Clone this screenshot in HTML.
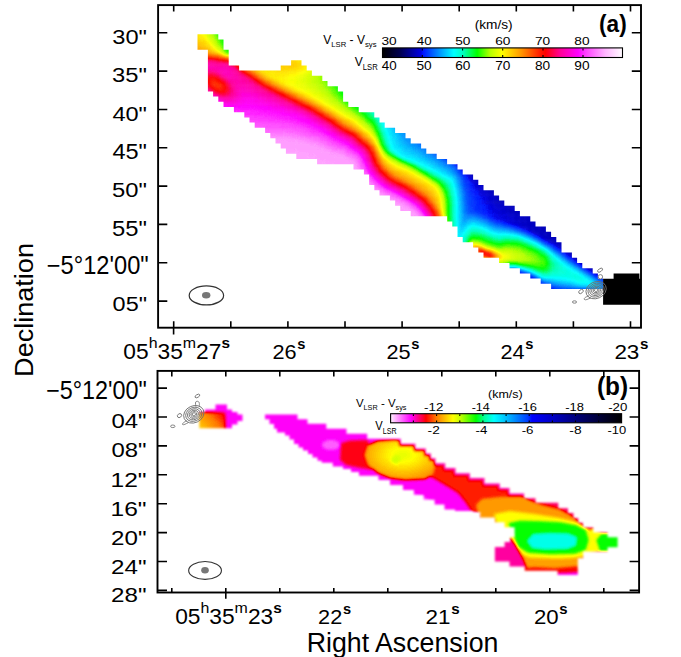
<!DOCTYPE html><html><head><meta charset="utf-8"><style>html,body{margin:0;padding:0;background:#fff;}svg{display:block}</style></head><body>
<svg width="681" height="657" viewBox="0 0 681 657">
<defs>
<linearGradient id="cbA" gradientUnits="userSpaceOnUse" x1="382.5" y1="0" x2="622.5" y2="0"><stop offset="0.0000" stop-color="rgb(0,0,0)"/><stop offset="0.0735" stop-color="rgb(0,0,80)"/><stop offset="0.1604" stop-color="rgb(0,0,225)"/><stop offset="0.1688" stop-color="rgb(0,20,255)"/><stop offset="0.2389" stop-color="rgb(0,150,255)"/><stop offset="0.2974" stop-color="rgb(0,255,255)"/><stop offset="0.3358" stop-color="rgb(0,255,190)"/><stop offset="0.3943" stop-color="rgb(0,255,0)"/><stop offset="0.4478" stop-color="rgb(180,255,0)"/><stop offset="0.4979" stop-color="rgb(255,255,0)"/><stop offset="0.5781" stop-color="rgb(255,150,0)"/><stop offset="0.6616" stop-color="rgb(255,20,0)"/><stop offset="0.6784" stop-color="rgb(255,0,0)"/><stop offset="0.7402" stop-color="rgb(255,0,150)"/><stop offset="0.8154" stop-color="rgb(255,0,255)"/><stop offset="0.8454" stop-color="rgb(255,60,255)"/><stop offset="0.9273" stop-color="rgb(255,180,255)"/><stop offset="1.0025" stop-color="rgb(255,252,255)"/></linearGradient>
<linearGradient id="cbB" gradientUnits="userSpaceOnUse" x1="390.3" y1="0" x2="621.8" y2="0"><stop offset="0.0030" stop-color="rgb(255,235,255)"/><stop offset="0.0894" stop-color="rgb(255,0,255)"/><stop offset="0.1542" stop-color="rgb(255,0,0)"/><stop offset="0.1974" stop-color="rgb(255,120,0)"/><stop offset="0.2708" stop-color="rgb(255,255,0)"/><stop offset="0.3011" stop-color="rgb(200,255,0)"/><stop offset="0.3702" stop-color="rgb(0,255,0)"/><stop offset="0.4048" stop-color="rgb(0,255,150)"/><stop offset="0.4479" stop-color="rgb(0,255,255)"/><stop offset="0.5171" stop-color="rgb(0,170,255)"/><stop offset="0.5948" stop-color="rgb(0,60,255)"/><stop offset="0.6121" stop-color="rgb(0,0,255)"/><stop offset="0.7114" stop-color="rgb(0,0,190)"/><stop offset="0.8194" stop-color="rgb(0,0,110)"/><stop offset="0.9274" stop-color="rgb(0,0,40)"/><stop offset="1.0000" stop-color="rgb(0,0,0)"/></linearGradient>
<filter id="fA" filterUnits="userSpaceOnUse" x="0" y="0" width="681" height="657" color-interpolation-filters="sRGB"><feGaussianBlur stdDeviation="1.6"/><feComponentTransfer><feFuncR type="table" tableValues="0 0 0 0 0 0 0 0 0 0 0 0 0 0 0 0 0 0 0 0 0 0 0 0 0 0 0 0 0 0 0 0 0 0 0 0 0 0 0 0 0 0 0 0 0 0 0 0 0 0 0 0 0 0 0 0 0 0 0 0 0 0 0 0 0 0 0 0 0 0 0 0 0 0 0 0 0 0 0 0 0 0 0 0 0 0 0 0 0 0 0 0 0 0 0 0.033 0.088 0.143 0.199 0.254 0.309 0.364 0.419 0.474 0.529 0.585 0.64 0.695 0.725 0.75 0.775 0.799 0.824 0.848 0.873 0.897 0.922 0.946 0.971 0.995 1 1 1 1 1 1 1 1 1 1 1 1 1 1 1 1 1 1 1 1 1 1 1 1 1 1 1 1 1 1 1 1 1 1 1 1 1 1 1 1 1 1 1 1 1 1 1 1 1 1 1 1 1 1 1 1 1 1 1 1 1 1 1 1 1 1 1 1 1 1 1 1 1 1 1 1 1 1 1 1 1 1 1 1 1 1 1 1 1 1 1 1 1 1 1 1 1 1 1 1 1 1 1 1 1 1 1 1 1 1 1 1 1 1 1 1 1 1 1 1 1"/><feFuncG type="table" tableValues="0 0 0 0 0 0 0 0 0 0 0 0 0 0 0 0 0 0 0 0 0 0 0 0 0 0 0 0 0 0 0 0 0 0 0 0 0 0 0 0.024 0.063 0.097 0.127 0.157 0.188 0.218 0.248 0.279 0.309 0.339 0.37 0.4 0.43 0.461 0.491 0.521 0.552 0.582 0.612 0.641 0.671 0.7 0.729 0.759 0.788 0.818 0.847 0.876 0.906 0.935 0.965 0.994 1 1 1 1 1 1 1 1 1 1 1 1 1 1 1 1 1 1 1 1 1 1 1 1 1 1 1 1 1 1 1 1 1 1 1 1 1 1 1 1 1 1 1 1 1 1 1 1 0.983 0.961 0.94 0.919 0.897 0.876 0.854 0.833 0.811 0.79 0.768 0.747 0.725 0.704 0.683 0.661 0.64 0.618 0.597 0.573 0.547 0.522 0.496 0.471 0.445 0.42 0.395 0.369 0.344 0.318 0.293 0.267 0.242 0.216 0.191 0.165 0.14 0.114 0.089 0.067 0.047 0.027 0.008 0 0 0 0 0 0 0 0 0 0 0 0 0 0 0 0 0 0 0 0 0 0 0 0 0 0 0 0 0 0 0 0 0 0.026 0.059 0.092 0.124 0.157 0.19 0.222 0.25 0.274 0.298 0.322 0.346 0.37 0.394 0.418 0.442 0.466 0.49 0.514 0.538 0.562 0.586 0.61 0.634 0.658 0.682 0.706 0.722 0.737 0.753 0.769 0.784 0.8 0.816 0.831 0.847 0.863 0.878 0.894 0.91 0.925 0.941 0.957 0.973 0.988"/><feFuncB type="table" tableValues="0 0.018 0.036 0.053 0.071 0.089 0.107 0.125 0.143 0.16 0.178 0.196 0.214 0.232 0.25 0.267 0.285 0.303 0.325 0.352 0.379 0.407 0.434 0.461 0.489 0.516 0.543 0.571 0.598 0.625 0.653 0.68 0.707 0.735 0.762 0.789 0.817 0.844 0.871 0.918 0.976 1 1 1 1 1 1 1 1 1 1 1 1 1 1 1 1 1 1 1 1 1 1 1 1 1 1 1 1 1 1 1 0.978 0.95 0.922 0.895 0.867 0.839 0.812 0.784 0.756 0.713 0.66 0.607 0.554 0.5 0.447 0.394 0.341 0.287 0.234 0.181 0.128 0.075 0.021 0 0 0 0 0 0 0 0 0 0 0 0 0 0 0 0 0 0 0 0 0 0 0 0 0 0 0 0 0 0 0 0 0 0 0 0 0 0 0 0 0 0 0 0 0 0 0 0 0 0 0 0 0 0 0 0 0 0 0 0 0 0 0 0 0 0 0 0 0.024 0.064 0.103 0.143 0.183 0.223 0.262 0.302 0.342 0.382 0.421 0.461 0.501 0.541 0.58 0.607 0.629 0.652 0.675 0.698 0.721 0.744 0.767 0.79 0.812 0.835 0.858 0.881 0.904 0.927 0.95 0.973 0.995 1 1 1 1 1 1 1 1 1 1 1 1 1 1 1 1 1 1 1 1 1 1 1 1 1 1 1 1 1 1 1 1 1 1 1 1 1 1 1 1 1 1 1 1 1"/></feComponentTransfer></filter>
<clipPath id="cA"><path d="M197.5,34.2 L202.7,34.2 L207.9,34.2 L213.1,34.2 L218.3,34.2 L218.3,39.4 L223.5,39.4 L223.5,49.8 L228.7,49.8 L228.7,65.4 L233.9,65.4 L239.1,65.4 L239.1,70.6 L244.3,70.6 L249.5,70.6 L254.7,70.6 L259.9,70.6 L265.1,70.6 L270.3,70.6 L275.5,70.6 L280.7,70.6 L280.7,65.4 L285.9,65.4 L291.1,65.4 L291.1,60.2 L296.3,60.2 L301.5,60.2 L301.5,65.4 L306.7,65.4 L306.7,70.6 L311.9,70.6 L311.9,75.8 L317.1,75.8 L322.3,75.8 L322.3,81.0 L327.5,81.0 L327.5,86.2 L332.7,86.2 L337.9,86.2 L337.9,91.4 L343.1,91.4 L343.1,101.8 L348.3,101.8 L348.3,107.0 L353.5,107.0 L358.7,107.0 L358.7,112.2 L363.9,112.2 L369.1,112.2 L374.3,112.2 L374.3,117.4 L379.5,117.4 L379.5,122.6 L384.7,122.6 L384.7,127.8 L389.9,127.8 L395.1,127.8 L395.1,133.0 L400.3,133.0 L405.5,133.0 L405.5,138.2 L410.7,138.2 L410.7,143.4 L415.9,143.4 L421.1,143.4 L421.1,148.6 L426.3,148.6 L426.3,153.8 L431.5,153.8 L436.7,153.8 L436.7,159.0 L441.9,159.0 L447.1,159.0 L447.1,164.2 L452.3,164.2 L457.5,164.2 L457.5,169.4 L462.7,169.4 L462.7,174.6 L467.9,174.6 L473.1,174.6 L473.1,179.8 L478.3,179.8 L478.3,185.0 L483.5,185.0 L483.5,190.2 L488.7,190.2 L493.9,190.2 L493.9,195.4 L499.1,195.4 L499.1,200.6 L504.3,200.6 L504.3,205.8 L509.5,205.8 L514.7,205.8 L514.7,211.0 L519.9,211.0 L519.9,216.2 L525.1,216.2 L530.3,216.2 L530.3,221.4 L535.5,221.4 L535.5,226.6 L540.7,226.6 L545.9,226.6 L545.9,231.8 L551.1,231.8 L551.1,237.0 L556.3,237.0 L556.3,242.2 L561.5,242.2 L561.5,252.6 L566.7,252.6 L571.9,252.6 L571.9,257.8 L577.1,257.8 L577.1,263.0 L582.3,263.0 L582.3,268.2 L587.5,268.2 L592.7,268.2 L592.7,273.4 L597.9,273.4 L597.9,278.6 L603.1,278.6 L603.1,289.0 L597.9,289.0 L592.7,289.0 L587.5,289.0 L582.3,289.0 L577.1,289.0 L571.9,289.0 L566.7,289.0 L561.5,289.0 L556.3,289.0 L551.1,289.0 L551.1,283.8 L545.9,283.8 L540.7,283.8 L540.7,278.6 L535.5,278.6 L530.3,278.6 L530.3,273.4 L525.1,273.4 L519.9,273.4 L519.9,268.2 L514.7,268.2 L509.5,268.2 L509.5,263.0 L504.3,263.0 L499.1,263.0 L499.1,257.8 L493.9,257.8 L488.7,257.8 L483.5,257.8 L483.5,252.6 L478.3,252.6 L478.3,247.4 L473.1,247.4 L473.1,242.2 L467.9,242.2 L462.7,242.2 L462.7,237.0 L457.5,237.0 L457.5,226.6 L452.3,226.6 L452.3,221.4 L447.1,221.4 L447.1,216.2 L441.9,216.2 L436.7,216.2 L431.5,216.2 L426.3,216.2 L421.1,216.2 L415.9,216.2 L410.7,216.2 L410.7,211.0 L405.5,211.0 L400.3,211.0 L400.3,205.8 L395.1,205.8 L395.1,200.6 L389.9,200.6 L389.9,195.4 L384.7,195.4 L379.5,195.4 L379.5,190.2 L374.3,190.2 L374.3,185.0 L369.1,185.0 L369.1,174.6 L363.9,174.6 L363.9,169.4 L358.7,169.4 L353.5,169.4 L353.5,164.2 L348.3,164.2 L343.1,164.2 L337.9,164.2 L332.7,164.2 L327.5,164.2 L322.3,164.2 L317.1,164.2 L317.1,159.0 L311.9,159.0 L306.7,159.0 L301.5,159.0 L296.3,159.0 L296.3,153.8 L291.1,153.8 L285.9,153.8 L285.9,148.6 L280.7,148.6 L280.7,143.4 L275.5,143.4 L275.5,138.2 L270.3,138.2 L270.3,133.0 L265.1,133.0 L265.1,127.8 L259.9,127.8 L254.7,127.8 L254.7,122.6 L249.5,122.6 L249.5,117.4 L244.3,117.4 L244.3,112.2 L239.1,112.2 L233.9,112.2 L233.9,107.0 L228.7,107.0 L223.5,107.0 L223.5,101.8 L218.3,101.8 L218.3,96.6 L213.1,96.6 L213.1,91.4 L207.9,91.4 L207.9,49.8 L202.7,49.8 L197.5,49.8 Z"/></clipPath>
<filter id="fB" filterUnits="userSpaceOnUse" x="0" y="0" width="681" height="657" color-interpolation-filters="sRGB"><feGaussianBlur stdDeviation="1.8"/><feComponentTransfer><feFuncR type="table" tableValues="1 1 1 1 1 1 1 1 1 1 1 1 1 1 1 1 1 1 1 1 1 1 1 1 1 1 1 1 1 1 1 1 1 1 1 1 1 1 1 1 1 1 1 1 1 1 1 1 1 1 1 1 1 1 1 1 1 1 1 1 1 1 1 1 1 1 0.97 0.941 0.911 0.881 0.851 0.822 0.792 0.749 0.702 0.655 0.607 0.56 0.513 0.466 0.418 0.371 0.324 0.276 0.229 0.182 0.135 0.087 0.04 0 0 0 0 0 0 0 0 0 0 0 0 0 0 0 0 0 0 0 0 0 0 0 0 0 0 0 0 0 0 0 0 0 0 0 0 0 0 0 0 0 0 0 0 0 0 0 0 0 0 0 0 0 0 0 0 0 0 0 0 0 0 0 0 0 0 0 0 0 0 0 0 0 0 0 0 0 0 0 0 0 0 0 0 0 0 0 0 0 0 0 0 0 0 0 0 0 0 0 0 0 0 0 0 0 0 0 0 0 0 0 0 0 0 0 0 0 0 0 0 0 0 0 0 0 0 0 0 0 0 0 0 0 0 0 0 0 0 0 0 0 0 0 0 0 0 0 0 0 0 0 0"/><feFuncG type="table" tableValues="0.922 0.909 0.865 0.82 0.776 0.732 0.687 0.643 0.598 0.554 0.509 0.465 0.42 0.376 0.332 0.287 0.243 0.198 0.154 0.109 0.065 0.02 0 0 0 0 0 0 0 0 0 0 0 0 0 0 0 0 0.045 0.09 0.136 0.181 0.226 0.272 0.317 0.363 0.408 0.453 0.489 0.519 0.549 0.579 0.609 0.639 0.67 0.7 0.73 0.76 0.79 0.82 0.85 0.88 0.91 0.94 0.97 1 1 1 1 1 1 1 1 1 1 1 1 1 1 1 1 1 1 1 1 1 1 1 1 1 1 1 1 1 1 1 1 1 1 1 1 1 1 1 1 1 1 1 0.99 0.97 0.95 0.93 0.91 0.89 0.87 0.849 0.829 0.809 0.789 0.769 0.749 0.729 0.709 0.689 0.669 0.646 0.623 0.6 0.576 0.553 0.53 0.507 0.484 0.461 0.438 0.415 0.391 0.368 0.345 0.322 0.299 0.276 0.253 0.221 0.165 0.108 0.051 0 0 0 0 0 0 0 0 0 0 0 0 0 0 0 0 0 0 0 0 0 0 0 0 0 0 0 0 0 0 0 0 0 0 0 0 0 0 0 0 0 0 0 0 0 0 0 0 0 0 0 0 0 0 0 0 0 0 0 0 0 0 0 0 0 0 0 0 0 0 0 0 0 0 0 0 0 0 0 0 0 0 0 0 0 0 0 0 0 0 0 0 0 0"/><feFuncB type="table" tableValues="1 1 1 1 1 1 1 1 1 1 1 1 1 1 1 1 1 1 1 1 1 1 0.965 0.901 0.837 0.772 0.708 0.644 0.579 0.515 0.451 0.387 0.322 0.258 0.194 0.129 0.065 0.001 0 0 0 0 0 0 0 0 0 0 0 0 0 0 0 0 0 0 0 0 0 0 0 0 0 0 0 0 0 0 0 0 0 0 0 0 0 0 0 0 0 0 0 0 0 0 0 0 0 0 0 0.011 0.082 0.153 0.224 0.295 0.366 0.436 0.507 0.578 0.622 0.662 0.702 0.742 0.781 0.821 0.861 0.9 0.94 0.98 1 1 1 1 1 1 1 1 1 1 1 1 1 1 1 1 1 1 1 1 1 1 1 1 1 1 1 1 1 1 1 1 1 1 1 1 1 1 1 0.999 0.988 0.978 0.967 0.956 0.946 0.935 0.924 0.913 0.903 0.892 0.881 0.871 0.86 0.849 0.839 0.828 0.817 0.807 0.796 0.785 0.774 0.764 0.753 0.742 0.73 0.718 0.706 0.694 0.682 0.669 0.657 0.645 0.633 0.621 0.609 0.597 0.585 0.573 0.56 0.548 0.536 0.524 0.512 0.5 0.488 0.476 0.464 0.452 0.439 0.428 0.417 0.407 0.396 0.385 0.375 0.364 0.354 0.343 0.333 0.322 0.311 0.301 0.29 0.28 0.269 0.258 0.248 0.237 0.227 0.216 0.205 0.195 0.184 0.174 0.163 0.153 0.144 0.135 0.126 0.117 0.108 0.099 0.09 0.081 0.072 0.063 0.054 0.045 0.036 0.027 0.018 0.009 0"/></feComponentTransfer></filter>
<filter id="fM" filterUnits="userSpaceOnUse" x="0" y="0" width="681" height="657"><feGaussianBlur stdDeviation="1.3"/></filter>
<mask id="mB" maskUnits="userSpaceOnUse" x="0" y="0" width="681" height="657"><path fill="#fff" filter="url(#fM)" d="M265,414.5 L297.5,414.5 L297.5,419.2 L307.5,419.2 L307.5,423.7 L326.3,423.7 L326.3,428.8 L346.5,428.8 L346.5,433.7 L367.2,433.7 L367.2,438.8 L400.8,438.8 L400.8,443.7 L415.4,443.7 L415.4,448.6 L425.8,448.6 L425.8,453.5 L430.9,453.5 L430.9,458.3 L435.5,458.3 L435.5,463.2 L445.2,463.2 L445.2,468.1 L455.5,468.1 L455.5,473.3 L469.9,473.3 L469.9,478.1 L484.5,478.1 L484.5,483.6 L499.8,483.6 L499.8,487.9 L509.5,487.9 L509.5,493.4 L524.1,493.4 L524.1,498.2 L535.5,498.2 L535.5,502.8 L558.3,502.8 L558.3,508.3 L568,508.3 L568,513.1 L573.5,513.1 L573.5,517.9 L578.3,517.9 L578.3,522.8 L583,522.8 L583,527.6 L593.2,527.6 L593.2,532.4 L607.6,532.4 L607.6,537.2 L617.6,537.2 L617.6,547.2 L607.6,547.2 L607.6,551.4 L583.1,551.4 L583.1,558.2 L577.8,558.2 L577.8,575 L557.6,575 L557.6,570.8 L524.7,570.8 L524.7,566.5 L509.5,566.5 L509.5,561.6 L494.9,561.6 L494.9,547 L504.6,547 L504.6,542.1 L510.1,542.1 L510.1,537.3 L514.6,537.3 L514.6,527.2 L504.6,527.2 L504.6,522.2 L494.9,522.2 L494.9,517.4 L480.3,517.4 L480.3,512 L473,512 L473,511 L455,511 L455,509.5 L444.5,509.5 L444.5,504.6 L434.6,504.6 L434.6,499.7 L423.6,499.7 L423.6,494.9 L413.9,494.9 L413.9,490 L403,490 L403,485 L390,485 L390,480 L378.5,480 L378.5,475.7 L359,475.7 L359,472 L351,472 L351,469 L343,469 L343,466.6 L332.8,466.6 L332.8,462.7 L321.7,462.7 L321.7,460.8 L317.5,460.8 L317.5,457.5 L312.5,457.5 L312.5,454 L308,454 L308,450.5 L303,450.5 L303,447.5 L298.5,447.5 L298.5,444 L294,444 L294,439.5 L289.5,439.5 L289.5,435.5 L285,435.5 L285,432.5 L277,432.5 L277,428.8 L274,428.8 L274,424 L269.5,424 L269.5,419.2 L265,419.2 Z M199.3,412.1 L205,412.1 L205,409.5 L215.5,409.5 L215.5,404.5 L227,404.5 L227,409.5 L232,409.5 L232,412 L237.5,412 L237.5,414.5 L242.5,414.5 L242.5,421 L237.5,421 L237.5,424.5 L232,424.5 L232,428.2 L199.3,428.2 Z"/></mask>
</defs>
<rect width="681" height="657" fill="#fff"/>
<g clip-path="url(#cA)"><g filter="url(#fA)">
<path fill="rgb(32,32,32)" d="M457.8 158.0h3.0v3.0h-3.0zM494.2 184.0h3.0v3.0h-3.0zM499.4 189.2h3.0v3.0h-3.0z"/>
<path fill="rgb(33,33,33)" d="M455.2 158.0h3.0v3.0h-3.0zM457.8 160.6h5.6v3.0h-5.6zM463.0 163.2h3.0v3.0h-3.0zM465.6 165.8h3.0v3.0h-3.0zM468.2 168.4h5.6v3.0h-5.6zM473.4 171.0h3.0v3.0h-3.0zM476.0 173.6h3.0v3.0h-3.0zM478.6 176.2h3.0v3.0h-3.0zM481.2 178.8h5.6v3.0h-5.6zM486.4 181.4h3.0v3.0h-3.0zM489.0 184.0h5.6v3.0h-5.6zM491.6 186.6h5.6v3.0h-5.6zM496.8 189.2h3.0v3.0h-3.0zM499.4 191.8h5.6v3.0h-5.6zM504.6 194.4h3.0v3.0h-3.0zM512.4 199.6h3.0v3.0h-3.0zM517.6 202.2h3.0v3.0h-3.0zM530.6 210.0h3.0v3.0h-3.0zM543.6 220.4h3.0v3.0h-3.0zM546.2 223.0h3.0v3.0h-3.0zM556.6 230.8h3.0v3.0h-3.0zM593.0 262.0h3.0v3.0h-3.0z"/>
<path fill="rgb(34,34,34)" d="M452.6 158.0h3.0v3.0h-3.0zM455.2 160.6h3.0v3.0h-3.0zM460.4 163.2h3.0v3.0h-3.0zM463.0 165.8h3.0v3.0h-3.0zM465.6 168.4h3.0v3.0h-3.0zM470.8 171.0h3.0v3.0h-3.0zM473.4 173.6h3.0v3.0h-3.0zM476.0 176.2h3.0v3.0h-3.0zM478.6 178.8h3.0v3.0h-3.0zM483.8 181.4h3.0v3.0h-3.0zM486.4 184.0h3.0v3.0h-3.0zM489.0 186.6h3.0v3.0h-3.0zM491.6 189.2h5.6v3.0h-5.6zM496.8 191.8h3.0v3.0h-3.0zM499.4 194.4h5.6v3.0h-5.6zM504.6 197.0h3.0v3.0h-3.0zM507.2 199.6h5.6v3.0h-5.6zM512.4 202.2h5.6v3.0h-5.6zM517.6 204.8h5.6v3.0h-5.6zM520.2 207.4h3.0v3.0h-3.0zM525.4 210.0h5.6v3.0h-5.6zM530.6 212.6h3.0v3.0h-3.0zM533.2 215.2h5.6v3.0h-5.6zM535.8 217.8h5.6v3.0h-5.6zM538.4 220.4h5.6v3.0h-5.6zM541.0 223.0h5.6v3.0h-5.6zM546.2 225.6h5.6v3.0h-5.6zM548.8 228.2h5.6v3.0h-5.6zM551.4 230.8h5.6v3.0h-5.6zM554.0 233.4h5.6v3.0h-5.6zM556.6 236.0h8.2v3.0h-8.2zM559.2 238.6h8.2v3.0h-8.2zM564.4 241.2h5.6v3.0h-5.6zM567.0 243.8h3.0v3.0h-3.0zM569.6 246.4h3.0v3.0h-3.0zM572.2 249.0h3.0v3.0h-3.0zM574.8 251.6h3.0v3.0h-3.0zM577.4 254.2h3.0v3.0h-3.0zM580.0 256.8h5.6v3.0h-5.6zM582.6 259.4h3.0v3.0h-3.0zM585.2 262.0h8.2v3.0h-8.2zM590.4 264.6h8.2v3.0h-8.2zM593.0 267.2h8.2v3.0h-8.2zM598.2 269.8h3.0v3.0h-3.0z"/>
<path fill="rgb(35,35,35)" d="M457.8 163.2h3.0v3.0h-3.0zM468.2 171.0h3.0v3.0h-3.0zM481.2 181.4h3.0v3.0h-3.0zM483.8 184.0h3.0v3.0h-3.0zM486.4 186.6h3.0v3.0h-3.0zM489.0 189.2h3.0v3.0h-3.0zM494.2 191.8h3.0v3.0h-3.0zM496.8 194.4h3.0v3.0h-3.0zM499.4 197.0h5.6v3.0h-5.6zM502.0 199.6h5.6v3.0h-5.6zM507.2 202.2h5.6v3.0h-5.6zM509.8 204.8h8.2v3.0h-8.2zM515.0 207.4h5.6v3.0h-5.6zM517.6 210.0h8.2v3.0h-8.2zM522.8 212.6h8.2v3.0h-8.2zM525.4 215.2h8.2v3.0h-8.2zM530.6 217.8h5.6v3.0h-5.6zM533.2 220.4h5.6v3.0h-5.6zM535.8 223.0h5.6v3.0h-5.6zM538.4 225.6h8.2v3.0h-8.2zM541.0 228.2h8.2v3.0h-8.2zM543.6 230.8h8.2v3.0h-8.2zM546.2 233.4h8.2v3.0h-8.2zM548.8 236.0h8.2v3.0h-8.2zM551.4 238.6h8.2v3.0h-8.2zM556.6 241.2h8.2v3.0h-8.2zM559.2 243.8h8.2v3.0h-8.2zM561.8 246.4h8.2v3.0h-8.2zM564.4 249.0h8.2v3.0h-8.2zM569.6 251.6h5.6v3.0h-5.6zM572.2 254.2h5.6v3.0h-5.6zM574.8 256.8h5.6v3.0h-5.6zM577.4 259.4h5.6v3.0h-5.6zM582.6 262.0h3.0v3.0h-3.0zM585.2 264.6h5.6v3.0h-5.6zM590.4 267.2h3.0v3.0h-3.0zM593.0 269.8h5.6v3.0h-5.6zM600.8 269.8h3.0v3.0h-3.0zM598.2 272.4h3.0v3.0h-3.0z"/>
<path fill="rgb(36,36,36)" d="M447.4 152.8h3.0v3.0h-3.0zM447.4 155.4h3.0v3.0h-3.0zM470.8 173.6h3.0v3.0h-3.0zM473.4 176.2h3.0v3.0h-3.0zM476.0 178.8h3.0v3.0h-3.0zM478.6 181.4h3.0v3.0h-3.0zM481.2 184.0h3.0v3.0h-3.0zM483.8 186.6h3.0v3.0h-3.0zM491.6 191.8h3.0v3.0h-3.0zM494.2 194.4h3.0v3.0h-3.0zM496.8 197.0h3.0v3.0h-3.0zM499.4 199.6h3.0v3.0h-3.0zM502.0 202.2h5.6v3.0h-5.6zM507.2 204.8h3.0v3.0h-3.0zM509.8 207.4h5.6v3.0h-5.6zM512.4 210.0h5.6v3.0h-5.6zM517.6 212.6h5.6v3.0h-5.6zM520.2 215.2h5.6v3.0h-5.6zM522.8 217.8h8.2v3.0h-8.2zM525.4 220.4h8.2v3.0h-8.2zM528.0 223.0h8.2v3.0h-8.2zM530.6 225.6h8.2v3.0h-8.2zM533.2 228.2h8.2v3.0h-8.2zM535.8 230.8h8.2v3.0h-8.2zM538.4 233.4h8.2v3.0h-8.2zM543.6 236.0h5.6v3.0h-5.6zM548.8 238.6h3.0v3.0h-3.0zM554.0 241.2h3.0v3.0h-3.0zM556.6 243.8h3.0v3.0h-3.0zM567.0 251.6h3.0v3.0h-3.0zM587.8 267.2h3.0v3.0h-3.0z"/>
<path fill="rgb(37,37,37)" d="M450.0 158.0h3.0v3.0h-3.0zM460.4 165.8h3.0v3.0h-3.0zM463.0 168.4h3.0v3.0h-3.0zM486.4 189.2h3.0v3.0h-3.0zM489.0 191.8h3.0v3.0h-3.0zM491.6 194.4h3.0v3.0h-3.0zM494.2 197.0h3.0v3.0h-3.0zM494.2 199.6h5.6v3.0h-5.6zM499.4 202.2h3.0v3.0h-3.0zM502.0 204.8h5.6v3.0h-5.6zM504.6 207.4h5.6v3.0h-5.6zM507.2 210.0h5.6v3.0h-5.6zM509.8 212.6h8.2v3.0h-8.2zM515.0 215.2h5.6v3.0h-5.6zM517.6 217.8h5.6v3.0h-5.6zM520.2 220.4h5.6v3.0h-5.6zM522.8 223.0h5.6v3.0h-5.6zM525.4 225.6h5.6v3.0h-5.6zM528.0 228.2h5.6v3.0h-5.6zM533.2 230.8h3.0v3.0h-3.0zM541.0 236.0h3.0v3.0h-3.0zM546.2 238.6h3.0v3.0h-3.0zM569.6 254.2h3.0v3.0h-3.0zM580.0 262.0h3.0v3.0h-3.0zM595.6 272.4h3.0v3.0h-3.0zM587.8 293.2h8.2v3.0h-8.2z"/>
<path fill="rgb(38,38,38)" d="M465.6 171.0h3.0v3.0h-3.0zM468.2 173.6h3.0v3.0h-3.0zM470.8 176.2h3.0v3.0h-3.0zM473.4 178.8h3.0v3.0h-3.0zM476.0 181.4h3.0v3.0h-3.0zM478.6 184.0h3.0v3.0h-3.0zM481.2 186.6h3.0v3.0h-3.0zM483.8 189.2h3.0v3.0h-3.0zM486.4 191.8h3.0v3.0h-3.0zM489.0 194.4h3.0v3.0h-3.0zM489.0 197.0h5.6v3.0h-5.6zM491.6 199.6h3.0v3.0h-3.0zM494.2 202.2h5.6v3.0h-5.6zM496.8 204.8h5.6v3.0h-5.6zM499.4 207.4h5.6v3.0h-5.6zM502.0 210.0h5.6v3.0h-5.6zM507.2 212.6h3.0v3.0h-3.0zM509.8 215.2h5.6v3.0h-5.6zM512.4 217.8h5.6v3.0h-5.6zM515.0 220.4h5.6v3.0h-5.6zM517.6 223.0h5.6v3.0h-5.6zM522.8 225.6h3.0v3.0h-3.0zM551.4 241.2h3.0v3.0h-3.0zM559.2 246.4h3.0v3.0h-3.0zM572.2 256.8h3.0v3.0h-3.0zM577.4 293.2h10.8v3.0h-10.8z"/>
<path fill="rgb(39,39,39)" d="M476.0 184.0h3.0v3.0h-3.0zM478.6 186.6h3.0v3.0h-3.0zM481.2 189.2h3.0v3.0h-3.0zM483.8 191.8h3.0v3.0h-3.0zM486.4 194.4h3.0v3.0h-3.0zM486.4 197.0h3.0v3.0h-3.0zM489.0 199.6h3.0v3.0h-3.0zM491.6 202.2h3.0v3.0h-3.0zM494.2 204.8h3.0v3.0h-3.0zM496.8 207.4h3.0v3.0h-3.0zM499.4 210.0h3.0v3.0h-3.0zM502.0 212.6h5.6v3.0h-5.6zM504.6 215.2h5.6v3.0h-5.6zM507.2 217.8h5.6v3.0h-5.6zM509.8 220.4h5.6v3.0h-5.6zM515.0 223.0h3.0v3.0h-3.0zM520.2 225.6h3.0v3.0h-3.0zM530.6 230.8h3.0v3.0h-3.0zM535.8 233.4h3.0v3.0h-3.0zM582.6 264.6h3.0v3.0h-3.0zM590.4 269.8h3.0v3.0h-3.0zM600.8 272.4h3.0v3.0h-3.0zM587.8 290.6h3.0v3.0h-3.0zM564.4 293.2h13.4v3.0h-13.4zM595.6 293.2h3.0v3.0h-3.0z"/>
<path fill="rgb(40,40,40)" d="M452.6 160.6h3.0v3.0h-3.0zM470.8 178.8h3.0v3.0h-3.0zM473.4 181.4h3.0v3.0h-3.0zM478.6 189.2h3.0v3.0h-3.0zM481.2 191.8h3.0v3.0h-3.0zM483.8 194.4h3.0v3.0h-3.0zM486.4 199.6h3.0v3.0h-3.0zM489.0 202.2h3.0v3.0h-3.0zM491.6 204.8h3.0v3.0h-3.0zM491.6 207.4h5.6v3.0h-5.6zM494.2 210.0h5.6v3.0h-5.6zM496.8 212.6h5.6v3.0h-5.6zM499.4 215.2h5.6v3.0h-5.6zM502.0 217.8h5.6v3.0h-5.6zM504.6 220.4h5.6v3.0h-5.6zM512.4 223.0h3.0v3.0h-3.0zM525.4 228.2h3.0v3.0h-3.0zM543.6 238.6h3.0v3.0h-3.0zM554.0 243.8h3.0v3.0h-3.0zM561.8 249.0h3.0v3.0h-3.0zM574.8 259.4h3.0v3.0h-3.0zM556.6 293.2h8.2v3.0h-8.2z"/>
<path fill="rgb(41,41,41)" d="M421.4 137.2h3.0v3.0h-3.0zM444.8 152.8h3.0v3.0h-3.0zM460.4 168.4h3.0v3.0h-3.0zM463.0 171.0h3.0v3.0h-3.0zM465.6 173.6h3.0v3.0h-3.0zM468.2 176.2h3.0v3.0h-3.0zM473.4 184.0h3.0v3.0h-3.0zM476.0 186.6h3.0v3.0h-3.0zM478.6 191.8h3.0v3.0h-3.0zM481.2 194.4h3.0v3.0h-3.0zM483.8 197.0h3.0v3.0h-3.0zM483.8 199.6h3.0v3.0h-3.0zM486.4 202.2h3.0v3.0h-3.0zM489.0 204.8h3.0v3.0h-3.0zM489.0 207.4h3.0v3.0h-3.0zM491.6 210.0h3.0v3.0h-3.0zM494.2 212.6h3.0v3.0h-3.0zM494.2 215.2h5.6v3.0h-5.6zM496.8 217.8h5.6v3.0h-5.6zM517.6 225.6h3.0v3.0h-3.0zM548.8 241.2h3.0v3.0h-3.0zM564.4 251.6h3.0v3.0h-3.0zM567.0 254.2h3.0v3.0h-3.0zM585.2 267.2h3.0v3.0h-3.0zM593.0 272.4h3.0v3.0h-3.0zM598.2 275.0h3.0v3.0h-3.0zM541.0 285.4h5.6v3.0h-5.6zM543.6 288.0h8.2v3.0h-8.2zM546.2 290.6h8.2v3.0h-8.2zM585.2 290.6h3.0v3.0h-3.0zM548.8 293.2h8.2v3.0h-8.2z"/>
<path fill="rgb(42,42,42)" d="M444.8 155.4h3.0v3.0h-3.0zM455.2 163.2h3.0v3.0h-3.0zM457.8 165.8h3.0v3.0h-3.0zM468.2 178.8h3.0v3.0h-3.0zM470.8 181.4h3.0v3.0h-3.0zM473.4 186.6h3.0v3.0h-3.0zM476.0 189.2h3.0v3.0h-3.0zM478.6 194.4h3.0v3.0h-3.0zM481.2 197.0h3.0v3.0h-3.0zM481.2 199.6h3.0v3.0h-3.0zM483.8 202.2h3.0v3.0h-3.0zM486.4 204.8h3.0v3.0h-3.0zM486.4 207.4h3.0v3.0h-3.0zM489.0 210.0h3.0v3.0h-3.0zM489.0 212.6h5.6v3.0h-5.6zM491.6 215.2h3.0v3.0h-3.0zM494.2 217.8h3.0v3.0h-3.0zM502.0 220.4h3.0v3.0h-3.0zM509.8 223.0h3.0v3.0h-3.0zM533.2 233.4h3.0v3.0h-3.0zM538.4 236.0h3.0v3.0h-3.0zM556.6 246.4h3.0v3.0h-3.0zM577.4 262.0h3.0v3.0h-3.0zM528.0 275.0h3.0v3.0h-3.0zM530.6 277.6h5.6v3.0h-5.6zM530.6 280.2h8.2v3.0h-8.2zM533.2 282.8h8.2v3.0h-8.2zM535.8 285.4h5.6v3.0h-5.6zM541.0 288.0h3.0v3.0h-3.0zM554.0 290.6h3.0v3.0h-3.0zM580.0 290.6h5.6v3.0h-5.6zM590.4 290.6h3.0v3.0h-3.0zM598.2 293.2h3.0v3.0h-3.0z"/>
<path fill="rgb(43,43,43)" d="M470.8 184.0h3.0v3.0h-3.0zM473.4 189.2h3.0v3.0h-3.0zM476.0 191.8h3.0v3.0h-3.0zM478.6 197.0h3.0v3.0h-3.0zM481.2 202.2h3.0v3.0h-3.0zM483.8 204.8h3.0v3.0h-3.0zM483.8 207.4h3.0v3.0h-3.0zM486.4 210.0h3.0v3.0h-3.0zM486.4 212.6h3.0v3.0h-3.0zM489.0 215.2h3.0v3.0h-3.0zM522.8 228.2h3.0v3.0h-3.0zM528.0 230.8h3.0v3.0h-3.0zM569.6 256.8h3.0v3.0h-3.0zM587.8 269.8h3.0v3.0h-3.0zM520.2 272.4h5.6v3.0h-5.6zM520.2 275.0h8.2v3.0h-8.2zM600.8 275.0h3.0v3.0h-3.0zM522.8 277.6h8.2v3.0h-8.2zM525.4 280.2h5.6v3.0h-5.6zM528.0 282.8h5.6v3.0h-5.6zM556.6 290.6h3.0v3.0h-3.0zM577.4 290.6h3.0v3.0h-3.0z"/>
<path fill="rgb(44,44,44)" d="M424.0 139.8h3.0v3.0h-3.0zM447.4 158.0h3.0v3.0h-3.0zM463.0 173.6h3.0v3.0h-3.0zM465.6 176.2h3.0v3.0h-3.0zM468.2 181.4h3.0v3.0h-3.0zM470.8 186.6h3.0v3.0h-3.0zM473.4 191.8h3.0v3.0h-3.0zM476.0 194.4h3.0v3.0h-3.0zM476.0 197.0h3.0v3.0h-3.0zM478.6 199.6h3.0v3.0h-3.0zM478.6 202.2h3.0v3.0h-3.0zM481.2 204.8h3.0v3.0h-3.0zM481.2 207.4h3.0v3.0h-3.0zM483.8 210.0h3.0v3.0h-3.0zM483.8 212.6h3.0v3.0h-3.0zM491.6 217.8h3.0v3.0h-3.0zM499.4 220.4h3.0v3.0h-3.0zM507.2 223.0h3.0v3.0h-3.0zM515.0 225.6h3.0v3.0h-3.0zM541.0 238.6h3.0v3.0h-3.0zM546.2 241.2h3.0v3.0h-3.0zM551.4 243.8h3.0v3.0h-3.0zM559.2 249.0h3.0v3.0h-3.0zM572.2 259.4h3.0v3.0h-3.0zM580.0 264.6h3.0v3.0h-3.0zM512.4 269.8h8.2v3.0h-8.2zM512.4 272.4h8.2v3.0h-8.2zM517.6 275.0h3.0v3.0h-3.0zM595.6 275.0h3.0v3.0h-3.0zM520.2 277.6h3.0v3.0h-3.0zM546.2 285.4h3.0v3.0h-3.0zM608.6 285.4h3.0v3.0h-3.0zM551.4 288.0h3.0v3.0h-3.0zM559.2 290.6h18.6v3.0h-18.6z"/>
<path fill="rgb(45,45,45)" d="M442.2 152.8h3.0v3.0h-3.0zM460.4 171.0h3.0v3.0h-3.0zM465.6 178.8h3.0v3.0h-3.0zM468.2 184.0h3.0v3.0h-3.0zM470.8 189.2h3.0v3.0h-3.0zM473.4 194.4h3.0v3.0h-3.0zM476.0 199.6h3.0v3.0h-3.0zM476.0 202.2h3.0v3.0h-3.0zM478.6 204.8h3.0v3.0h-3.0zM478.6 207.4h3.0v3.0h-3.0zM481.2 210.0h3.0v3.0h-3.0zM481.2 212.6h3.0v3.0h-3.0zM486.4 215.2h3.0v3.0h-3.0zM520.2 228.2h3.0v3.0h-3.0zM554.0 246.4h3.0v3.0h-3.0zM561.8 251.6h3.0v3.0h-3.0zM507.2 269.8h5.6v3.0h-5.6zM509.8 272.4h3.0v3.0h-3.0zM530.6 275.0h3.0v3.0h-3.0zM541.0 282.8h3.0v3.0h-3.0zM593.0 290.6h3.0v3.0h-3.0z"/>
<path fill="rgb(46,46,46)" d="M426.6 142.4h3.0v3.0h-3.0zM450.0 160.6h3.0v3.0h-3.0zM457.8 168.4h3.0v3.0h-3.0zM468.2 186.6h3.0v3.0h-3.0zM470.8 191.8h3.0v3.0h-3.0zM473.4 197.0h3.0v3.0h-3.0zM473.4 199.6h3.0v3.0h-3.0zM476.0 204.8h3.0v3.0h-3.0zM476.0 207.4h3.0v3.0h-3.0zM478.6 210.0h3.0v3.0h-3.0zM496.8 220.4h3.0v3.0h-3.0zM504.6 223.0h3.0v3.0h-3.0zM512.4 225.6h3.0v3.0h-3.0zM525.4 230.8h3.0v3.0h-3.0zM530.6 233.4h3.0v3.0h-3.0zM535.8 236.0h3.0v3.0h-3.0zM564.4 254.2h3.0v3.0h-3.0zM574.8 262.0h3.0v3.0h-3.0zM582.6 267.2h3.0v3.0h-3.0zM525.4 272.4h3.0v3.0h-3.0zM590.4 272.4h3.0v3.0h-3.0zM538.4 280.2h3.0v3.0h-3.0z"/>
<path fill="rgb(47,47,47)" d="M463.0 176.2h3.0v3.0h-3.0zM465.6 181.4h3.0v3.0h-3.0zM468.2 189.2h3.0v3.0h-3.0zM470.8 194.4h3.0v3.0h-3.0zM470.8 197.0h3.0v3.0h-3.0zM473.4 202.2h3.0v3.0h-3.0zM473.4 204.8h3.0v3.0h-3.0zM473.4 207.4h3.0v3.0h-3.0zM476.0 210.0h3.0v3.0h-3.0zM478.6 212.6h3.0v3.0h-3.0zM489.0 217.8h3.0v3.0h-3.0zM494.2 220.4h3.0v3.0h-3.0zM543.6 241.2h3.0v3.0h-3.0zM548.8 243.8h3.0v3.0h-3.0zM556.6 249.0h3.0v3.0h-3.0zM567.0 256.8h3.0v3.0h-3.0zM603.4 272.4h3.0v3.0h-3.0zM598.2 277.6h5.6v3.0h-5.6zM543.6 282.8h3.0v3.0h-3.0zM548.8 285.4h3.0v3.0h-3.0zM554.0 288.0h3.0v3.0h-3.0zM595.6 290.6h3.0v3.0h-3.0zM600.8 293.2h3.0v3.0h-3.0z"/>
<path fill="rgb(48,48,48)" d="M442.2 155.4h3.0v3.0h-3.0zM455.2 165.8h3.0v3.0h-3.0zM460.4 173.6h3.0v3.0h-3.0zM463.0 178.8h3.0v3.0h-3.0zM465.6 184.0h3.0v3.0h-3.0zM465.6 186.6h3.0v3.0h-3.0zM468.2 191.8h3.0v3.0h-3.0zM468.2 194.4h3.0v3.0h-3.0zM470.8 199.6h3.0v3.0h-3.0zM470.8 202.2h3.0v3.0h-3.0zM470.8 204.8h3.0v3.0h-3.0zM473.4 210.0h3.0v3.0h-3.0zM483.8 215.2h3.0v3.0h-3.0zM502.0 223.0h3.0v3.0h-3.0zM509.8 225.6h3.0v3.0h-3.0zM517.6 228.2h3.0v3.0h-3.0zM577.4 264.6h3.0v3.0h-3.0zM585.2 269.8h3.0v3.0h-3.0zM593.0 275.0h3.0v3.0h-3.0zM603.4 275.0h3.0v3.0h-3.0zM606.0 285.4h3.0v3.0h-3.0zM556.6 288.0h8.2v3.0h-8.2zM606.0 288.0h3.0v3.0h-3.0z"/>
<path fill="rgb(49,49,49)" d="M439.6 150.2h3.0v3.0h-3.0zM439.6 152.8h3.0v3.0h-3.0zM452.6 163.2h3.0v3.0h-3.0zM463.0 181.4h3.0v3.0h-3.0zM465.6 189.2h3.0v3.0h-3.0zM468.2 197.0h3.0v3.0h-3.0zM468.2 199.6h3.0v3.0h-3.0zM468.2 202.2h3.0v3.0h-3.0zM470.8 207.4h3.0v3.0h-3.0zM470.8 210.0h3.0v3.0h-3.0zM522.8 230.8h3.0v3.0h-3.0zM533.2 236.0h3.0v3.0h-3.0zM538.4 238.6h3.0v3.0h-3.0zM551.4 246.4h3.0v3.0h-3.0zM559.2 251.6h3.0v3.0h-3.0zM569.6 259.4h3.0v3.0h-3.0zM520.2 269.8h3.0v3.0h-3.0zM535.8 277.6h3.0v3.0h-3.0zM603.4 277.6h3.0v3.0h-3.0zM608.6 282.8h3.0v3.0h-3.0zM551.4 285.4h3.0v3.0h-3.0zM564.4 288.0h5.6v3.0h-5.6zM598.2 290.6h3.0v3.0h-3.0z"/>
<path fill="rgb(50,50,50)" d="M431.8 147.6h3.0v3.0h-3.0zM444.8 158.0h3.0v3.0h-3.0zM457.8 171.0h3.0v3.0h-3.0zM463.0 184.0h3.0v3.0h-3.0zM465.6 191.8h3.0v3.0h-3.0zM465.6 194.4h3.0v3.0h-3.0zM468.2 204.8h3.0v3.0h-3.0zM468.2 207.4h3.0v3.0h-3.0zM468.2 210.0h3.0v3.0h-3.0zM476.0 212.6h3.0v3.0h-3.0zM481.2 215.2h3.0v3.0h-3.0zM491.6 220.4h3.0v3.0h-3.0zM499.4 223.0h3.0v3.0h-3.0zM507.2 225.6h3.0v3.0h-3.0zM515.0 228.2h3.0v3.0h-3.0zM528.0 233.4h3.0v3.0h-3.0zM561.8 254.2h3.0v3.0h-3.0zM580.0 267.2h3.0v3.0h-3.0zM528.0 272.4h3.0v3.0h-3.0zM546.2 282.8h3.0v3.0h-3.0zM606.0 282.8h3.0v3.0h-3.0zM569.6 288.0h21.2v3.0h-21.2z"/>
<path fill="rgb(51,51,51)" d="M418.8 137.2h3.0v3.0h-3.0zM434.4 147.6h3.0v3.0h-3.0zM434.4 150.2h5.6v3.0h-5.6zM460.4 176.2h3.0v3.0h-3.0zM463.0 186.6h3.0v3.0h-3.0zM465.6 197.0h3.0v3.0h-3.0zM465.6 199.6h3.0v3.0h-3.0zM465.6 202.2h3.0v3.0h-3.0zM486.4 217.8h3.0v3.0h-3.0zM546.2 243.8h3.0v3.0h-3.0zM554.0 249.0h3.0v3.0h-3.0zM572.2 262.0h3.0v3.0h-3.0zM587.8 272.4h3.0v3.0h-3.0zM595.6 277.6h3.0v3.0h-3.0zM600.8 280.2h5.6v3.0h-5.6zM554.0 285.4h3.0v3.0h-3.0zM600.8 290.6h3.0v3.0h-3.0z"/>
<path fill="rgb(52,52,52)" d="M421.4 139.8h3.0v3.0h-3.0zM424.0 142.4h3.0v3.0h-3.0zM426.6 145.0h3.0v3.0h-3.0zM437.0 152.8h3.0v3.0h-3.0zM439.6 155.4h3.0v3.0h-3.0zM447.4 160.6h3.0v3.0h-3.0zM455.2 168.4h3.0v3.0h-3.0zM465.6 204.8h3.0v3.0h-3.0zM465.6 207.4h3.0v3.0h-3.0zM473.4 212.6h3.0v3.0h-3.0zM496.8 223.0h3.0v3.0h-3.0zM541.0 241.2h3.0v3.0h-3.0zM564.4 256.8h3.0v3.0h-3.0zM533.2 275.0h3.0v3.0h-3.0zM606.0 280.2h3.0v3.0h-3.0zM603.4 290.6h3.0v3.0h-3.0z"/>
<path fill="rgb(53,53,53)" d="M416.2 137.2h3.0v3.0h-3.0zM418.8 139.8h3.0v3.0h-3.0zM429.2 147.6h3.0v3.0h-3.0zM431.8 150.2h3.0v3.0h-3.0zM442.2 158.0h3.0v3.0h-3.0zM450.0 163.2h3.0v3.0h-3.0zM457.8 173.6h3.0v3.0h-3.0zM460.4 178.8h3.0v3.0h-3.0zM463.0 189.2h3.0v3.0h-3.0zM465.6 210.0h3.0v3.0h-3.0zM470.8 212.6h3.0v3.0h-3.0zM478.6 215.2h3.0v3.0h-3.0zM489.0 220.4h3.0v3.0h-3.0zM494.2 223.0h3.0v3.0h-3.0zM504.6 225.6h3.0v3.0h-3.0zM512.4 228.2h3.0v3.0h-3.0zM520.2 230.8h3.0v3.0h-3.0zM606.0 277.6h3.0v3.0h-3.0zM541.0 280.2h3.0v3.0h-3.0zM548.8 282.8h3.0v3.0h-3.0zM603.4 282.8h3.0v3.0h-3.0zM556.6 285.4h3.0v3.0h-3.0zM590.4 288.0h3.0v3.0h-3.0zM603.4 288.0h3.0v3.0h-3.0z"/>
<path fill="rgb(54,54,54)" d="M411.0 132.0h3.0v3.0h-3.0zM413.6 134.6h3.0v3.0h-3.0zM421.4 142.4h3.0v3.0h-3.0zM424.0 145.0h3.0v3.0h-3.0zM434.4 152.8h3.0v3.0h-3.0zM437.0 155.4h3.0v3.0h-3.0zM444.8 160.6h3.0v3.0h-3.0zM452.6 165.8h3.0v3.0h-3.0zM460.4 181.4h3.0v3.0h-3.0zM463.0 191.8h3.0v3.0h-3.0zM468.2 212.6h3.0v3.0h-3.0zM483.8 217.8h3.0v3.0h-3.0zM574.8 264.6h3.0v3.0h-3.0zM512.4 267.2h3.0v3.0h-3.0zM582.6 269.8h3.0v3.0h-3.0zM608.6 280.2h3.0v3.0h-3.0zM559.2 285.4h3.0v3.0h-3.0zM603.4 285.4h3.0v3.0h-3.0z"/>
<path fill="rgb(55,55,55)" d="M405.8 126.8h3.0v3.0h-3.0zM408.4 129.4h3.0v3.0h-3.0zM411.0 134.6h3.0v3.0h-3.0zM413.6 137.2h3.0v3.0h-3.0zM416.2 139.8h3.0v3.0h-3.0zM426.6 147.6h3.0v3.0h-3.0zM429.2 150.2h3.0v3.0h-3.0zM439.6 158.0h3.0v3.0h-3.0zM447.4 163.2h3.0v3.0h-3.0zM455.2 171.0h3.0v3.0h-3.0zM463.0 194.4h3.0v3.0h-3.0zM465.6 212.6h3.0v3.0h-3.0zM476.0 215.2h3.0v3.0h-3.0zM502.0 225.6h3.0v3.0h-3.0zM525.4 233.4h3.0v3.0h-3.0zM530.6 236.0h3.0v3.0h-3.0zM535.8 238.6h3.0v3.0h-3.0zM556.6 251.6h3.0v3.0h-3.0zM567.0 259.4h3.0v3.0h-3.0zM590.4 275.0h3.0v3.0h-3.0zM561.8 285.4h3.0v3.0h-3.0z"/>
<path fill="rgb(56,56,56)" d="M408.4 132.0h3.0v3.0h-3.0zM418.8 142.4h3.0v3.0h-3.0zM421.4 145.0h3.0v3.0h-3.0zM431.8 152.8h3.0v3.0h-3.0zM442.2 160.6h3.0v3.0h-3.0zM450.0 165.8h3.0v3.0h-3.0zM452.6 168.4h3.0v3.0h-3.0zM457.8 176.2h3.0v3.0h-3.0zM460.4 184.0h3.0v3.0h-3.0zM463.0 197.0h3.0v3.0h-3.0zM463.0 199.6h3.0v3.0h-3.0zM481.2 217.8h3.0v3.0h-3.0zM486.4 220.4h3.0v3.0h-3.0zM491.6 223.0h3.0v3.0h-3.0zM509.8 228.2h3.0v3.0h-3.0zM548.8 246.4h3.0v3.0h-3.0zM509.8 267.2h3.0v3.0h-3.0zM522.8 269.8h3.0v3.0h-3.0zM598.2 280.2h3.0v3.0h-3.0zM564.4 285.4h3.0v3.0h-3.0zM593.0 288.0h3.0v3.0h-3.0z"/>
<path fill="rgb(57,57,57)" d="M403.2 126.8h3.0v3.0h-3.0zM405.8 129.4h3.0v3.0h-3.0zM408.4 134.6h3.0v3.0h-3.0zM411.0 137.2h3.0v3.0h-3.0zM413.6 139.8h3.0v3.0h-3.0zM416.2 142.4h3.0v3.0h-3.0zM424.0 147.6h3.0v3.0h-3.0zM426.6 150.2h3.0v3.0h-3.0zM434.4 155.4h3.0v3.0h-3.0zM444.8 163.2h3.0v3.0h-3.0zM460.4 186.6h3.0v3.0h-3.0zM463.0 202.2h3.0v3.0h-3.0zM473.4 215.2h3.0v3.0h-3.0zM499.4 225.6h3.0v3.0h-3.0zM517.6 230.8h3.0v3.0h-3.0zM507.2 267.2h3.0v3.0h-3.0zM515.0 267.2h3.0v3.0h-3.0zM538.4 277.6h3.0v3.0h-3.0zM543.6 280.2h3.0v3.0h-3.0zM551.4 282.8h3.0v3.0h-3.0zM600.8 282.8h3.0v3.0h-3.0zM567.0 285.4h3.0v3.0h-3.0zM600.8 288.0h3.0v3.0h-3.0z"/>
<path fill="rgb(58,58,58)" d="M405.8 132.0h3.0v3.0h-3.0zM411.0 139.8h3.0v3.0h-3.0zM418.8 145.0h3.0v3.0h-3.0zM429.2 152.8h3.0v3.0h-3.0zM437.0 158.0h3.0v3.0h-3.0zM455.2 173.6h3.0v3.0h-3.0zM463.0 204.8h3.0v3.0h-3.0zM463.0 207.4h3.0v3.0h-3.0zM463.0 210.0h3.0v3.0h-3.0zM465.6 215.2h8.2v3.0h-8.2zM478.6 217.8h3.0v3.0h-3.0zM496.8 225.6h3.0v3.0h-3.0zM543.6 243.8h3.0v3.0h-3.0zM559.2 254.2h3.0v3.0h-3.0zM569.6 262.0h3.0v3.0h-3.0zM577.4 267.2h3.0v3.0h-3.0zM569.6 285.4h3.0v3.0h-3.0zM595.6 288.0h3.0v3.0h-3.0z"/>
<path fill="rgb(59,59,59)" d="M403.2 129.4h3.0v3.0h-3.0zM405.8 134.6h3.0v3.0h-3.0zM408.4 137.2h3.0v3.0h-3.0zM413.6 142.4h3.0v3.0h-3.0zM416.2 145.0h3.0v3.0h-3.0zM421.4 147.6h3.0v3.0h-3.0zM424.0 150.2h3.0v3.0h-3.0zM431.8 155.4h3.0v3.0h-3.0zM439.6 160.6h3.0v3.0h-3.0zM447.4 165.8h3.0v3.0h-3.0zM452.6 171.0h3.0v3.0h-3.0zM457.8 178.8h3.0v3.0h-3.0zM460.4 189.2h3.0v3.0h-3.0zM463.0 212.6h3.0v3.0h-3.0zM483.8 220.4h3.0v3.0h-3.0zM489.0 223.0h3.0v3.0h-3.0zM494.2 225.6h3.0v3.0h-3.0zM507.2 228.2h3.0v3.0h-3.0zM551.4 249.0h3.0v3.0h-3.0zM585.2 272.4h3.0v3.0h-3.0zM593.0 277.6h3.0v3.0h-3.0zM600.8 285.4h3.0v3.0h-3.0zM598.2 288.0h3.0v3.0h-3.0z"/>
<path fill="rgb(60,60,60)" d="M400.6 126.8h3.0v3.0h-3.0zM403.2 132.0h3.0v3.0h-3.0zM405.8 137.2h3.0v3.0h-3.0zM408.4 139.8h3.0v3.0h-3.0zM411.0 142.4h3.0v3.0h-3.0zM418.8 147.6h3.0v3.0h-3.0zM426.6 152.8h3.0v3.0h-3.0zM434.4 158.0h3.0v3.0h-3.0zM442.2 163.2h3.0v3.0h-3.0zM450.0 168.4h3.0v3.0h-3.0zM457.8 181.4h3.0v3.0h-3.0zM460.4 191.8h3.0v3.0h-3.0zM463.0 215.2h3.0v3.0h-3.0zM463.0 217.8h3.0v3.0h-3.0zM476.0 217.8h3.0v3.0h-3.0zM522.8 233.4h3.0v3.0h-3.0zM561.8 256.8h3.0v3.0h-3.0zM530.6 272.4h3.0v3.0h-3.0zM546.2 280.2h3.0v3.0h-3.0zM554.0 282.8h3.0v3.0h-3.0zM572.2 285.4h3.0v3.0h-3.0z"/>
<path fill="rgb(61,61,61)" d="M400.6 129.4h3.0v3.0h-3.0zM403.2 134.6h3.0v3.0h-3.0zM413.6 145.0h3.0v3.0h-3.0zM421.4 150.2h3.0v3.0h-3.0zM429.2 155.4h3.0v3.0h-3.0zM437.0 160.6h3.0v3.0h-3.0zM444.8 165.8h3.0v3.0h-3.0zM460.4 194.4h3.0v3.0h-3.0zM504.6 228.2h3.0v3.0h-3.0zM515.0 230.8h3.0v3.0h-3.0zM538.4 241.2h3.0v3.0h-3.0zM572.2 264.6h3.0v3.0h-3.0zM556.6 282.8h3.0v3.0h-3.0zM574.8 285.4h3.0v3.0h-3.0z"/>
<path fill="rgb(62,62,62)" d="M398.0 126.8h3.0v3.0h-3.0zM400.6 132.0h3.0v3.0h-3.0zM403.2 137.2h3.0v3.0h-3.0zM405.8 139.8h3.0v3.0h-3.0zM408.4 142.4h3.0v3.0h-3.0zM411.0 145.0h3.0v3.0h-3.0zM416.2 147.6h3.0v3.0h-3.0zM424.0 152.8h3.0v3.0h-3.0zM431.8 158.0h3.0v3.0h-3.0zM439.6 163.2h3.0v3.0h-3.0zM447.4 168.4h3.0v3.0h-3.0zM455.2 176.2h3.0v3.0h-3.0zM457.8 184.0h3.0v3.0h-3.0zM460.4 197.0h3.0v3.0h-3.0zM460.4 199.6h3.0v3.0h-3.0zM465.6 217.8h3.0v3.0h-3.0zM473.4 217.8h3.0v3.0h-3.0zM481.2 220.4h3.0v3.0h-3.0zM486.4 223.0h3.0v3.0h-3.0zM491.6 225.6h3.0v3.0h-3.0zM502.0 228.2h3.0v3.0h-3.0zM528.0 236.0h3.0v3.0h-3.0zM533.2 238.6h3.0v3.0h-3.0zM554.0 251.6h3.0v3.0h-3.0zM564.4 259.4h3.0v3.0h-3.0zM580.0 269.8h3.0v3.0h-3.0zM595.6 280.2h3.0v3.0h-3.0zM559.2 282.8h3.0v3.0h-3.0zM577.4 285.4h3.0v3.0h-3.0z"/>
<path fill="rgb(63,63,63)" d="M395.4 124.2h3.0v3.0h-3.0zM398.0 129.4h3.0v3.0h-3.0zM400.6 134.6h3.0v3.0h-3.0zM403.2 139.8h3.0v3.0h-3.0zM405.8 142.4h3.0v3.0h-3.0zM413.6 147.6h3.0v3.0h-3.0zM418.8 150.2h3.0v3.0h-3.0zM421.4 152.8h3.0v3.0h-3.0zM426.6 155.4h3.0v3.0h-3.0zM434.4 160.6h3.0v3.0h-3.0zM442.2 165.8h3.0v3.0h-3.0zM450.0 171.0h3.0v3.0h-3.0zM452.6 173.6h3.0v3.0h-3.0zM457.8 186.6h3.0v3.0h-3.0zM460.4 202.2h3.0v3.0h-3.0zM460.4 204.8h3.0v3.0h-3.0zM468.2 217.8h5.6v3.0h-5.6zM463.0 220.4h3.0v3.0h-3.0zM499.4 228.2h3.0v3.0h-3.0zM525.4 269.8h3.0v3.0h-3.0zM535.8 275.0h3.0v3.0h-3.0zM587.8 275.0h3.0v3.0h-3.0zM548.8 280.2h3.0v3.0h-3.0zM561.8 282.8h3.0v3.0h-3.0zM598.2 282.8h3.0v3.0h-3.0zM580.0 285.4h3.0v3.0h-3.0z"/>
<path fill="rgb(64,64,64)" d="M392.8 121.6h3.0v3.0h-3.0zM395.4 126.8h3.0v3.0h-3.0zM398.0 132.0h3.0v3.0h-3.0zM400.6 137.2h3.0v3.0h-3.0zM408.4 145.0h3.0v3.0h-3.0zM411.0 147.6h3.0v3.0h-3.0zM416.2 150.2h3.0v3.0h-3.0zM424.0 155.4h3.0v3.0h-3.0zM429.2 158.0h3.0v3.0h-3.0zM437.0 163.2h3.0v3.0h-3.0zM455.2 178.8h3.0v3.0h-3.0zM460.4 207.4h3.0v3.0h-3.0zM460.4 210.0h3.0v3.0h-3.0zM460.4 212.6h3.0v3.0h-3.0zM478.6 220.4h3.0v3.0h-3.0zM496.8 228.2h3.0v3.0h-3.0zM512.4 230.8h3.0v3.0h-3.0zM546.2 246.4h3.0v3.0h-3.0zM556.6 254.2h3.0v3.0h-3.0zM567.0 262.0h3.0v3.0h-3.0zM564.4 282.8h3.0v3.0h-3.0zM582.6 285.4h3.0v3.0h-3.0zM598.2 285.4h3.0v3.0h-3.0z"/>
<path fill="rgb(65,65,65)" d="M392.8 124.2h3.0v3.0h-3.0zM395.4 129.4h3.0v3.0h-3.0zM398.0 134.6h3.0v3.0h-3.0zM400.6 139.8h3.0v3.0h-3.0zM403.2 142.4h3.0v3.0h-3.0zM405.8 145.0h3.0v3.0h-3.0zM413.6 150.2h3.0v3.0h-3.0zM418.8 152.8h3.0v3.0h-3.0zM426.6 158.0h3.0v3.0h-3.0zM431.8 160.6h3.0v3.0h-3.0zM439.6 165.8h3.0v3.0h-3.0zM444.8 168.4h3.0v3.0h-3.0zM457.8 189.2h3.0v3.0h-3.0zM460.4 215.2h3.0v3.0h-3.0zM460.4 217.8h3.0v3.0h-3.0zM465.6 220.4h3.0v3.0h-3.0zM483.8 223.0h3.0v3.0h-3.0zM489.0 225.6h3.0v3.0h-3.0zM520.2 233.4h3.0v3.0h-3.0zM541.0 243.8h3.0v3.0h-3.0zM517.6 267.2h3.0v3.0h-3.0zM574.8 267.2h3.0v3.0h-3.0zM582.6 272.4h3.0v3.0h-3.0zM551.4 280.2h3.0v3.0h-3.0zM567.0 282.8h3.0v3.0h-3.0zM585.2 285.4h3.0v3.0h-3.0z"/>
<path fill="rgb(66,66,66)" d="M390.2 121.6h3.0v3.0h-3.0zM395.4 132.0h3.0v3.0h-3.0zM398.0 137.2h3.0v3.0h-3.0zM408.4 147.6h3.0v3.0h-3.0zM421.4 155.4h3.0v3.0h-3.0zM434.4 163.2h3.0v3.0h-3.0zM447.4 171.0h3.0v3.0h-3.0zM455.2 181.4h3.0v3.0h-3.0zM457.8 191.8h3.0v3.0h-3.0zM460.4 220.4h3.0v3.0h-3.0zM476.0 220.4h3.0v3.0h-3.0zM460.4 223.0h5.6v3.0h-5.6zM494.2 228.2h3.0v3.0h-3.0zM509.8 230.8h3.0v3.0h-3.0zM559.2 256.8h3.0v3.0h-3.0zM541.0 277.6h3.0v3.0h-3.0zM590.4 277.6h3.0v3.0h-3.0zM569.6 282.8h3.0v3.0h-3.0zM587.8 285.4h3.0v3.0h-3.0zM595.6 285.4h3.0v3.0h-3.0z"/>
<path fill="rgb(67,67,67)" d="M392.8 126.8h3.0v3.0h-3.0zM398.0 139.8h3.0v3.0h-3.0zM400.6 142.4h3.0v3.0h-3.0zM403.2 145.0h3.0v3.0h-3.0zM405.8 147.6h3.0v3.0h-3.0zM411.0 150.2h3.0v3.0h-3.0zM416.2 152.8h3.0v3.0h-3.0zM424.0 158.0h3.0v3.0h-3.0zM429.2 160.6h3.0v3.0h-3.0zM437.0 165.8h3.0v3.0h-3.0zM442.2 168.4h3.0v3.0h-3.0zM450.0 173.6h3.0v3.0h-3.0zM452.6 176.2h3.0v3.0h-3.0zM457.8 194.4h3.0v3.0h-3.0zM468.2 220.4h3.0v3.0h-3.0zM473.4 220.4h3.0v3.0h-3.0zM481.2 223.0h3.0v3.0h-3.0zM460.4 225.6h3.0v3.0h-3.0zM486.4 225.6h3.0v3.0h-3.0zM491.6 228.2h3.0v3.0h-3.0zM525.4 236.0h3.0v3.0h-3.0zM548.8 249.0h3.0v3.0h-3.0zM569.6 264.6h3.0v3.0h-3.0zM554.0 280.2h3.0v3.0h-3.0zM593.0 280.2h3.0v3.0h-3.0zM595.6 282.8h3.0v3.0h-3.0zM590.4 285.4h5.6v3.0h-5.6z"/>
<path fill="rgb(68,68,68)" d="M387.6 119.0h3.0v3.0h-3.0zM390.2 124.2h3.0v3.0h-3.0zM392.8 129.4h3.0v3.0h-3.0zM395.4 134.6h3.0v3.0h-3.0zM398.0 142.4h3.0v3.0h-3.0zM400.6 145.0h3.0v3.0h-3.0zM403.2 147.6h3.0v3.0h-3.0zM408.4 150.2h3.0v3.0h-3.0zM413.6 152.8h3.0v3.0h-3.0zM418.8 155.4h3.0v3.0h-3.0zM426.6 160.6h3.0v3.0h-3.0zM431.8 163.2h3.0v3.0h-3.0zM444.8 171.0h3.0v3.0h-3.0zM455.2 184.0h3.0v3.0h-3.0zM457.8 197.0h3.0v3.0h-3.0zM457.8 199.6h3.0v3.0h-3.0zM470.8 220.4h3.0v3.0h-3.0zM460.4 228.2h3.0v3.0h-3.0zM507.2 230.8h3.0v3.0h-3.0zM530.6 238.6h3.0v3.0h-3.0zM535.8 241.2h3.0v3.0h-3.0zM551.4 251.6h3.0v3.0h-3.0zM561.8 259.4h3.0v3.0h-3.0zM577.4 269.8h3.0v3.0h-3.0zM556.6 280.2h3.0v3.0h-3.0zM572.2 282.8h3.0v3.0h-3.0z"/>
<path fill="rgb(69,69,69)" d="M385.0 116.4h3.0v3.0h-3.0zM387.6 121.6h3.0v3.0h-3.0zM390.2 126.8h3.0v3.0h-3.0zM392.8 132.0h3.0v3.0h-3.0zM395.4 137.2h3.0v3.0h-3.0zM395.4 139.8h3.0v3.0h-3.0zM405.8 150.2h3.0v3.0h-3.0zM411.0 152.8h3.0v3.0h-3.0zM416.2 155.4h3.0v3.0h-3.0zM421.4 158.0h3.0v3.0h-3.0zM434.4 165.8h3.0v3.0h-3.0zM439.6 168.4h3.0v3.0h-3.0zM447.4 173.6h3.0v3.0h-3.0zM457.8 202.2h3.0v3.0h-3.0zM457.8 204.8h3.0v3.0h-3.0zM457.8 207.4h3.0v3.0h-3.0zM465.6 223.0h3.0v3.0h-3.0zM478.6 223.0h3.0v3.0h-3.0zM463.0 225.6h3.0v3.0h-3.0zM504.6 230.8h3.0v3.0h-3.0zM517.6 233.4h3.0v3.0h-3.0zM533.2 272.4h3.0v3.0h-3.0zM585.2 275.0h3.0v3.0h-3.0zM543.6 277.6h3.0v3.0h-3.0zM559.2 280.2h3.0v3.0h-3.0z"/>
<path fill="rgb(70,70,70)" d="M382.4 113.8h3.0v3.0h-3.0zM385.0 119.0h3.0v3.0h-3.0zM387.6 124.2h3.0v3.0h-3.0zM390.2 129.4h3.0v3.0h-3.0zM392.8 134.6h3.0v3.0h-3.0zM395.4 142.4h3.0v3.0h-3.0zM398.0 145.0h3.0v3.0h-3.0zM400.6 147.6h3.0v3.0h-3.0zM403.2 150.2h3.0v3.0h-3.0zM408.4 152.8h3.0v3.0h-3.0zM413.6 155.4h3.0v3.0h-3.0zM418.8 158.0h3.0v3.0h-3.0zM424.0 160.6h3.0v3.0h-3.0zM429.2 163.2h3.0v3.0h-3.0zM442.2 171.0h3.0v3.0h-3.0zM452.6 178.8h3.0v3.0h-3.0zM455.2 186.6h3.0v3.0h-3.0zM457.8 210.0h3.0v3.0h-3.0zM457.8 212.6h3.0v3.0h-3.0zM457.8 215.2h3.0v3.0h-3.0zM457.8 217.8h3.0v3.0h-3.0zM489.0 228.2h3.0v3.0h-3.0zM499.4 230.8h5.6v3.0h-5.6zM554.0 254.2h3.0v3.0h-3.0zM564.4 262.0h3.0v3.0h-3.0zM572.2 267.2h3.0v3.0h-3.0zM528.0 269.8h3.0v3.0h-3.0zM538.4 275.0h3.0v3.0h-3.0zM561.8 280.2h3.0v3.0h-3.0zM574.8 282.8h3.0v3.0h-3.0z"/>
<path fill="rgb(71,71,71)" d="M379.8 111.2h3.0v3.0h-3.0zM387.6 126.8h3.0v3.0h-3.0zM390.2 132.0h3.0v3.0h-3.0zM392.8 137.2h3.0v3.0h-3.0zM395.4 145.0h3.0v3.0h-3.0zM405.8 152.8h3.0v3.0h-3.0zM411.0 155.4h3.0v3.0h-3.0zM426.6 163.2h3.0v3.0h-3.0zM431.8 165.8h3.0v3.0h-3.0zM437.0 168.4h3.0v3.0h-3.0zM450.0 176.2h3.0v3.0h-3.0zM455.2 189.2h3.0v3.0h-3.0zM457.8 220.4h3.0v3.0h-3.0zM457.8 223.0h3.0v3.0h-3.0zM468.2 223.0h3.0v3.0h-3.0zM476.0 223.0h3.0v3.0h-3.0zM457.8 225.6h3.0v3.0h-3.0zM483.8 225.6h3.0v3.0h-3.0zM460.4 230.8h3.0v3.0h-3.0zM496.8 230.8h3.0v3.0h-3.0zM515.0 233.4h3.0v3.0h-3.0zM522.8 236.0h3.0v3.0h-3.0zM543.6 246.4h3.0v3.0h-3.0zM580.0 272.4h3.0v3.0h-3.0zM546.2 277.6h5.6v3.0h-5.6zM587.8 277.6h3.0v3.0h-3.0zM564.4 280.2h3.0v3.0h-3.0zM593.0 282.8h3.0v3.0h-3.0z"/>
<path fill="rgb(72,72,72)" d="M382.4 116.4h3.0v3.0h-3.0zM385.0 121.6h3.0v3.0h-3.0zM390.2 134.6h3.0v3.0h-3.0zM392.8 139.8h3.0v3.0h-3.0zM392.8 142.4h3.0v3.0h-3.0zM398.0 147.6h3.0v3.0h-3.0zM400.6 150.2h3.0v3.0h-3.0zM403.2 152.8h3.0v3.0h-3.0zM416.2 158.0h3.0v3.0h-3.0zM421.4 160.6h3.0v3.0h-3.0zM439.6 171.0h3.0v3.0h-3.0zM444.8 173.6h3.0v3.0h-3.0zM452.6 181.4h3.0v3.0h-3.0zM455.2 191.8h3.0v3.0h-3.0zM457.8 228.2h3.0v3.0h-3.0zM463.0 228.2h3.0v3.0h-3.0zM457.8 230.8h3.0v3.0h-3.0zM494.2 230.8h3.0v3.0h-3.0zM457.8 233.4h3.0v3.0h-3.0zM556.6 256.8h3.0v3.0h-3.0zM567.0 264.6h3.0v3.0h-3.0zM520.2 267.2h3.0v3.0h-3.0zM551.4 277.6h3.0v3.0h-3.0zM567.0 280.2h3.0v3.0h-3.0zM590.4 280.2h3.0v3.0h-3.0zM577.4 282.8h3.0v3.0h-3.0z"/>
<path fill="rgb(73,73,73)" d="M379.8 113.8h3.0v3.0h-3.0zM382.4 119.0h3.0v3.0h-3.0zM385.0 124.2h3.0v3.0h-3.0zM387.6 129.4h3.0v3.0h-3.0zM390.2 137.2h3.0v3.0h-3.0zM392.8 145.0h3.0v3.0h-3.0zM395.4 147.6h3.0v3.0h-3.0zM398.0 150.2h3.0v3.0h-3.0zM400.6 152.8h3.0v3.0h-3.0zM405.8 155.4h5.6v3.0h-5.6zM413.6 158.0h3.0v3.0h-3.0zM418.8 160.6h3.0v3.0h-3.0zM424.0 163.2h3.0v3.0h-3.0zM429.2 165.8h3.0v3.0h-3.0zM434.4 168.4h3.0v3.0h-3.0zM455.2 194.4h3.0v3.0h-3.0zM470.8 223.0h5.6v3.0h-5.6zM465.6 225.6h3.0v3.0h-3.0zM481.2 225.6h3.0v3.0h-3.0zM486.4 228.2h3.0v3.0h-3.0zM491.6 230.8h3.0v3.0h-3.0zM457.8 236.0h3.0v3.0h-3.0zM528.0 238.6h3.0v3.0h-3.0zM457.8 241.2h3.0v3.0h-3.0zM533.2 241.2h3.0v3.0h-3.0zM538.4 243.8h3.0v3.0h-3.0zM559.2 259.4h3.0v3.0h-3.0zM574.8 269.8h3.0v3.0h-3.0zM582.6 275.0h3.0v3.0h-3.0zM554.0 277.6h3.0v3.0h-3.0zM569.6 280.2h3.0v3.0h-3.0zM580.0 282.8h3.0v3.0h-3.0zM590.4 282.8h3.0v3.0h-3.0z"/>
<path fill="rgb(74,74,74)" d="M385.0 126.8h3.0v3.0h-3.0zM387.6 132.0h3.0v3.0h-3.0zM387.6 134.6h3.0v3.0h-3.0zM390.2 139.8h3.0v3.0h-3.0zM403.2 155.4h3.0v3.0h-3.0zM411.0 158.0h3.0v3.0h-3.0zM416.2 160.6h3.0v3.0h-3.0zM431.8 168.4h3.0v3.0h-3.0zM437.0 171.0h3.0v3.0h-3.0zM442.2 173.6h3.0v3.0h-3.0zM447.4 176.2h3.0v3.0h-3.0zM452.6 184.0h3.0v3.0h-3.0zM455.2 197.0h3.0v3.0h-3.0zM455.2 199.6h3.0v3.0h-3.0zM460.4 233.4h3.0v3.0h-3.0zM512.4 233.4h3.0v3.0h-3.0zM457.8 238.6h3.0v3.0h-3.0zM546.2 249.0h3.0v3.0h-3.0zM569.6 267.2h3.0v3.0h-3.0zM556.6 277.6h5.6v3.0h-5.6zM572.2 280.2h3.0v3.0h-3.0zM582.6 282.8h5.6v3.0h-5.6z"/>
<path fill="rgb(75,75,75)" d="M374.6 106.0h3.0v3.0h-3.0zM377.2 111.2h3.0v3.0h-3.0zM379.8 116.4h3.0v3.0h-3.0zM382.4 121.6h3.0v3.0h-3.0zM385.0 129.4h3.0v3.0h-3.0zM387.6 137.2h3.0v3.0h-3.0zM390.2 142.4h3.0v3.0h-3.0zM390.2 145.0h3.0v3.0h-3.0zM392.8 147.6h3.0v3.0h-3.0zM395.4 150.2h3.0v3.0h-3.0zM398.0 152.8h3.0v3.0h-3.0zM400.6 155.4h3.0v3.0h-3.0zM408.4 158.0h3.0v3.0h-3.0zM421.4 163.2h3.0v3.0h-3.0zM426.6 165.8h3.0v3.0h-3.0zM455.2 202.2h3.0v3.0h-3.0zM455.2 204.8h3.0v3.0h-3.0zM455.2 207.4h3.0v3.0h-3.0zM455.2 210.0h3.0v3.0h-3.0zM455.2 212.6h3.0v3.0h-3.0zM455.2 215.2h3.0v3.0h-3.0zM478.6 225.6h3.0v3.0h-3.0zM463.0 230.8h3.0v3.0h-3.0zM509.8 233.4h3.0v3.0h-3.0zM520.2 236.0h3.0v3.0h-3.0zM561.8 262.0h3.0v3.0h-3.0zM577.4 272.4h3.0v3.0h-3.0zM561.8 277.6h5.6v3.0h-5.6zM585.2 277.6h3.0v3.0h-3.0zM587.8 282.8h3.0v3.0h-3.0z"/>
<path fill="rgb(76,76,76)" d="M374.6 108.6h3.0v3.0h-3.0zM377.2 113.8h3.0v3.0h-3.0zM379.8 119.0h3.0v3.0h-3.0zM382.4 124.2h3.0v3.0h-3.0zM385.0 132.0h3.0v3.0h-3.0zM387.6 139.8h3.0v3.0h-3.0zM390.2 147.6h3.0v3.0h-3.0zM392.8 150.2h3.0v3.0h-3.0zM405.8 158.0h3.0v3.0h-3.0zM413.6 160.6h3.0v3.0h-3.0zM418.8 163.2h3.0v3.0h-3.0zM424.0 165.8h3.0v3.0h-3.0zM429.2 168.4h3.0v3.0h-3.0zM434.4 171.0h3.0v3.0h-3.0zM439.6 173.6h3.0v3.0h-3.0zM444.8 176.2h3.0v3.0h-3.0zM450.0 178.8h3.0v3.0h-3.0zM452.6 186.6h3.0v3.0h-3.0zM455.2 217.8h3.0v3.0h-3.0zM455.2 220.4h3.0v3.0h-3.0zM455.2 223.0h3.0v3.0h-3.0zM455.2 225.6h3.0v3.0h-3.0zM468.2 225.6h3.0v3.0h-3.0zM476.0 225.6h3.0v3.0h-3.0zM455.2 228.2h3.0v3.0h-3.0zM465.6 228.2h3.0v3.0h-3.0zM483.8 228.2h3.0v3.0h-3.0zM455.2 230.8h3.0v3.0h-3.0zM489.0 230.8h3.0v3.0h-3.0zM499.4 233.4h3.0v3.0h-3.0zM507.2 233.4h3.0v3.0h-3.0zM548.8 251.6h3.0v3.0h-3.0zM551.4 254.2h3.0v3.0h-3.0zM564.4 264.6h3.0v3.0h-3.0zM572.2 269.8h3.0v3.0h-3.0zM567.0 277.6h3.0v3.0h-3.0zM574.8 280.2h3.0v3.0h-3.0zM587.8 280.2h3.0v3.0h-3.0z"/>
<path fill="rgb(77,77,77)" d="M395.4 152.8h3.0v3.0h-3.0zM455.2 233.4h3.0v3.0h-3.0zM496.8 233.4h3.0v3.0h-3.0zM502.0 233.4h5.6v3.0h-5.6zM455.2 236.0h3.0v3.0h-3.0zM460.4 236.0h3.0v3.0h-3.0zM455.2 238.6h3.0v3.0h-3.0zM525.4 238.6h3.0v3.0h-3.0zM460.4 243.8h3.0v3.0h-3.0zM541.0 246.4h3.0v3.0h-3.0zM554.0 256.8h3.0v3.0h-3.0zM567.0 267.2h3.0v3.0h-3.0zM530.6 269.8h3.0v3.0h-3.0zM535.8 272.4h3.0v3.0h-3.0zM541.0 275.0h3.0v3.0h-3.0zM580.0 275.0h3.0v3.0h-3.0zM569.6 277.6h3.0v3.0h-3.0zM582.6 277.6h3.0v3.0h-3.0zM585.2 280.2h3.0v3.0h-3.0z"/>
<path fill="rgb(78,78,78)" d="M372.0 106.0h3.0v3.0h-3.0zM382.4 126.8h3.0v3.0h-3.0zM385.0 134.6h3.0v3.0h-3.0zM387.6 142.4h3.0v3.0h-3.0zM411.0 160.6h3.0v3.0h-3.0zM450.0 181.4h3.0v3.0h-3.0zM452.6 189.2h3.0v3.0h-3.0zM470.8 225.6h5.6v3.0h-5.6zM481.2 228.2h3.0v3.0h-3.0zM463.0 233.4h3.0v3.0h-3.0zM494.2 233.4h3.0v3.0h-3.0zM556.6 259.4h3.0v3.0h-3.0zM559.2 262.0h3.0v3.0h-3.0zM522.8 267.2h3.0v3.0h-3.0zM569.6 269.8h3.0v3.0h-3.0zM574.8 272.4h3.0v3.0h-3.0zM548.8 275.0h13.4v3.0h-13.4zM572.2 277.6h3.0v3.0h-3.0zM577.4 280.2h8.2v3.0h-8.2z"/>
<path fill="rgb(79,79,79)" d="M374.6 111.2h3.0v3.0h-3.0zM377.2 116.4h3.0v3.0h-3.0zM379.8 121.6h3.0v3.0h-3.0zM398.0 155.4h3.0v3.0h-3.0zM403.2 158.0h3.0v3.0h-3.0zM442.2 176.2h3.0v3.0h-3.0zM447.4 178.8h3.0v3.0h-3.0zM452.6 191.8h3.0v3.0h-3.0zM486.4 230.8h3.0v3.0h-3.0zM517.6 236.0h3.0v3.0h-3.0zM460.4 241.2h3.0v3.0h-3.0zM530.6 241.2h3.0v3.0h-3.0zM535.8 243.8h3.0v3.0h-3.0zM507.2 264.6h8.2v3.0h-8.2zM561.8 264.6h3.0v3.0h-3.0zM564.4 267.2h3.0v3.0h-3.0zM572.2 272.4h3.0v3.0h-3.0zM543.6 275.0h5.6v3.0h-5.6zM561.8 275.0h10.8v3.0h-10.8zM577.4 275.0h3.0v3.0h-3.0zM574.8 277.6h3.0v3.0h-3.0zM580.0 277.6h3.0v3.0h-3.0z"/>
<path fill="rgb(80,80,80)" d="M382.4 129.4h3.0v3.0h-3.0zM416.2 163.2h3.0v3.0h-3.0zM421.4 165.8h3.0v3.0h-3.0zM426.6 168.4h3.0v3.0h-3.0zM431.8 171.0h3.0v3.0h-3.0zM437.0 173.6h3.0v3.0h-3.0zM450.0 184.0h3.0v3.0h-3.0zM452.6 194.4h3.0v3.0h-3.0zM468.2 228.2h3.0v3.0h-3.0zM465.6 230.8h3.0v3.0h-3.0zM491.6 233.4h3.0v3.0h-3.0zM460.4 238.6h3.0v3.0h-3.0zM567.0 269.8h3.0v3.0h-3.0zM567.0 272.4h5.6v3.0h-5.6zM572.2 275.0h5.6v3.0h-5.6zM577.4 277.6h3.0v3.0h-3.0z"/>
<path fill="rgb(81,81,81)" d="M372.0 108.6h3.0v3.0h-3.0zM385.0 137.2h3.0v3.0h-3.0zM387.6 145.0h3.0v3.0h-3.0zM452.6 197.0h3.0v3.0h-3.0zM478.6 228.2h3.0v3.0h-3.0zM463.0 236.0h3.0v3.0h-3.0zM515.0 236.0h3.0v3.0h-3.0zM522.8 238.6h3.0v3.0h-3.0zM559.2 264.6h3.0v3.0h-3.0zM504.6 267.2h3.0v3.0h-3.0zM561.8 267.2h3.0v3.0h-3.0zM564.4 269.8h3.0v3.0h-3.0zM559.2 272.4h8.2v3.0h-8.2z"/>
<path fill="rgb(82,82,82)" d="M369.4 106.0h3.0v3.0h-3.0zM374.6 113.8h3.0v3.0h-3.0zM379.8 124.2h3.0v3.0h-3.0zM444.8 178.8h3.0v3.0h-3.0zM450.0 186.6h3.0v3.0h-3.0zM452.6 199.6h3.0v3.0h-3.0zM452.6 202.2h3.0v3.0h-3.0zM452.6 204.8h3.0v3.0h-3.0zM452.6 207.4h3.0v3.0h-3.0zM452.6 210.0h3.0v3.0h-3.0zM452.6 212.6h3.0v3.0h-3.0zM476.0 228.2h3.0v3.0h-3.0zM483.8 230.8h3.0v3.0h-3.0zM489.0 233.4h3.0v3.0h-3.0zM512.4 236.0h3.0v3.0h-3.0zM463.0 246.4h3.0v3.0h-3.0zM543.6 249.0h3.0v3.0h-3.0zM551.4 256.8h3.0v3.0h-3.0zM554.0 259.4h3.0v3.0h-3.0zM556.6 262.0h3.0v3.0h-3.0zM515.0 264.6h3.0v3.0h-3.0zM559.2 269.8h5.6v3.0h-5.6zM538.4 272.4h3.0v3.0h-3.0zM551.4 272.4h8.2v3.0h-8.2z"/>
<path fill="rgb(83,83,83)" d="M377.2 119.0h3.0v3.0h-3.0zM382.4 132.0h3.0v3.0h-3.0zM385.0 139.8h3.0v3.0h-3.0zM439.6 176.2h3.0v3.0h-3.0zM447.4 181.4h3.0v3.0h-3.0zM452.6 215.2h3.0v3.0h-3.0zM452.6 217.8h3.0v3.0h-3.0zM452.6 220.4h3.0v3.0h-3.0zM452.6 223.0h3.0v3.0h-3.0zM470.8 228.2h5.6v3.0h-5.6zM496.8 236.0h5.6v3.0h-5.6zM509.8 236.0h3.0v3.0h-3.0zM528.0 241.2h3.0v3.0h-3.0zM538.4 246.4h3.0v3.0h-3.0zM546.2 251.6h3.0v3.0h-3.0zM548.8 254.2h3.0v3.0h-3.0zM525.4 267.2h3.0v3.0h-3.0zM559.2 267.2h3.0v3.0h-3.0zM533.2 269.8h3.0v3.0h-3.0z"/>
<path fill="rgb(84,84,84)" d="M372.0 111.2h3.0v3.0h-3.0zM390.2 150.2h3.0v3.0h-3.0zM408.4 160.6h3.0v3.0h-3.0zM434.4 173.6h3.0v3.0h-3.0zM450.0 189.2h3.0v3.0h-3.0zM452.6 225.6h3.0v3.0h-3.0zM452.6 228.2h3.0v3.0h-3.0zM452.6 230.8h3.0v3.0h-3.0zM481.2 230.8h3.0v3.0h-3.0zM465.6 233.4h3.0v3.0h-3.0zM502.0 236.0h8.2v3.0h-8.2zM463.0 238.6h3.0v3.0h-3.0zM533.2 243.8h3.0v3.0h-3.0zM556.6 264.6h3.0v3.0h-3.0zM556.6 269.8h3.0v3.0h-3.0zM548.8 272.4h3.0v3.0h-3.0z"/>
<path fill="rgb(85,85,85)" d="M369.4 108.6h3.0v3.0h-3.0zM374.6 116.4h3.0v3.0h-3.0zM379.8 126.8h3.0v3.0h-3.0zM387.6 147.6h3.0v3.0h-3.0zM424.0 168.4h3.0v3.0h-3.0zM429.2 171.0h3.0v3.0h-3.0zM468.2 230.8h3.0v3.0h-3.0zM452.6 233.4h3.0v3.0h-3.0zM486.4 233.4h3.0v3.0h-3.0zM452.6 236.0h3.0v3.0h-3.0zM494.2 236.0h3.0v3.0h-3.0zM520.2 238.6h3.0v3.0h-3.0zM463.0 243.8h3.0v3.0h-3.0zM554.0 262.0h3.0v3.0h-3.0zM556.6 267.2h3.0v3.0h-3.0zM554.0 269.8h3.0v3.0h-3.0z"/>
<path fill="rgb(86,86,86)" d="M366.8 106.0h3.0v3.0h-3.0zM377.2 121.6h3.0v3.0h-3.0zM382.4 134.6h3.0v3.0h-3.0zM385.0 142.4h3.0v3.0h-3.0zM418.8 165.8h3.0v3.0h-3.0zM442.2 178.8h3.0v3.0h-3.0zM447.4 184.0h3.0v3.0h-3.0zM450.0 191.8h3.0v3.0h-3.0zM478.6 230.8h3.0v3.0h-3.0zM491.6 236.0h3.0v3.0h-3.0zM551.4 259.4h3.0v3.0h-3.0zM554.0 267.2h3.0v3.0h-3.0zM551.4 269.8h3.0v3.0h-3.0zM541.0 272.4h3.0v3.0h-3.0zM546.2 272.4h3.0v3.0h-3.0z"/>
<path fill="rgb(87,87,87)" d="M372.0 113.8h3.0v3.0h-3.0zM392.8 152.8h3.0v3.0h-3.0zM400.6 158.0h3.0v3.0h-3.0zM413.6 163.2h3.0v3.0h-3.0zM444.8 181.4h3.0v3.0h-3.0zM450.0 194.4h3.0v3.0h-3.0zM476.0 230.8h3.0v3.0h-3.0zM465.6 236.0h3.0v3.0h-3.0zM463.0 241.2h3.0v3.0h-3.0zM525.4 241.2h3.0v3.0h-3.0zM541.0 249.0h3.0v3.0h-3.0zM517.6 264.6h3.0v3.0h-3.0zM554.0 264.6h3.0v3.0h-3.0zM528.0 267.2h3.0v3.0h-3.0z"/>
<path fill="rgb(88,88,88)" d="M369.4 111.2h3.0v3.0h-3.0zM379.8 129.4h3.0v3.0h-3.0zM382.4 137.2h3.0v3.0h-3.0zM437.0 176.2h3.0v3.0h-3.0zM450.0 197.0h3.0v3.0h-3.0zM470.8 230.8h5.6v3.0h-5.6zM483.8 233.4h3.0v3.0h-3.0zM489.0 236.0h3.0v3.0h-3.0zM517.6 238.6h3.0v3.0h-3.0zM530.6 243.8h3.0v3.0h-3.0zM535.8 246.4h3.0v3.0h-3.0zM548.8 256.8h3.0v3.0h-3.0zM551.4 262.0h3.0v3.0h-3.0zM551.4 267.2h3.0v3.0h-3.0zM535.8 269.8h3.0v3.0h-3.0zM543.6 272.4h3.0v3.0h-3.0z"/>
<path fill="rgb(89,89,89)" d="M366.8 108.6h3.0v3.0h-3.0zM374.6 119.0h3.0v3.0h-3.0zM377.2 124.2h3.0v3.0h-3.0zM385.0 145.0h3.0v3.0h-3.0zM431.8 173.6h3.0v3.0h-3.0zM447.4 186.6h3.0v3.0h-3.0zM450.0 199.6h3.0v3.0h-3.0zM468.2 233.4h3.0v3.0h-3.0zM496.8 238.6h5.6v3.0h-5.6zM551.4 264.6h3.0v3.0h-3.0zM548.8 269.8h3.0v3.0h-3.0z"/>
<path fill="rgb(90,90,90)" d="M359.0 100.8h3.0v3.0h-3.0zM361.6 103.4h3.0v3.0h-3.0zM364.2 106.0h3.0v3.0h-3.0zM372.0 116.4h3.0v3.0h-3.0zM426.6 171.0h3.0v3.0h-3.0zM450.0 202.2h3.0v3.0h-3.0zM450.0 204.8h3.0v3.0h-3.0zM450.0 207.4h3.0v3.0h-3.0zM450.0 210.0h3.0v3.0h-3.0zM450.0 212.6h3.0v3.0h-3.0zM450.0 215.2h3.0v3.0h-3.0zM481.2 233.4h3.0v3.0h-3.0zM515.0 238.6h3.0v3.0h-3.0zM522.8 241.2h3.0v3.0h-3.0zM543.6 251.6h3.0v3.0h-3.0zM546.2 254.2h3.0v3.0h-3.0z"/>
<path fill="rgb(91,91,91)" d="M369.4 113.8h3.0v3.0h-3.0zM379.8 132.0h3.0v3.0h-3.0zM382.4 139.8h3.0v3.0h-3.0zM387.6 150.2h3.0v3.0h-3.0zM395.4 155.4h3.0v3.0h-3.0zM405.8 160.6h3.0v3.0h-3.0zM421.4 168.4h3.0v3.0h-3.0zM439.6 178.8h3.0v3.0h-3.0zM444.8 184.0h3.0v3.0h-3.0zM447.4 189.2h3.0v3.0h-3.0zM450.0 217.8h3.0v3.0h-3.0zM450.0 220.4h3.0v3.0h-3.0zM450.0 223.0h3.0v3.0h-3.0zM486.4 236.0h3.0v3.0h-3.0zM465.6 238.6h3.0v3.0h-3.0zM494.2 238.6h3.0v3.0h-3.0zM502.0 238.6h3.0v3.0h-3.0zM509.8 238.6h5.6v3.0h-5.6zM548.8 259.4h3.0v3.0h-3.0zM520.2 264.6h3.0v3.0h-3.0zM530.6 267.2h3.0v3.0h-3.0z"/>
<path fill="rgb(92,92,92)" d="M346.0 87.8h3.0v3.0h-3.0zM348.6 90.4h3.0v3.0h-3.0zM366.8 111.2h3.0v3.0h-3.0zM377.2 126.8h3.0v3.0h-3.0zM416.2 165.8h3.0v3.0h-3.0zM434.4 176.2h3.0v3.0h-3.0zM442.2 181.4h3.0v3.0h-3.0zM450.0 225.6h3.0v3.0h-3.0zM450.0 228.2h3.0v3.0h-3.0zM450.0 230.8h3.0v3.0h-3.0zM478.6 233.4h3.0v3.0h-3.0zM504.6 238.6h5.6v3.0h-5.6zM528.0 243.8h3.0v3.0h-3.0zM533.2 246.4h3.0v3.0h-3.0zM538.4 249.0h3.0v3.0h-3.0zM548.8 267.2h3.0v3.0h-3.0zM538.4 269.8h3.0v3.0h-3.0zM546.2 269.8h3.0v3.0h-3.0z"/>
<path fill="rgb(93,93,93)" d="M343.4 85.2h3.0v3.0h-3.0zM356.4 100.8h3.0v3.0h-3.0zM359.0 103.4h3.0v3.0h-3.0zM361.6 106.0h3.0v3.0h-3.0zM364.2 108.6h3.0v3.0h-3.0zM374.6 121.6h3.0v3.0h-3.0zM411.0 163.2h3.0v3.0h-3.0zM429.2 173.6h3.0v3.0h-3.0zM447.4 191.8h3.0v3.0h-3.0zM450.0 233.4h3.0v3.0h-3.0zM476.0 233.4h3.0v3.0h-3.0zM483.8 236.0h3.0v3.0h-3.0zM491.6 238.6h3.0v3.0h-3.0zM520.2 241.2h3.0v3.0h-3.0zM465.6 246.4h3.0v3.0h-3.0zM548.8 262.0h3.0v3.0h-3.0zM548.8 264.6h3.0v3.0h-3.0zM502.0 267.2h3.0v3.0h-3.0z"/>
<path fill="rgb(94,94,94)" d="M346.0 90.4h3.0v3.0h-3.0zM348.6 93.0h3.0v3.0h-3.0zM372.0 119.0h3.0v3.0h-3.0zM379.8 134.6h3.0v3.0h-3.0zM382.4 142.4h3.0v3.0h-3.0zM385.0 147.6h3.0v3.0h-3.0zM390.2 152.8h3.0v3.0h-3.0zM444.8 186.6h3.0v3.0h-3.0zM447.4 194.4h3.0v3.0h-3.0zM470.8 233.4h5.6v3.0h-5.6zM468.2 236.0h3.0v3.0h-3.0zM489.0 238.6h3.0v3.0h-3.0zM541.0 251.6h3.0v3.0h-3.0zM504.6 264.6h3.0v3.0h-3.0zM541.0 269.8h5.6v3.0h-5.6z"/>
<path fill="rgb(95,95,95)" d="M343.4 87.8h3.0v3.0h-3.0zM353.8 100.8h3.0v3.0h-3.0zM366.8 113.8h3.0v3.0h-3.0zM369.4 116.4h3.0v3.0h-3.0zM377.2 129.4h3.0v3.0h-3.0zM424.0 171.0h3.0v3.0h-3.0zM437.0 178.8h3.0v3.0h-3.0zM481.2 236.0h3.0v3.0h-3.0zM465.6 241.2h3.0v3.0h-3.0zM525.4 243.8h3.0v3.0h-3.0zM546.2 256.8h3.0v3.0h-3.0zM522.8 264.6h3.0v3.0h-3.0zM533.2 267.2h3.0v3.0h-3.0z"/>
<path fill="rgb(96,96,96)" d="M338.2 80.0h3.0v3.0h-3.0zM340.8 85.2h3.0v3.0h-3.0zM346.0 93.0h3.0v3.0h-3.0zM348.6 95.6h3.0v3.0h-3.0zM356.4 103.4h3.0v3.0h-3.0zM359.0 106.0h3.0v3.0h-3.0zM361.6 108.6h3.0v3.0h-3.0zM364.2 111.2h3.0v3.0h-3.0zM374.6 124.2h3.0v3.0h-3.0zM379.8 137.2h3.0v3.0h-3.0zM382.4 145.0h3.0v3.0h-3.0zM442.2 184.0h3.0v3.0h-3.0zM447.4 197.0h3.0v3.0h-3.0zM496.8 241.2h5.6v3.0h-5.6zM517.6 241.2h3.0v3.0h-3.0zM465.6 243.8h3.0v3.0h-3.0zM530.6 246.4h3.0v3.0h-3.0zM535.8 249.0h3.0v3.0h-3.0zM546.2 267.2h3.0v3.0h-3.0z"/>
<path fill="rgb(97,97,97)" d="M338.2 82.6h3.0v3.0h-3.0zM340.8 87.8h3.0v3.0h-3.0zM343.4 90.4h3.0v3.0h-3.0zM418.8 168.4h3.0v3.0h-3.0zM431.8 176.2h3.0v3.0h-3.0zM439.6 181.4h3.0v3.0h-3.0zM447.4 199.6h3.0v3.0h-3.0zM486.4 238.6h3.0v3.0h-3.0zM494.2 241.2h3.0v3.0h-3.0zM502.0 241.2h3.0v3.0h-3.0zM515.0 241.2h3.0v3.0h-3.0zM543.6 254.2h3.0v3.0h-3.0zM507.2 262.0h3.0v3.0h-3.0zM525.4 264.6h3.0v3.0h-3.0zM499.4 267.2h3.0v3.0h-3.0zM535.8 267.2h3.0v3.0h-3.0z"/>
<path fill="rgb(98,98,98)" d="M346.0 95.6h3.0v3.0h-3.0zM348.6 98.2h3.0v3.0h-3.0zM351.2 100.8h3.0v3.0h-3.0zM353.8 103.4h3.0v3.0h-3.0zM377.2 132.0h3.0v3.0h-3.0zM444.8 189.2h3.0v3.0h-3.0zM447.4 202.2h3.0v3.0h-3.0zM447.4 204.8h3.0v3.0h-3.0zM447.4 207.4h3.0v3.0h-3.0zM447.4 210.0h3.0v3.0h-3.0zM447.4 212.6h3.0v3.0h-3.0zM447.4 215.2h3.0v3.0h-3.0zM447.4 217.8h3.0v3.0h-3.0zM476.0 236.0h5.6v3.0h-5.6zM509.8 241.2h5.6v3.0h-5.6zM522.8 243.8h3.0v3.0h-3.0zM538.4 251.6h3.0v3.0h-3.0zM546.2 259.4h3.0v3.0h-3.0zM509.8 262.0h3.0v3.0h-3.0zM546.2 264.6h3.0v3.0h-3.0zM496.8 267.2h3.0v3.0h-3.0z"/>
<path fill="rgb(99,99,99)" d="M335.6 80.0h3.0v3.0h-3.0zM338.2 85.2h3.0v3.0h-3.0zM340.8 90.4h3.0v3.0h-3.0zM343.4 93.0h3.0v3.0h-3.0zM356.4 106.0h3.0v3.0h-3.0zM359.0 108.6h3.0v3.0h-3.0zM361.6 111.2h3.0v3.0h-3.0zM364.2 113.8h3.0v3.0h-3.0zM366.8 116.4h3.0v3.0h-3.0zM369.4 119.0h3.0v3.0h-3.0zM372.0 121.6h3.0v3.0h-3.0zM374.6 126.8h3.0v3.0h-3.0zM379.8 139.8h3.0v3.0h-3.0zM398.0 158.0h3.0v3.0h-3.0zM403.2 160.6h3.0v3.0h-3.0zM426.6 173.6h3.0v3.0h-3.0zM447.4 220.4h3.0v3.0h-3.0zM447.4 223.0h3.0v3.0h-3.0zM447.4 225.6h3.0v3.0h-3.0zM470.8 236.0h5.6v3.0h-5.6zM483.8 238.6h3.0v3.0h-3.0zM491.6 241.2h3.0v3.0h-3.0zM504.6 241.2h5.6v3.0h-5.6zM528.0 246.4h3.0v3.0h-3.0zM533.2 249.0h3.0v3.0h-3.0zM512.4 262.0h3.0v3.0h-3.0zM546.2 262.0h3.0v3.0h-3.0zM528.0 264.6h3.0v3.0h-3.0zM538.4 267.2h8.2v3.0h-8.2z"/>
<path fill="rgb(100,100,100)" d="M223.8 33.2h3.0v3.0h-3.0zM223.8 35.8h5.6v3.0h-5.6zM226.4 38.4h5.6v3.0h-5.6zM226.4 41.0h3.0v3.0h-3.0zM338.2 87.8h3.0v3.0h-3.0zM348.6 100.8h3.0v3.0h-3.0zM385.0 150.2h3.0v3.0h-3.0zM392.8 155.4h3.0v3.0h-3.0zM408.4 163.2h3.0v3.0h-3.0zM413.6 165.8h3.0v3.0h-3.0zM434.4 178.8h3.0v3.0h-3.0zM442.2 186.6h3.0v3.0h-3.0zM444.8 191.8h3.0v3.0h-3.0zM447.4 228.2h3.0v3.0h-3.0zM468.2 238.6h3.0v3.0h-3.0zM520.2 243.8h3.0v3.0h-3.0zM541.0 254.2h3.0v3.0h-3.0z"/>
<path fill="rgb(101,101,101)" d="M218.6 28.0h3.0v3.0h-3.0zM218.6 30.6h3.0v3.0h-3.0zM221.2 33.2h3.0v3.0h-3.0zM221.2 35.8h3.0v3.0h-3.0zM223.8 38.4h3.0v3.0h-3.0zM223.8 41.0h3.0v3.0h-3.0zM229.0 41.0h3.0v3.0h-3.0zM223.8 43.6h8.2v3.0h-8.2zM226.4 46.2h5.6v3.0h-5.6zM335.6 82.6h3.0v3.0h-3.0zM340.8 93.0h3.0v3.0h-3.0zM343.4 95.6h3.0v3.0h-3.0zM346.0 98.2h3.0v3.0h-3.0zM351.2 103.4h3.0v3.0h-3.0zM353.8 106.0h3.0v3.0h-3.0zM377.2 134.6h3.0v3.0h-3.0zM379.8 142.4h3.0v3.0h-3.0zM387.6 152.8h3.0v3.0h-3.0zM421.4 171.0h3.0v3.0h-3.0zM439.6 184.0h3.0v3.0h-3.0zM444.8 194.4h3.0v3.0h-3.0zM481.2 238.6h3.0v3.0h-3.0zM489.0 241.2h3.0v3.0h-3.0zM525.4 246.4h3.0v3.0h-3.0zM543.6 256.8h3.0v3.0h-3.0zM515.0 262.0h3.0v3.0h-3.0zM530.6 264.6h3.0v3.0h-3.0z"/>
<path fill="rgb(102,102,102)" d="M216.0 28.0h3.0v3.0h-3.0zM218.6 33.2h3.0v3.0h-3.0zM218.6 35.8h3.0v3.0h-3.0zM221.2 38.4h3.0v3.0h-3.0zM221.2 41.0h3.0v3.0h-3.0zM223.8 46.2h3.0v3.0h-3.0zM226.4 48.8h5.6v3.0h-5.6zM226.4 51.4h3.0v3.0h-3.0zM333.0 80.0h3.0v3.0h-3.0zM335.6 85.2h3.0v3.0h-3.0zM338.2 90.4h3.0v3.0h-3.0zM356.4 108.6h3.0v3.0h-3.0zM359.0 111.2h3.0v3.0h-3.0zM374.6 129.4h3.0v3.0h-3.0zM382.4 147.6h3.0v3.0h-3.0zM429.2 176.2h3.0v3.0h-3.0zM496.8 243.8h5.6v3.0h-5.6zM517.6 243.8h3.0v3.0h-3.0zM530.6 249.0h3.0v3.0h-3.0zM535.8 251.6h3.0v3.0h-3.0zM502.0 264.6h3.0v3.0h-3.0z"/>
<path fill="rgb(103,103,103)" d="M216.0 30.6h3.0v3.0h-3.0zM231.6 46.2h3.0v3.0h-3.0zM333.0 82.6h3.0v3.0h-3.0zM335.6 87.8h3.0v3.0h-3.0zM343.4 98.2h3.0v3.0h-3.0zM346.0 100.8h3.0v3.0h-3.0zM348.6 103.4h3.0v3.0h-3.0zM361.6 113.8h3.0v3.0h-3.0zM364.2 116.4h3.0v3.0h-3.0zM366.8 119.0h3.0v3.0h-3.0zM372.0 124.2h3.0v3.0h-3.0zM437.0 181.4h3.0v3.0h-3.0zM486.4 241.2h3.0v3.0h-3.0zM515.0 243.8h3.0v3.0h-3.0zM538.4 254.2h3.0v3.0h-3.0zM533.2 264.6h3.0v3.0h-3.0zM541.0 264.6h5.6v3.0h-5.6z"/>
<path fill="rgb(104,104,104)" d="M218.6 38.4h3.0v3.0h-3.0zM221.2 43.6h3.0v3.0h-3.0zM223.8 48.8h3.0v3.0h-3.0zM330.4 77.4h3.0v3.0h-3.0zM338.2 93.0h3.0v3.0h-3.0zM340.8 95.6h3.0v3.0h-3.0zM351.2 106.0h3.0v3.0h-3.0zM369.4 121.6h3.0v3.0h-3.0zM416.2 168.4h3.0v3.0h-3.0zM444.8 197.0h3.0v3.0h-3.0zM478.6 238.6h3.0v3.0h-3.0zM494.2 243.8h3.0v3.0h-3.0zM502.0 243.8h3.0v3.0h-3.0zM512.4 243.8h3.0v3.0h-3.0zM522.8 246.4h3.0v3.0h-3.0zM528.0 249.0h3.0v3.0h-3.0zM541.0 256.8h3.0v3.0h-3.0zM543.6 259.4h3.0v3.0h-3.0zM517.6 262.0h3.0v3.0h-3.0zM543.6 262.0h3.0v3.0h-3.0zM535.8 264.6h5.6v3.0h-5.6z"/>
<path fill="rgb(105,105,105)" d="M213.4 28.0h3.0v3.0h-3.0zM216.0 33.2h3.0v3.0h-3.0zM330.4 80.0h3.0v3.0h-3.0zM333.0 85.2h3.0v3.0h-3.0zM335.6 90.4h3.0v3.0h-3.0zM353.8 108.6h3.0v3.0h-3.0zM377.2 137.2h3.0v3.0h-3.0zM390.2 155.4h3.0v3.0h-3.0zM395.4 158.0h3.0v3.0h-3.0zM400.6 160.6h3.0v3.0h-3.0zM405.8 163.2h3.0v3.0h-3.0zM411.0 165.8h3.0v3.0h-3.0zM424.0 173.6h3.0v3.0h-3.0zM442.2 189.2h3.0v3.0h-3.0zM476.0 238.6h3.0v3.0h-3.0zM483.8 241.2h3.0v3.0h-3.0zM491.6 243.8h3.0v3.0h-3.0zM504.6 243.8h8.2v3.0h-8.2zM533.2 251.6h3.0v3.0h-3.0zM520.2 262.0h3.0v3.0h-3.0zM494.2 264.6h8.2v3.0h-8.2z"/>
<path fill="rgb(106,106,106)" d="M327.8 74.8h3.0v3.0h-3.0zM327.8 77.4h3.0v3.0h-3.0zM330.4 82.6h3.0v3.0h-3.0zM333.0 87.8h3.0v3.0h-3.0zM338.2 95.6h3.0v3.0h-3.0zM340.8 98.2h3.0v3.0h-3.0zM343.4 100.8h3.0v3.0h-3.0zM356.4 111.2h3.0v3.0h-3.0zM372.0 126.8h3.0v3.0h-3.0zM379.8 145.0h3.0v3.0h-3.0zM431.8 178.8h3.0v3.0h-3.0zM444.8 199.6h3.0v3.0h-3.0zM444.8 202.2h3.0v3.0h-3.0zM473.4 238.6h3.0v3.0h-3.0zM520.2 246.4h3.0v3.0h-3.0zM535.8 254.2h3.0v3.0h-3.0zM538.4 256.8h3.0v3.0h-3.0zM541.0 259.4h3.0v3.0h-3.0zM504.6 262.0h3.0v3.0h-3.0zM541.0 262.0h3.0v3.0h-3.0z"/>
<path fill="rgb(107,107,107)" d="M213.4 30.6h3.0v3.0h-3.0zM216.0 35.8h3.0v3.0h-3.0zM218.6 41.0h3.0v3.0h-3.0zM221.2 46.2h3.0v3.0h-3.0zM231.6 48.8h3.0v3.0h-3.0zM229.0 51.4h3.0v3.0h-3.0zM327.8 80.0h3.0v3.0h-3.0zM330.4 85.2h3.0v3.0h-3.0zM335.6 93.0h3.0v3.0h-3.0zM346.0 103.4h3.0v3.0h-3.0zM348.6 106.0h3.0v3.0h-3.0zM359.0 113.8h3.0v3.0h-3.0zM361.6 116.4h3.0v3.0h-3.0zM374.6 132.0h3.0v3.0h-3.0zM418.8 171.0h3.0v3.0h-3.0zM444.8 204.8h3.0v3.0h-3.0zM444.8 207.4h3.0v3.0h-3.0zM444.8 210.0h3.0v3.0h-3.0zM470.8 238.6h3.0v3.0h-3.0zM468.2 241.2h3.0v3.0h-3.0zM489.0 243.8h3.0v3.0h-3.0zM525.4 249.0h3.0v3.0h-3.0zM530.6 251.6h3.0v3.0h-3.0zM538.4 259.4h3.0v3.0h-3.0zM483.8 262.0h3.0v3.0h-3.0zM522.8 262.0h5.6v3.0h-5.6zM538.4 262.0h3.0v3.0h-3.0z"/>
<path fill="rgb(108,108,108)" d="M325.2 74.8h3.0v3.0h-3.0zM325.2 77.4h3.0v3.0h-3.0zM327.8 82.6h3.0v3.0h-3.0zM333.0 90.4h3.0v3.0h-3.0zM351.2 108.6h3.0v3.0h-3.0zM364.2 119.0h3.0v3.0h-3.0zM366.8 121.6h3.0v3.0h-3.0zM439.6 186.6h3.0v3.0h-3.0zM444.8 212.6h3.0v3.0h-3.0zM481.2 241.2h3.0v3.0h-3.0zM499.4 246.4h3.0v3.0h-3.0zM517.6 246.4h3.0v3.0h-3.0zM533.2 254.2h3.0v3.0h-3.0zM535.8 256.8h3.0v3.0h-3.0zM528.0 262.0h10.8v3.0h-10.8z"/>
<path fill="rgb(109,109,109)" d="M210.8 28.0h3.0v3.0h-3.0zM213.4 33.2h3.0v3.0h-3.0zM325.2 80.0h3.0v3.0h-3.0zM327.8 85.2h3.0v3.0h-3.0zM330.4 87.8h3.0v3.0h-3.0zM333.0 93.0h3.0v3.0h-3.0zM335.6 95.6h3.0v3.0h-3.0zM338.2 98.2h3.0v3.0h-3.0zM340.8 100.8h3.0v3.0h-3.0zM369.4 124.2h3.0v3.0h-3.0zM385.0 152.8h3.0v3.0h-3.0zM398.0 160.6h3.0v3.0h-3.0zM413.6 168.4h3.0v3.0h-3.0zM426.6 176.2h3.0v3.0h-3.0zM442.2 191.8h3.0v3.0h-3.0zM444.8 215.2h3.0v3.0h-3.0zM486.4 243.8h3.0v3.0h-3.0zM496.8 246.4h3.0v3.0h-3.0zM512.4 246.4h5.6v3.0h-5.6zM522.8 249.0h3.0v3.0h-3.0zM528.0 251.6h3.0v3.0h-3.0zM535.8 259.4h3.0v3.0h-3.0z"/>
<path fill="rgb(110,110,110)" d="M216.0 38.4h3.0v3.0h-3.0zM218.6 43.6h3.0v3.0h-3.0zM234.2 48.8h3.0v3.0h-3.0zM322.6 72.2h3.0v3.0h-3.0zM322.6 74.8h3.0v3.0h-3.0zM322.6 77.4h3.0v3.0h-3.0zM325.2 82.6h3.0v3.0h-3.0zM330.4 90.4h3.0v3.0h-3.0zM343.4 103.4h3.0v3.0h-3.0zM346.0 106.0h3.0v3.0h-3.0zM353.8 111.2h3.0v3.0h-3.0zM377.2 139.8h3.0v3.0h-3.0zM392.8 158.0h3.0v3.0h-3.0zM403.2 163.2h3.0v3.0h-3.0zM408.4 165.8h3.0v3.0h-3.0zM434.4 181.4h3.0v3.0h-3.0zM444.8 217.8h3.0v3.0h-3.0zM502.0 246.4h3.0v3.0h-3.0zM509.8 246.4h3.0v3.0h-3.0zM520.2 249.0h3.0v3.0h-3.0zM525.4 251.6h3.0v3.0h-3.0zM530.6 254.2h3.0v3.0h-3.0zM533.2 256.8h3.0v3.0h-3.0zM486.4 262.0h3.0v3.0h-3.0z"/>
<path fill="rgb(111,111,111)" d="M210.8 30.6h3.0v3.0h-3.0zM322.6 80.0h3.0v3.0h-3.0zM325.2 85.2h3.0v3.0h-3.0zM327.8 87.8h3.0v3.0h-3.0zM348.6 108.6h3.0v3.0h-3.0zM356.4 113.8h3.0v3.0h-3.0zM359.0 116.4h3.0v3.0h-3.0zM372.0 129.4h3.0v3.0h-3.0zM374.6 134.6h3.0v3.0h-3.0zM382.4 150.2h3.0v3.0h-3.0zM387.6 155.4h3.0v3.0h-3.0zM421.4 173.6h3.0v3.0h-3.0zM437.0 184.0h3.0v3.0h-3.0zM444.8 220.4h3.0v3.0h-3.0zM478.6 241.2h3.0v3.0h-3.0zM468.2 246.4h3.0v3.0h-3.0zM494.2 246.4h3.0v3.0h-3.0zM504.6 246.4h5.6v3.0h-5.6zM528.0 254.2h3.0v3.0h-3.0zM476.0 256.8h3.0v3.0h-3.0zM530.6 259.4h5.6v3.0h-5.6zM502.0 262.0h3.0v3.0h-3.0z"/>
<path fill="rgb(112,112,112)" d="M213.4 35.8h3.0v3.0h-3.0zM216.0 41.0h3.0v3.0h-3.0zM221.2 48.8h3.0v3.0h-3.0zM223.8 51.4h3.0v3.0h-3.0zM231.6 51.4h3.0v3.0h-3.0zM320.0 72.2h3.0v3.0h-3.0zM320.0 74.8h3.0v3.0h-3.0zM320.0 77.4h3.0v3.0h-3.0zM322.6 82.6h3.0v3.0h-3.0zM327.8 90.4h3.0v3.0h-3.0zM330.4 93.0h3.0v3.0h-3.0zM333.0 95.6h3.0v3.0h-3.0zM335.6 98.2h3.0v3.0h-3.0zM338.2 100.8h3.0v3.0h-3.0zM361.6 119.0h3.0v3.0h-3.0zM364.2 121.6h3.0v3.0h-3.0zM442.2 194.4h3.0v3.0h-3.0zM517.6 249.0h3.0v3.0h-3.0zM522.8 251.6h3.0v3.0h-3.0zM530.6 256.8h3.0v3.0h-3.0zM528.0 259.4h3.0v3.0h-3.0zM489.0 262.0h3.0v3.0h-3.0zM499.4 262.0h3.0v3.0h-3.0z"/>
<path fill="rgb(113,113,113)" d="M208.2 28.0h3.0v3.0h-3.0zM320.0 69.6h3.0v3.0h-3.0zM320.0 80.0h3.0v3.0h-3.0zM322.6 85.2h3.0v3.0h-3.0zM325.2 87.8h3.0v3.0h-3.0zM340.8 103.4h3.0v3.0h-3.0zM343.4 106.0h3.0v3.0h-3.0zM351.2 111.2h3.0v3.0h-3.0zM366.8 124.2h3.0v3.0h-3.0zM369.4 126.8h3.0v3.0h-3.0zM416.2 171.0h3.0v3.0h-3.0zM429.2 178.8h3.0v3.0h-3.0zM444.8 223.0h3.0v3.0h-3.0zM476.0 241.2h3.0v3.0h-3.0zM483.8 243.8h3.0v3.0h-3.0zM491.6 246.4h3.0v3.0h-3.0zM515.0 249.0h3.0v3.0h-3.0zM473.4 254.2h3.0v3.0h-3.0zM525.4 254.2h3.0v3.0h-3.0zM528.0 256.8h3.0v3.0h-3.0zM507.2 259.4h10.8v3.0h-10.8zM522.8 259.4h5.6v3.0h-5.6zM491.6 262.0h8.2v3.0h-8.2z"/>
<path fill="rgb(114,114,114)" d="M210.8 33.2h3.0v3.0h-3.0zM213.4 38.4h3.0v3.0h-3.0zM218.6 46.2h3.0v3.0h-3.0zM234.2 51.4h3.0v3.0h-3.0zM317.4 74.8h3.0v3.0h-3.0zM317.4 77.4h3.0v3.0h-3.0zM317.4 80.0h3.0v3.0h-3.0zM320.0 82.6h3.0v3.0h-3.0zM327.8 93.0h3.0v3.0h-3.0zM330.4 95.6h3.0v3.0h-3.0zM333.0 98.2h3.0v3.0h-3.0zM346.0 108.6h3.0v3.0h-3.0zM353.8 113.8h3.0v3.0h-3.0zM379.8 147.6h3.0v3.0h-3.0zM395.4 160.6h3.0v3.0h-3.0zM400.6 163.2h3.0v3.0h-3.0zM439.6 189.2h3.0v3.0h-3.0zM442.2 197.0h3.0v3.0h-3.0zM468.2 243.8h3.0v3.0h-3.0zM512.4 249.0h3.0v3.0h-3.0zM470.8 251.6h3.0v3.0h-3.0zM520.2 251.6h3.0v3.0h-3.0zM522.8 254.2h3.0v3.0h-3.0zM525.4 256.8h3.0v3.0h-3.0zM517.6 259.4h5.6v3.0h-5.6z"/>
<path fill="rgb(115,115,115)" d="M208.2 30.6h3.0v3.0h-3.0zM216.0 43.6h3.0v3.0h-3.0zM226.4 54.0h3.0v3.0h-3.0zM317.4 72.2h3.0v3.0h-3.0zM314.8 77.4h3.0v3.0h-3.0zM317.4 82.6h3.0v3.0h-3.0zM320.0 85.2h3.0v3.0h-3.0zM322.6 87.8h3.0v3.0h-3.0zM325.2 90.4h3.0v3.0h-3.0zM335.6 100.8h3.0v3.0h-3.0zM338.2 103.4h3.0v3.0h-3.0zM372.0 132.0h3.0v3.0h-3.0zM377.2 142.4h3.0v3.0h-3.0zM390.2 158.0h3.0v3.0h-3.0zM405.8 165.8h3.0v3.0h-3.0zM411.0 168.4h3.0v3.0h-3.0zM424.0 176.2h3.0v3.0h-3.0zM444.8 225.6h3.0v3.0h-3.0zM499.4 249.0h3.0v3.0h-3.0zM509.8 249.0h3.0v3.0h-3.0zM517.6 251.6h3.0v3.0h-3.0zM522.8 256.8h3.0v3.0h-3.0zM481.2 259.4h3.0v3.0h-3.0z"/>
<path fill="rgb(116,116,116)" d="M210.8 35.8h3.0v3.0h-3.0zM229.0 54.0h3.0v3.0h-3.0zM317.4 69.6h3.0v3.0h-3.0zM314.8 74.8h3.0v3.0h-3.0zM314.8 80.0h3.0v3.0h-3.0zM317.4 85.2h3.0v3.0h-3.0zM320.0 87.8h3.0v3.0h-3.0zM322.6 90.4h3.0v3.0h-3.0zM325.2 93.0h3.0v3.0h-3.0zM327.8 95.6h3.0v3.0h-3.0zM340.8 106.0h3.0v3.0h-3.0zM348.6 111.2h3.0v3.0h-3.0zM356.4 116.4h3.0v3.0h-3.0zM359.0 119.0h3.0v3.0h-3.0zM361.6 121.6h3.0v3.0h-3.0zM431.8 181.4h3.0v3.0h-3.0zM442.2 199.6h3.0v3.0h-3.0zM473.4 241.2h3.0v3.0h-3.0zM502.0 249.0h3.0v3.0h-3.0zM507.2 249.0h3.0v3.0h-3.0zM515.0 251.6h3.0v3.0h-3.0zM520.2 254.2h3.0v3.0h-3.0zM520.2 256.8h3.0v3.0h-3.0z"/>
<path fill="rgb(117,117,117)" d="M205.6 28.0h3.0v3.0h-3.0zM213.4 41.0h3.0v3.0h-3.0zM314.8 72.2h3.0v3.0h-3.0zM312.2 74.8h3.0v3.0h-3.0zM312.2 77.4h3.0v3.0h-3.0zM312.2 80.0h3.0v3.0h-3.0zM314.8 82.6h3.0v3.0h-3.0zM330.4 98.2h3.0v3.0h-3.0zM333.0 100.8h3.0v3.0h-3.0zM343.4 108.6h3.0v3.0h-3.0zM351.2 113.8h3.0v3.0h-3.0zM364.2 124.2h3.0v3.0h-3.0zM374.6 137.2h3.0v3.0h-3.0zM418.8 173.6h3.0v3.0h-3.0zM442.2 202.2h3.0v3.0h-3.0zM442.2 204.8h3.0v3.0h-3.0zM470.8 241.2h3.0v3.0h-3.0zM489.0 246.4h3.0v3.0h-3.0zM496.8 249.0h3.0v3.0h-3.0zM504.6 249.0h3.0v3.0h-3.0zM512.4 251.6h3.0v3.0h-3.0zM517.6 254.2h3.0v3.0h-3.0zM517.6 256.8h3.0v3.0h-3.0zM504.6 259.4h3.0v3.0h-3.0z"/>
<path fill="rgb(118,118,118)" d="M208.2 33.2h3.0v3.0h-3.0zM231.6 54.0h3.0v3.0h-3.0zM314.8 69.6h3.0v3.0h-3.0zM312.2 72.2h3.0v3.0h-3.0zM309.6 77.4h3.0v3.0h-3.0zM309.6 80.0h3.0v3.0h-3.0zM312.2 82.6h3.0v3.0h-3.0zM314.8 85.2h3.0v3.0h-3.0zM317.4 87.8h3.0v3.0h-3.0zM320.0 90.4h3.0v3.0h-3.0zM322.6 93.0h3.0v3.0h-3.0zM335.6 103.4h3.0v3.0h-3.0zM346.0 111.2h3.0v3.0h-3.0zM366.8 126.8h3.0v3.0h-3.0zM369.4 129.4h3.0v3.0h-3.0zM382.4 152.8h3.0v3.0h-3.0zM385.0 155.4h3.0v3.0h-3.0zM392.8 160.6h3.0v3.0h-3.0zM398.0 163.2h3.0v3.0h-3.0zM437.0 186.6h3.0v3.0h-3.0zM439.6 191.8h3.0v3.0h-3.0zM442.2 207.4h3.0v3.0h-3.0zM481.2 243.8h3.0v3.0h-3.0zM515.0 254.2h3.0v3.0h-3.0zM515.0 256.8h3.0v3.0h-3.0zM502.0 259.4h3.0v3.0h-3.0z"/>
<path fill="rgb(119,119,119)" d="M205.6 30.6h3.0v3.0h-3.0zM210.8 38.4h3.0v3.0h-3.0zM216.0 46.2h3.0v3.0h-3.0zM218.6 48.8h3.0v3.0h-3.0zM221.2 51.4h3.0v3.0h-3.0zM234.2 54.0h3.0v3.0h-3.0zM309.6 74.8h3.0v3.0h-3.0zM309.6 82.6h3.0v3.0h-3.0zM312.2 85.2h3.0v3.0h-3.0zM314.8 87.8h3.0v3.0h-3.0zM325.2 95.6h3.0v3.0h-3.0zM327.8 98.2h3.0v3.0h-3.0zM330.4 100.8h3.0v3.0h-3.0zM338.2 106.0h3.0v3.0h-3.0zM353.8 116.4h3.0v3.0h-3.0zM403.2 165.8h3.0v3.0h-3.0zM413.6 171.0h3.0v3.0h-3.0zM434.4 184.0h3.0v3.0h-3.0zM442.2 210.0h3.0v3.0h-3.0zM509.8 251.6h3.0v3.0h-3.0zM512.4 254.2h3.0v3.0h-3.0zM483.8 259.4h3.0v3.0h-3.0z"/>
<path fill="rgb(120,120,120)" d="M203.0 28.0h3.0v3.0h-3.0zM208.2 35.8h3.0v3.0h-3.0zM213.4 43.6h3.0v3.0h-3.0zM312.2 69.6h3.0v3.0h-3.0zM309.6 72.2h3.0v3.0h-3.0zM307.0 74.8h3.0v3.0h-3.0zM307.0 77.4h3.0v3.0h-3.0zM307.0 80.0h3.0v3.0h-3.0zM307.0 82.6h3.0v3.0h-3.0zM309.6 85.2h3.0v3.0h-3.0zM317.4 90.4h3.0v3.0h-3.0zM320.0 93.0h3.0v3.0h-3.0zM322.6 95.6h3.0v3.0h-3.0zM333.0 103.4h3.0v3.0h-3.0zM340.8 108.6h3.0v3.0h-3.0zM348.6 113.8h3.0v3.0h-3.0zM356.4 119.0h3.0v3.0h-3.0zM359.0 121.6h3.0v3.0h-3.0zM372.0 134.6h3.0v3.0h-3.0zM387.6 158.0h3.0v3.0h-3.0zM408.4 168.4h3.0v3.0h-3.0zM426.6 178.8h3.0v3.0h-3.0zM486.4 246.4h3.0v3.0h-3.0zM507.2 251.6h3.0v3.0h-3.0zM512.4 256.8h3.0v3.0h-3.0z"/>
<path fill="rgb(121,121,121)" d="M304.4 77.4h3.0v3.0h-3.0zM304.4 80.0h3.0v3.0h-3.0zM312.2 87.8h3.0v3.0h-3.0zM314.8 90.4h3.0v3.0h-3.0zM325.2 98.2h3.0v3.0h-3.0zM327.8 100.8h3.0v3.0h-3.0zM335.6 106.0h3.0v3.0h-3.0zM343.4 111.2h3.0v3.0h-3.0zM361.6 124.2h3.0v3.0h-3.0zM442.2 212.6h3.0v3.0h-3.0zM494.2 249.0h3.0v3.0h-3.0zM502.0 251.6h5.6v3.0h-5.6zM509.8 254.2h3.0v3.0h-3.0zM499.4 259.4h3.0v3.0h-3.0z"/>
<path fill="rgb(122,122,122)" d="M205.6 33.2h3.0v3.0h-3.0zM210.8 41.0h3.0v3.0h-3.0zM312.2 67.0h3.0v3.0h-3.0zM309.6 69.6h3.0v3.0h-3.0zM307.0 72.2h3.0v3.0h-3.0zM304.4 74.8h3.0v3.0h-3.0zM301.8 77.4h3.0v3.0h-3.0zM301.8 80.0h3.0v3.0h-3.0zM304.4 82.6h3.0v3.0h-3.0zM307.0 85.2h3.0v3.0h-3.0zM309.6 87.8h3.0v3.0h-3.0zM312.2 90.4h3.0v3.0h-3.0zM317.4 93.0h3.0v3.0h-3.0zM320.0 95.6h3.0v3.0h-3.0zM330.4 103.4h3.0v3.0h-3.0zM338.2 108.6h3.0v3.0h-3.0zM351.2 116.4h3.0v3.0h-3.0zM364.2 126.8h3.0v3.0h-3.0zM377.2 145.0h3.0v3.0h-3.0zM379.8 150.2h3.0v3.0h-3.0zM395.4 163.2h3.0v3.0h-3.0zM421.4 176.2h3.0v3.0h-3.0zM439.6 194.4h3.0v3.0h-3.0zM478.6 256.8h3.0v3.0h-3.0zM509.8 256.8h3.0v3.0h-3.0z"/>
<path fill="rgb(123,123,123)" d="M200.4 28.0h3.0v3.0h-3.0zM203.0 30.6h3.0v3.0h-3.0zM208.2 38.4h3.0v3.0h-3.0zM223.8 54.0h3.0v3.0h-3.0zM301.8 54.0h3.0v3.0h-3.0zM312.2 64.4h3.0v3.0h-3.0zM304.4 72.2h3.0v3.0h-3.0zM301.8 74.8h3.0v3.0h-3.0zM299.2 77.4h3.0v3.0h-3.0zM299.2 80.0h3.0v3.0h-3.0zM301.8 82.6h3.0v3.0h-3.0zM304.4 85.2h3.0v3.0h-3.0zM307.0 87.8h3.0v3.0h-3.0zM314.8 93.0h3.0v3.0h-3.0zM322.6 98.2h3.0v3.0h-3.0zM325.2 100.8h3.0v3.0h-3.0zM333.0 106.0h3.0v3.0h-3.0zM346.0 113.8h3.0v3.0h-3.0zM366.8 129.4h3.0v3.0h-3.0zM369.4 132.0h3.0v3.0h-3.0zM374.6 139.8h3.0v3.0h-3.0zM390.2 160.6h3.0v3.0h-3.0zM400.6 165.8h3.0v3.0h-3.0zM416.2 173.6h3.0v3.0h-3.0zM429.2 181.4h3.0v3.0h-3.0zM437.0 189.2h3.0v3.0h-3.0zM442.2 215.2h3.0v3.0h-3.0zM507.2 254.2h3.0v3.0h-3.0zM507.2 256.8h3.0v3.0h-3.0zM486.4 259.4h3.0v3.0h-3.0zM496.8 259.4h3.0v3.0h-3.0z"/>
<path fill="rgb(124,124,124)" d="M205.6 35.8h3.0v3.0h-3.0zM213.4 46.2h3.0v3.0h-3.0zM216.0 48.8h3.0v3.0h-3.0zM299.2 54.0h3.0v3.0h-3.0zM309.6 67.0h3.0v3.0h-3.0zM307.0 69.6h3.0v3.0h-3.0zM299.2 74.8h3.0v3.0h-3.0zM296.6 77.4h3.0v3.0h-3.0zM296.6 80.0h3.0v3.0h-3.0zM296.6 82.6h5.6v3.0h-5.6zM301.8 85.2h3.0v3.0h-3.0zM304.4 87.8h3.0v3.0h-3.0zM309.6 90.4h3.0v3.0h-3.0zM312.2 93.0h3.0v3.0h-3.0zM317.4 95.6h3.0v3.0h-3.0zM320.0 98.2h3.0v3.0h-3.0zM327.8 103.4h3.0v3.0h-3.0zM340.8 111.2h3.0v3.0h-3.0zM353.8 119.0h3.0v3.0h-3.0zM356.4 121.6h3.0v3.0h-3.0zM411.0 171.0h3.0v3.0h-3.0zM439.6 197.0h3.0v3.0h-3.0zM478.6 243.8h3.0v3.0h-3.0zM499.4 251.6h3.0v3.0h-3.0z"/>
<path fill="rgb(125,125,125)" d="M203.0 33.2h3.0v3.0h-3.0zM210.8 43.6h3.0v3.0h-3.0zM218.6 51.4h3.0v3.0h-3.0zM296.6 54.0h3.0v3.0h-3.0zM234.2 56.6h3.0v3.0h-3.0zM304.4 56.6h3.0v3.0h-3.0zM309.6 61.8h3.0v3.0h-3.0zM309.6 64.4h3.0v3.0h-3.0zM301.8 72.2h3.0v3.0h-3.0zM296.6 74.8h3.0v3.0h-3.0zM294.0 77.4h3.0v3.0h-3.0zM294.0 80.0h3.0v3.0h-3.0zM294.0 82.6h3.0v3.0h-3.0zM296.6 85.2h5.6v3.0h-5.6zM301.8 87.8h3.0v3.0h-3.0zM307.0 90.4h3.0v3.0h-3.0zM314.8 95.6h3.0v3.0h-3.0zM322.6 100.8h3.0v3.0h-3.0zM335.6 108.6h3.0v3.0h-3.0zM343.4 113.8h3.0v3.0h-3.0zM348.6 116.4h3.0v3.0h-3.0zM359.0 124.2h3.0v3.0h-3.0zM405.8 168.4h3.0v3.0h-3.0zM442.2 217.8h3.0v3.0h-3.0zM504.6 254.2h3.0v3.0h-3.0zM502.0 256.8h5.6v3.0h-5.6z"/>
<path fill="rgb(126,126,126)" d="M200.4 30.6h3.0v3.0h-3.0zM208.2 41.0h3.0v3.0h-3.0zM294.0 54.0h3.0v3.0h-3.0zM231.6 56.6h3.0v3.0h-3.0zM307.0 59.2h3.0v3.0h-3.0zM307.0 67.0h3.0v3.0h-3.0zM304.4 69.6h3.0v3.0h-3.0zM299.2 72.2h3.0v3.0h-3.0zM294.0 74.8h3.0v3.0h-3.0zM288.8 77.4h5.6v3.0h-5.6zM288.8 80.0h5.6v3.0h-5.6zM291.4 82.6h3.0v3.0h-3.0zM294.0 85.2h3.0v3.0h-3.0zM299.2 87.8h3.0v3.0h-3.0zM304.4 90.4h3.0v3.0h-3.0zM309.6 93.0h3.0v3.0h-3.0zM312.2 95.6h3.0v3.0h-3.0zM317.4 98.2h3.0v3.0h-3.0zM325.2 103.4h3.0v3.0h-3.0zM330.4 106.0h3.0v3.0h-3.0zM338.2 111.2h3.0v3.0h-3.0zM361.6 126.8h3.0v3.0h-3.0zM382.4 155.4h3.0v3.0h-3.0zM424.0 178.8h3.0v3.0h-3.0zM431.8 184.0h3.0v3.0h-3.0zM439.6 199.6h3.0v3.0h-3.0zM483.8 246.4h3.0v3.0h-3.0zM470.8 249.0h3.0v3.0h-3.0zM476.0 254.2h3.0v3.0h-3.0zM502.0 254.2h3.0v3.0h-3.0zM494.2 259.4h3.0v3.0h-3.0z"/>
<path fill="rgb(127,127,127)" d="M197.8 28.0h3.0v3.0h-3.0zM205.6 38.4h3.0v3.0h-3.0zM288.8 54.0h5.6v3.0h-5.6zM301.8 56.6h3.0v3.0h-3.0zM307.0 64.4h3.0v3.0h-3.0zM301.8 69.6h3.0v3.0h-3.0zM296.6 72.2h3.0v3.0h-3.0zM288.8 74.8h5.6v3.0h-5.6zM286.2 77.4h3.0v3.0h-3.0zM286.2 80.0h3.0v3.0h-3.0zM286.2 82.6h5.6v3.0h-5.6zM291.4 85.2h3.0v3.0h-3.0zM296.6 87.8h3.0v3.0h-3.0zM301.8 90.4h3.0v3.0h-3.0zM307.0 93.0h3.0v3.0h-3.0zM314.8 98.2h3.0v3.0h-3.0zM320.0 100.8h3.0v3.0h-3.0zM333.0 108.6h3.0v3.0h-3.0zM346.0 116.4h3.0v3.0h-3.0zM351.2 119.0h3.0v3.0h-3.0zM364.2 129.4h3.0v3.0h-3.0zM372.0 137.2h3.0v3.0h-3.0zM385.0 158.0h3.0v3.0h-3.0zM392.8 163.2h3.0v3.0h-3.0zM398.0 165.8h3.0v3.0h-3.0zM439.6 202.2h3.0v3.0h-3.0zM491.6 249.0h3.0v3.0h-3.0zM489.0 259.4h5.6v3.0h-5.6z"/>
<path fill="rgb(128,128,128)" d="M200.4 33.2h3.0v3.0h-3.0zM203.0 35.8h3.0v3.0h-3.0zM299.2 56.6h3.0v3.0h-3.0zM239.4 59.2h3.0v3.0h-3.0zM304.4 59.2h3.0v3.0h-3.0zM307.0 61.8h3.0v3.0h-3.0zM304.4 67.0h3.0v3.0h-3.0zM294.0 72.2h3.0v3.0h-3.0zM286.2 74.8h3.0v3.0h-3.0zM281.0 77.4h5.6v3.0h-5.6zM281.0 80.0h5.6v3.0h-5.6zM283.6 82.6h3.0v3.0h-3.0zM288.8 85.2h3.0v3.0h-3.0zM294.0 87.8h3.0v3.0h-3.0zM299.2 90.4h3.0v3.0h-3.0zM304.4 93.0h3.0v3.0h-3.0zM309.6 95.6h3.0v3.0h-3.0zM327.8 106.0h3.0v3.0h-3.0zM340.8 113.8h3.0v3.0h-3.0zM387.6 160.6h3.0v3.0h-3.0zM403.2 168.4h3.0v3.0h-3.0zM408.4 171.0h3.0v3.0h-3.0zM413.6 173.6h3.0v3.0h-3.0zM418.8 176.2h3.0v3.0h-3.0zM434.4 186.6h3.0v3.0h-3.0zM437.0 191.8h3.0v3.0h-3.0zM439.6 204.8h3.0v3.0h-3.0zM442.2 220.4h3.0v3.0h-3.0z"/>
<path fill="rgb(129,129,129)" d="M195.2 28.0h3.0v3.0h-3.0zM197.8 30.6h3.0v3.0h-3.0zM210.8 46.2h3.0v3.0h-3.0zM213.4 48.8h3.0v3.0h-3.0zM296.6 56.6h3.0v3.0h-3.0zM299.2 69.6h3.0v3.0h-3.0zM288.8 72.2h5.6v3.0h-5.6zM278.4 74.8h8.2v3.0h-8.2zM275.8 77.4h5.6v3.0h-5.6zM278.4 80.0h3.0v3.0h-3.0zM322.6 103.4h3.0v3.0h-3.0zM335.6 111.2h3.0v3.0h-3.0zM353.8 121.6h3.0v3.0h-3.0zM366.8 132.0h3.0v3.0h-3.0zM369.4 134.6h3.0v3.0h-3.0zM374.6 142.4h3.0v3.0h-3.0zM377.2 147.6h3.0v3.0h-3.0zM379.8 152.8h3.0v3.0h-3.0zM395.4 165.8h3.0v3.0h-3.0zM426.6 181.4h3.0v3.0h-3.0zM470.8 243.8h3.0v3.0h-3.0zM476.0 243.8h3.0v3.0h-3.0zM473.4 251.6h3.0v3.0h-3.0zM496.8 251.6h3.0v3.0h-3.0z"/>
<path fill="rgb(130,130,130)" d="M195.2 30.6h3.0v3.0h-3.0zM197.8 33.2h3.0v3.0h-3.0zM200.4 35.8h3.0v3.0h-3.0zM203.0 38.4h3.0v3.0h-3.0zM205.6 41.0h3.0v3.0h-3.0zM208.2 43.6h3.0v3.0h-3.0zM294.0 56.6h3.0v3.0h-3.0zM301.8 59.2h3.0v3.0h-3.0zM304.4 61.8h3.0v3.0h-3.0zM255.0 64.4h8.2v3.0h-8.2zM304.4 64.4h3.0v3.0h-3.0zM301.8 67.0h3.0v3.0h-3.0zM296.6 69.6h3.0v3.0h-3.0zM268.0 72.2h5.6v3.0h-5.6zM283.6 72.2h5.6v3.0h-5.6zM268.0 74.8h10.8v3.0h-10.8zM273.2 77.4h3.0v3.0h-3.0zM356.4 124.2h3.0v3.0h-3.0zM400.6 168.4h3.0v3.0h-3.0zM416.2 176.2h3.0v3.0h-3.0zM421.4 178.8h3.0v3.0h-3.0zM429.2 184.0h3.0v3.0h-3.0zM434.4 189.2h3.0v3.0h-3.0zM437.0 194.4h3.0v3.0h-3.0zM439.6 207.4h3.0v3.0h-3.0z"/>
<path fill="rgb(131,131,131)" d="M221.2 54.0h3.0v3.0h-3.0zM291.4 56.6h3.0v3.0h-3.0zM299.2 59.2h3.0v3.0h-3.0zM252.4 64.4h3.0v3.0h-3.0zM262.8 64.4h5.6v3.0h-5.6zM301.8 64.4h3.0v3.0h-3.0zM257.6 67.0h10.8v3.0h-10.8zM299.2 67.0h3.0v3.0h-3.0zM260.2 69.6h13.4v3.0h-13.4zM291.4 69.6h5.6v3.0h-5.6zM265.4 72.2h3.0v3.0h-3.0zM273.2 72.2h10.8v3.0h-10.8zM317.4 100.8h3.0v3.0h-3.0zM330.4 108.6h3.0v3.0h-3.0zM343.4 116.4h3.0v3.0h-3.0zM348.6 119.0h3.0v3.0h-3.0zM359.0 126.8h3.0v3.0h-3.0zM390.2 163.2h3.0v3.0h-3.0zM405.8 171.0h3.0v3.0h-3.0zM411.0 173.6h3.0v3.0h-3.0zM424.0 181.4h3.0v3.0h-3.0zM431.8 186.6h3.0v3.0h-3.0zM499.4 256.8h3.0v3.0h-3.0z"/>
<path fill="rgb(132,132,132)" d="M195.2 33.2h3.0v3.0h-3.0zM197.8 35.8h3.0v3.0h-3.0zM200.4 38.4h3.0v3.0h-3.0zM286.2 56.6h5.6v3.0h-5.6zM301.8 61.8h3.0v3.0h-3.0zM268.0 64.4h3.0v3.0h-3.0zM268.0 67.0h5.6v3.0h-5.6zM296.6 67.0h3.0v3.0h-3.0zM273.2 69.6h5.6v3.0h-5.6zM286.2 69.6h5.6v3.0h-5.6zM281.0 82.6h3.0v3.0h-3.0zM286.2 85.2h3.0v3.0h-3.0zM291.4 87.8h3.0v3.0h-3.0zM296.6 90.4h3.0v3.0h-3.0zM301.8 93.0h3.0v3.0h-3.0zM307.0 95.6h3.0v3.0h-3.0zM312.2 98.2h3.0v3.0h-3.0zM325.2 106.0h3.0v3.0h-3.0zM338.2 113.8h3.0v3.0h-3.0zM392.8 165.8h3.0v3.0h-3.0zM398.0 168.4h3.0v3.0h-3.0zM418.8 178.8h3.0v3.0h-3.0zM426.6 184.0h3.0v3.0h-3.0zM434.4 191.8h3.0v3.0h-3.0zM437.0 197.0h3.0v3.0h-3.0zM473.4 243.8h3.0v3.0h-3.0z"/>
<path fill="rgb(133,133,133)" d="M203.0 41.0h3.0v3.0h-3.0zM205.6 43.6h3.0v3.0h-3.0zM216.0 51.4h3.0v3.0h-3.0zM296.6 59.2h3.0v3.0h-3.0zM299.2 61.8h3.0v3.0h-3.0zM270.6 64.4h3.0v3.0h-3.0zM299.2 64.4h3.0v3.0h-3.0zM273.2 67.0h3.0v3.0h-3.0zM294.0 67.0h3.0v3.0h-3.0zM278.4 69.6h8.2v3.0h-8.2zM262.8 72.2h3.0v3.0h-3.0zM270.6 77.4h3.0v3.0h-3.0zM275.8 80.0h3.0v3.0h-3.0zM361.6 129.4h3.0v3.0h-3.0zM385.0 160.6h3.0v3.0h-3.0zM403.2 171.0h3.0v3.0h-3.0zM408.4 173.6h3.0v3.0h-3.0zM413.6 176.2h3.0v3.0h-3.0zM429.2 186.6h3.0v3.0h-3.0zM439.6 210.0h3.0v3.0h-3.0zM499.4 254.2h3.0v3.0h-3.0zM481.2 256.8h3.0v3.0h-3.0z"/>
<path fill="rgb(134,134,134)" d="M192.6 33.2h3.0v3.0h-3.0zM195.2 35.8h3.0v3.0h-3.0zM197.8 38.4h3.0v3.0h-3.0zM208.2 46.2h3.0v3.0h-3.0zM210.8 48.8h3.0v3.0h-3.0zM278.4 59.2h3.0v3.0h-3.0zM291.4 59.2h5.6v3.0h-5.6zM296.6 61.8h3.0v3.0h-3.0zM249.8 64.4h3.0v3.0h-3.0zM273.2 64.4h3.0v3.0h-3.0zM296.6 64.4h3.0v3.0h-3.0zM255.0 67.0h3.0v3.0h-3.0zM275.8 67.0h5.6v3.0h-5.6zM291.4 67.0h3.0v3.0h-3.0zM265.4 74.8h3.0v3.0h-3.0zM320.0 103.4h3.0v3.0h-3.0zM333.0 111.2h3.0v3.0h-3.0zM346.0 119.0h3.0v3.0h-3.0zM351.2 121.6h3.0v3.0h-3.0zM372.0 139.8h3.0v3.0h-3.0zM382.4 158.0h3.0v3.0h-3.0zM387.6 163.2h3.0v3.0h-3.0zM421.4 181.4h3.0v3.0h-3.0zM431.8 189.2h3.0v3.0h-3.0zM437.0 199.6h3.0v3.0h-3.0z"/>
<path fill="rgb(135,135,135)" d="M190.0 33.2h3.0v3.0h-3.0zM192.6 35.8h3.0v3.0h-3.0zM200.4 41.0h3.0v3.0h-3.0zM203.0 43.6h3.0v3.0h-3.0zM281.0 59.2h10.8v3.0h-10.8zM275.8 61.8h3.0v3.0h-3.0zM294.0 61.8h3.0v3.0h-3.0zM275.8 64.4h3.0v3.0h-3.0zM294.0 64.4h3.0v3.0h-3.0zM281.0 67.0h10.8v3.0h-10.8zM314.8 100.8h3.0v3.0h-3.0zM340.8 116.4h3.0v3.0h-3.0zM353.8 124.2h3.0v3.0h-3.0zM364.2 132.0h3.0v3.0h-3.0zM395.4 168.4h3.0v3.0h-3.0zM400.6 171.0h3.0v3.0h-3.0zM405.8 173.6h3.0v3.0h-3.0zM411.0 176.2h3.0v3.0h-3.0zM416.2 178.8h3.0v3.0h-3.0zM424.0 184.0h3.0v3.0h-3.0zM434.4 194.4h3.0v3.0h-3.0zM489.0 249.0h3.0v3.0h-3.0z"/>
<path fill="rgb(136,136,136)" d="M195.2 38.4h3.0v3.0h-3.0zM197.8 41.0h3.0v3.0h-3.0zM278.4 61.8h5.6v3.0h-5.6zM291.4 61.8h3.0v3.0h-3.0zM278.4 64.4h8.2v3.0h-8.2zM288.8 64.4h5.6v3.0h-5.6zM257.6 69.6h3.0v3.0h-3.0zM278.4 82.6h3.0v3.0h-3.0zM283.6 85.2h3.0v3.0h-3.0zM288.8 87.8h3.0v3.0h-3.0zM294.0 90.4h3.0v3.0h-3.0zM299.2 93.0h3.0v3.0h-3.0zM304.4 95.6h3.0v3.0h-3.0zM309.6 98.2h3.0v3.0h-3.0zM327.8 108.6h3.0v3.0h-3.0zM366.8 134.6h3.0v3.0h-3.0zM369.4 137.2h3.0v3.0h-3.0zM374.6 145.0h3.0v3.0h-3.0zM377.2 150.2h3.0v3.0h-3.0zM379.8 155.4h3.0v3.0h-3.0zM390.2 165.8h3.0v3.0h-3.0zM418.8 181.4h3.0v3.0h-3.0zM426.6 186.6h3.0v3.0h-3.0zM437.0 202.2h3.0v3.0h-3.0zM470.8 246.4h3.0v3.0h-3.0z"/>
<path fill="rgb(137,137,137)" d="M190.0 35.8h3.0v3.0h-3.0zM192.6 38.4h3.0v3.0h-3.0zM200.4 43.6h3.0v3.0h-3.0zM205.6 46.2h3.0v3.0h-3.0zM283.6 61.8h8.2v3.0h-8.2zM286.2 64.4h3.0v3.0h-3.0zM260.2 72.2h3.0v3.0h-3.0zM268.0 77.4h3.0v3.0h-3.0zM273.2 80.0h3.0v3.0h-3.0zM322.6 106.0h3.0v3.0h-3.0zM335.6 113.8h3.0v3.0h-3.0zM348.6 121.6h3.0v3.0h-3.0zM356.4 126.8h3.0v3.0h-3.0zM392.8 168.4h3.0v3.0h-3.0zM398.0 171.0h3.0v3.0h-3.0zM413.6 178.8h3.0v3.0h-3.0zM429.2 189.2h3.0v3.0h-3.0zM431.8 191.8h3.0v3.0h-3.0zM481.2 246.4h3.0v3.0h-3.0zM494.2 251.6h3.0v3.0h-3.0zM496.8 256.8h3.0v3.0h-3.0z"/>
<path fill="rgb(138,138,138)" d="M190.0 38.4h3.0v3.0h-3.0zM195.2 41.0h3.0v3.0h-3.0zM208.2 48.8h3.0v3.0h-3.0zM236.8 59.2h3.0v3.0h-3.0zM242.0 61.8h3.0v3.0h-3.0zM247.2 64.4h3.0v3.0h-3.0zM252.4 67.0h3.0v3.0h-3.0zM343.4 119.0h3.0v3.0h-3.0zM403.2 173.6h3.0v3.0h-3.0zM408.4 176.2h3.0v3.0h-3.0zM421.4 184.0h3.0v3.0h-3.0zM434.4 197.0h3.0v3.0h-3.0zM439.6 212.6h3.0v3.0h-3.0z"/>
<path fill="rgb(139,139,139)" d="M192.6 41.0h3.0v3.0h-3.0zM197.8 43.6h3.0v3.0h-3.0zM203.0 46.2h3.0v3.0h-3.0zM213.4 51.4h3.0v3.0h-3.0zM262.8 74.8h3.0v3.0h-3.0zM317.4 103.4h3.0v3.0h-3.0zM330.4 111.2h3.0v3.0h-3.0zM359.0 129.4h3.0v3.0h-3.0zM385.0 163.2h3.0v3.0h-3.0zM416.2 181.4h3.0v3.0h-3.0zM424.0 186.6h3.0v3.0h-3.0zM431.8 194.4h3.0v3.0h-3.0zM437.0 204.8h3.0v3.0h-3.0z"/>
<path fill="rgb(140,140,140)" d="M190.0 41.0h3.0v3.0h-3.0zM195.2 43.6h3.0v3.0h-3.0zM200.4 46.2h3.0v3.0h-3.0zM255.0 69.6h3.0v3.0h-3.0zM275.8 82.6h3.0v3.0h-3.0zM281.0 85.2h3.0v3.0h-3.0zM286.2 87.8h3.0v3.0h-3.0zM291.4 90.4h3.0v3.0h-3.0zM296.6 93.0h3.0v3.0h-3.0zM301.8 95.6h3.0v3.0h-3.0zM307.0 98.2h3.0v3.0h-3.0zM312.2 100.8h3.0v3.0h-3.0zM325.2 108.6h3.0v3.0h-3.0zM338.2 116.4h3.0v3.0h-3.0zM351.2 124.2h3.0v3.0h-3.0zM361.6 132.0h3.0v3.0h-3.0zM372.0 142.4h3.0v3.0h-3.0zM382.4 160.6h3.0v3.0h-3.0zM387.6 165.8h3.0v3.0h-3.0zM395.4 171.0h3.0v3.0h-3.0zM400.6 173.6h3.0v3.0h-3.0zM405.8 176.2h3.0v3.0h-3.0zM411.0 178.8h3.0v3.0h-3.0zM426.6 189.2h3.0v3.0h-3.0zM434.4 199.6h3.0v3.0h-3.0z"/>
<path fill="rgb(141,141,141)" d="M192.6 43.6h3.0v3.0h-3.0zM205.6 48.8h3.0v3.0h-3.0zM265.4 77.4h3.0v3.0h-3.0zM270.6 80.0h3.0v3.0h-3.0zM346.0 121.6h3.0v3.0h-3.0zM390.2 168.4h3.0v3.0h-3.0zM413.6 181.4h3.0v3.0h-3.0zM418.8 184.0h3.0v3.0h-3.0zM429.2 191.8h3.0v3.0h-3.0zM486.4 249.0h3.0v3.0h-3.0zM496.8 254.2h3.0v3.0h-3.0z"/>
<path fill="rgb(142,142,142)" d="M190.0 43.6h3.0v3.0h-3.0zM197.8 46.2h3.0v3.0h-3.0zM203.0 48.8h3.0v3.0h-3.0zM210.8 51.4h3.0v3.0h-3.0zM244.6 64.4h3.0v3.0h-3.0zM249.8 67.0h3.0v3.0h-3.0zM257.6 72.2h3.0v3.0h-3.0zM320.0 106.0h3.0v3.0h-3.0zM333.0 113.8h3.0v3.0h-3.0zM340.8 119.0h3.0v3.0h-3.0zM364.2 134.6h3.0v3.0h-3.0zM379.8 158.0h3.0v3.0h-3.0zM398.0 173.6h3.0v3.0h-3.0zM408.4 178.8h3.0v3.0h-3.0zM421.4 186.6h3.0v3.0h-3.0zM483.8 256.8h3.0v3.0h-3.0z"/>
<path fill="rgb(143,143,143)" d="M195.2 46.2h3.0v3.0h-3.0zM314.8 103.4h3.0v3.0h-3.0zM353.8 126.8h3.0v3.0h-3.0zM366.8 137.2h3.0v3.0h-3.0zM369.4 139.8h3.0v3.0h-3.0zM374.6 147.6h3.0v3.0h-3.0zM377.2 152.8h3.0v3.0h-3.0zM392.8 171.0h3.0v3.0h-3.0zM403.2 176.2h3.0v3.0h-3.0zM416.2 184.0h3.0v3.0h-3.0zM424.0 189.2h3.0v3.0h-3.0zM431.8 197.0h3.0v3.0h-3.0zM437.0 207.4h3.0v3.0h-3.0zM478.6 254.2h3.0v3.0h-3.0z"/>
<path fill="rgb(144,144,144)" d="M192.6 46.2h3.0v3.0h-3.0zM200.4 48.8h3.0v3.0h-3.0zM208.2 51.4h3.0v3.0h-3.0zM260.2 74.8h3.0v3.0h-3.0zM273.2 82.6h3.0v3.0h-3.0zM278.4 85.2h3.0v3.0h-3.0zM283.6 87.8h3.0v3.0h-3.0zM288.8 90.4h3.0v3.0h-3.0zM294.0 93.0h3.0v3.0h-3.0zM299.2 95.6h3.0v3.0h-3.0zM304.4 98.2h3.0v3.0h-3.0zM309.6 100.8h3.0v3.0h-3.0zM327.8 111.2h3.0v3.0h-3.0zM335.6 116.4h3.0v3.0h-3.0zM348.6 124.2h3.0v3.0h-3.0zM411.0 181.4h3.0v3.0h-3.0zM426.6 191.8h3.0v3.0h-3.0zM429.2 194.4h3.0v3.0h-3.0zM434.4 202.2h3.0v3.0h-3.0zM494.2 256.8h3.0v3.0h-3.0z"/>
<path fill="rgb(145,145,145)" d="M190.0 46.2h3.0v3.0h-3.0zM197.8 48.8h3.0v3.0h-3.0zM218.6 54.0h3.0v3.0h-3.0zM252.4 69.6h3.0v3.0h-3.0zM262.8 77.4h3.0v3.0h-3.0zM268.0 80.0h3.0v3.0h-3.0zM322.6 108.6h3.0v3.0h-3.0zM343.4 121.6h3.0v3.0h-3.0zM356.4 129.4h3.0v3.0h-3.0zM382.4 163.2h3.0v3.0h-3.0zM385.0 165.8h3.0v3.0h-3.0zM387.6 168.4h3.0v3.0h-3.0zM395.4 173.6h3.0v3.0h-3.0zM400.6 176.2h3.0v3.0h-3.0zM405.8 178.8h3.0v3.0h-3.0zM418.8 186.6h3.0v3.0h-3.0zM439.6 215.2h3.0v3.0h-3.0z"/>
<path fill="rgb(146,146,146)" d="M195.2 48.8h3.0v3.0h-3.0zM205.6 51.4h3.0v3.0h-3.0zM239.4 61.8h3.0v3.0h-3.0zM247.2 67.0h3.0v3.0h-3.0zM359.0 132.0h3.0v3.0h-3.0zM390.2 171.0h3.0v3.0h-3.0zM413.6 184.0h3.0v3.0h-3.0zM421.4 189.2h3.0v3.0h-3.0zM431.8 199.6h3.0v3.0h-3.0zM478.6 246.4h3.0v3.0h-3.0zM473.4 249.0h3.0v3.0h-3.0z"/>
<path fill="rgb(147,147,147)" d="M192.6 48.8h3.0v3.0h-3.0zM203.0 51.4h3.0v3.0h-3.0zM255.0 72.2h3.0v3.0h-3.0zM317.4 106.0h3.0v3.0h-3.0zM330.4 113.8h3.0v3.0h-3.0zM338.2 119.0h3.0v3.0h-3.0zM346.0 124.2h3.0v3.0h-3.0zM351.2 126.8h3.0v3.0h-3.0zM361.6 134.6h3.0v3.0h-3.0zM392.8 173.6h3.0v3.0h-3.0zM398.0 176.2h3.0v3.0h-3.0zM403.2 178.8h3.0v3.0h-3.0zM408.4 181.4h3.0v3.0h-3.0zM416.2 186.6h3.0v3.0h-3.0zM424.0 191.8h3.0v3.0h-3.0zM426.6 194.4h3.0v3.0h-3.0zM429.2 197.0h3.0v3.0h-3.0zM486.4 256.8h3.0v3.0h-3.0z"/>
<path fill="rgb(148,148,148)" d="M197.8 51.4h5.6v3.0h-5.6zM242.0 64.4h3.0v3.0h-3.0zM257.6 74.8h3.0v3.0h-3.0zM265.4 80.0h3.0v3.0h-3.0zM270.6 82.6h3.0v3.0h-3.0zM275.8 85.2h3.0v3.0h-3.0zM281.0 87.8h3.0v3.0h-3.0zM286.2 90.4h3.0v3.0h-3.0zM291.4 93.0h3.0v3.0h-3.0zM296.6 95.6h3.0v3.0h-3.0zM301.8 98.2h3.0v3.0h-3.0zM307.0 100.8h3.0v3.0h-3.0zM312.2 103.4h3.0v3.0h-3.0zM325.2 111.2h3.0v3.0h-3.0zM364.2 137.2h3.0v3.0h-3.0zM372.0 145.0h3.0v3.0h-3.0zM377.2 155.4h3.0v3.0h-3.0zM379.8 160.6h3.0v3.0h-3.0zM411.0 184.0h3.0v3.0h-3.0zM473.4 246.4h3.0v3.0h-3.0zM476.0 251.6h3.0v3.0h-3.0zM491.6 251.6h3.0v3.0h-3.0z"/>
<path fill="rgb(149,149,149)" d="M216.0 54.0h3.0v3.0h-3.0zM249.8 69.6h3.0v3.0h-3.0zM340.8 121.6h3.0v3.0h-3.0zM418.8 189.2h3.0v3.0h-3.0zM434.4 204.8h3.0v3.0h-3.0zM437.0 210.0h3.0v3.0h-3.0zM491.6 256.8h3.0v3.0h-3.0z"/>
<path fill="rgb(150,150,150)" d="M195.2 51.4h3.0v3.0h-3.0zM229.0 56.6h3.0v3.0h-3.0zM244.6 67.0h3.0v3.0h-3.0zM320.0 108.6h3.0v3.0h-3.0zM333.0 116.4h3.0v3.0h-3.0zM369.4 142.4h3.0v3.0h-3.0zM374.6 150.2h3.0v3.0h-3.0zM405.8 181.4h3.0v3.0h-3.0zM476.0 246.4h3.0v3.0h-3.0zM483.8 249.0h3.0v3.0h-3.0z"/>
<path fill="rgb(151,151,151)" d="M213.4 54.0h3.0v3.0h-3.0zM234.2 59.2h3.0v3.0h-3.0zM260.2 77.4h3.0v3.0h-3.0zM353.8 129.4h3.0v3.0h-3.0zM366.8 139.8h3.0v3.0h-3.0zM382.4 165.8h3.0v3.0h-3.0zM385.0 168.4h3.0v3.0h-3.0zM387.6 171.0h3.0v3.0h-3.0zM395.4 176.2h3.0v3.0h-3.0zM400.6 178.8h3.0v3.0h-3.0zM421.4 191.8h3.0v3.0h-3.0zM431.8 202.2h3.0v3.0h-3.0zM439.6 217.8h3.0v3.0h-3.0zM494.2 254.2h3.0v3.0h-3.0z"/>
<path fill="rgb(152,152,152)" d="M210.8 54.0h3.0v3.0h-3.0zM252.4 72.2h3.0v3.0h-3.0zM314.8 106.0h3.0v3.0h-3.0zM343.4 124.2h3.0v3.0h-3.0zM348.6 126.8h3.0v3.0h-3.0zM413.6 186.6h3.0v3.0h-3.0zM429.2 199.6h3.0v3.0h-3.0zM489.0 256.8h3.0v3.0h-3.0z"/>
<path fill="rgb(153,153,153)" d="M268.0 82.6h3.0v3.0h-3.0zM273.2 85.2h3.0v3.0h-3.0zM278.4 87.8h3.0v3.0h-3.0zM283.6 90.4h3.0v3.0h-3.0zM288.8 93.0h3.0v3.0h-3.0zM294.0 95.6h3.0v3.0h-3.0zM327.8 113.8h3.0v3.0h-3.0zM335.6 119.0h3.0v3.0h-3.0zM377.2 158.0h3.0v3.0h-3.0zM390.2 173.6h3.0v3.0h-3.0zM424.0 194.4h3.0v3.0h-3.0zM426.6 197.0h3.0v3.0h-3.0z"/>
<path fill="rgb(154,154,154)" d="M208.2 54.0h3.0v3.0h-3.0zM226.4 56.6h3.0v3.0h-3.0zM247.2 69.6h3.0v3.0h-3.0zM262.8 80.0h3.0v3.0h-3.0zM299.2 98.2h3.0v3.0h-3.0zM304.4 100.8h3.0v3.0h-3.0zM309.6 103.4h3.0v3.0h-3.0zM356.4 132.0h3.0v3.0h-3.0zM359.0 134.6h3.0v3.0h-3.0zM379.8 163.2h3.0v3.0h-3.0zM408.4 184.0h3.0v3.0h-3.0zM434.4 207.4h3.0v3.0h-3.0zM437.0 212.6h3.0v3.0h-3.0zM439.6 220.4h3.0v3.0h-3.0z"/>
<path fill="rgb(155,155,155)" d="M255.0 74.8h3.0v3.0h-3.0zM322.6 111.2h3.0v3.0h-3.0zM361.6 137.2h3.0v3.0h-3.0zM372.0 147.6h3.0v3.0h-3.0zM374.6 152.8h3.0v3.0h-3.0zM416.2 189.2h3.0v3.0h-3.0z"/>
<path fill="rgb(156,156,156)" d="M205.6 54.0h3.0v3.0h-3.0zM223.8 56.6h3.0v3.0h-3.0zM236.8 61.8h3.0v3.0h-3.0zM239.4 64.4h3.0v3.0h-3.0zM338.2 121.6h3.0v3.0h-3.0zM392.8 176.2h3.0v3.0h-3.0zM398.0 178.8h3.0v3.0h-3.0zM403.2 181.4h3.0v3.0h-3.0z"/>
<path fill="rgb(157,157,157)" d="M203.0 54.0h3.0v3.0h-3.0zM231.6 59.2h3.0v3.0h-3.0zM242.0 67.0h3.0v3.0h-3.0zM317.4 108.6h3.0v3.0h-3.0zM330.4 116.4h3.0v3.0h-3.0zM346.0 126.8h3.0v3.0h-3.0zM351.2 129.4h3.0v3.0h-3.0zM377.2 160.6h3.0v3.0h-3.0z"/>
<path fill="rgb(158,158,158)" d="M221.2 56.6h3.0v3.0h-3.0zM257.6 77.4h3.0v3.0h-3.0zM312.2 106.0h3.0v3.0h-3.0zM340.8 124.2h3.0v3.0h-3.0zM364.2 139.8h3.0v3.0h-3.0zM369.4 145.0h3.0v3.0h-3.0zM411.0 186.6h3.0v3.0h-3.0zM418.8 191.8h3.0v3.0h-3.0zM431.8 204.8h3.0v3.0h-3.0zM437.0 215.2h3.0v3.0h-3.0z"/>
<path fill="rgb(159,159,159)" d="M200.4 54.0h3.0v3.0h-3.0zM249.8 72.2h3.0v3.0h-3.0zM265.4 82.6h3.0v3.0h-3.0zM270.6 85.2h3.0v3.0h-3.0zM275.8 87.8h3.0v3.0h-3.0zM281.0 90.4h3.0v3.0h-3.0zM286.2 93.0h3.0v3.0h-3.0zM291.4 95.6h3.0v3.0h-3.0zM296.6 98.2h3.0v3.0h-3.0zM301.8 100.8h3.0v3.0h-3.0zM307.0 103.4h3.0v3.0h-3.0zM325.2 113.8h3.0v3.0h-3.0zM366.8 142.4h3.0v3.0h-3.0zM374.6 155.4h3.0v3.0h-3.0zM382.4 168.4h3.0v3.0h-3.0zM385.0 171.0h3.0v3.0h-3.0z"/>
<path fill="rgb(160,160,160)" d="M218.6 56.6h3.0v3.0h-3.0zM333.0 119.0h3.0v3.0h-3.0zM372.0 150.2h3.0v3.0h-3.0zM379.8 165.8h3.0v3.0h-3.0zM387.6 173.6h3.0v3.0h-3.0zM405.8 184.0h3.0v3.0h-3.0zM421.4 194.4h3.0v3.0h-3.0zM429.2 202.2h3.0v3.0h-3.0zM434.4 210.0h3.0v3.0h-3.0zM481.2 254.2h3.0v3.0h-3.0z"/>
<path fill="rgb(161,161,161)" d="M197.8 54.0h3.0v3.0h-3.0zM244.6 69.6h3.0v3.0h-3.0zM260.2 80.0h3.0v3.0h-3.0zM320.0 111.2h3.0v3.0h-3.0zM390.2 176.2h3.0v3.0h-3.0zM395.4 178.8h3.0v3.0h-3.0zM400.6 181.4h3.0v3.0h-3.0zM426.6 199.6h3.0v3.0h-3.0zM437.0 217.8h3.0v3.0h-3.0zM489.0 251.6h3.0v3.0h-3.0z"/>
<path fill="rgb(162,162,162)" d="M216.0 56.6h3.0v3.0h-3.0zM229.0 59.2h3.0v3.0h-3.0zM252.4 74.8h3.0v3.0h-3.0zM335.6 121.6h3.0v3.0h-3.0zM343.4 126.8h3.0v3.0h-3.0zM348.6 129.4h3.0v3.0h-3.0zM353.8 132.0h3.0v3.0h-3.0zM413.6 189.2h3.0v3.0h-3.0zM424.0 197.0h3.0v3.0h-3.0z"/>
<path fill="rgb(163,163,163)" d="M234.2 61.8h3.0v3.0h-3.0zM213.4 82.6h5.6v3.0h-5.6zM216.0 85.2h3.0v3.0h-3.0zM314.8 108.6h3.0v3.0h-3.0zM327.8 116.4h3.0v3.0h-3.0zM356.4 134.6h3.0v3.0h-3.0zM359.0 137.2h3.0v3.0h-3.0zM374.6 158.0h3.0v3.0h-3.0zM377.2 163.2h3.0v3.0h-3.0zM476.0 249.0h3.0v3.0h-3.0zM481.2 249.0h3.0v3.0h-3.0z"/>
<path fill="rgb(164,164,164)" d="M213.4 56.6h3.0v3.0h-3.0zM218.6 85.2h3.0v3.0h-3.0zM283.6 93.0h3.0v3.0h-3.0zM288.8 95.6h3.0v3.0h-3.0zM294.0 98.2h3.0v3.0h-3.0zM309.6 106.0h3.0v3.0h-3.0zM408.4 186.6h3.0v3.0h-3.0zM416.2 191.8h3.0v3.0h-3.0zM431.8 207.4h3.0v3.0h-3.0zM434.4 212.6h3.0v3.0h-3.0zM491.6 254.2h3.0v3.0h-3.0z"/>
<path fill="rgb(165,165,165)" d="M210.8 56.6h3.0v3.0h-3.0zM236.8 64.4h3.0v3.0h-3.0zM247.2 72.2h3.0v3.0h-3.0zM255.0 77.4h3.0v3.0h-3.0zM213.4 80.0h3.0v3.0h-3.0zM262.8 82.6h3.0v3.0h-3.0zM213.4 85.2h3.0v3.0h-3.0zM268.0 85.2h3.0v3.0h-3.0zM273.2 87.8h3.0v3.0h-3.0zM278.4 90.4h3.0v3.0h-3.0zM299.2 100.8h3.0v3.0h-3.0zM304.4 103.4h3.0v3.0h-3.0zM322.6 113.8h3.0v3.0h-3.0zM338.2 124.2h3.0v3.0h-3.0zM361.6 139.8h3.0v3.0h-3.0zM369.4 147.6h3.0v3.0h-3.0zM437.0 220.4h3.0v3.0h-3.0z"/>
<path fill="rgb(166,166,166)" d="M239.4 67.0h3.0v3.0h-3.0zM210.8 80.0h3.0v3.0h-3.0zM210.8 82.6h3.0v3.0h-3.0zM218.6 82.6h3.0v3.0h-3.0zM372.0 152.8h3.0v3.0h-3.0zM392.8 178.8h3.0v3.0h-3.0zM398.0 181.4h3.0v3.0h-3.0zM403.2 184.0h3.0v3.0h-3.0zM478.6 251.6h3.0v3.0h-3.0z"/>
<path fill="rgb(167,167,167)" d="M208.2 56.6h3.0v3.0h-3.0zM242.0 69.6h3.0v3.0h-3.0zM216.0 80.0h3.0v3.0h-3.0zM216.0 87.8h5.6v3.0h-5.6zM317.4 111.2h3.0v3.0h-3.0zM330.4 119.0h3.0v3.0h-3.0zM366.8 145.0h3.0v3.0h-3.0zM374.6 160.6h3.0v3.0h-3.0zM379.8 168.4h3.0v3.0h-3.0zM382.4 171.0h3.0v3.0h-3.0zM385.0 173.6h3.0v3.0h-3.0zM418.8 194.4h3.0v3.0h-3.0zM429.2 204.8h3.0v3.0h-3.0z"/>
<path fill="rgb(168,168,168)" d="M226.4 59.2h3.0v3.0h-3.0zM257.6 80.0h3.0v3.0h-3.0zM221.2 85.2h3.0v3.0h-3.0zM340.8 126.8h3.0v3.0h-3.0zM346.0 129.4h3.0v3.0h-3.0zM351.2 132.0h3.0v3.0h-3.0zM364.2 142.4h3.0v3.0h-3.0zM387.6 176.2h3.0v3.0h-3.0zM411.0 189.2h3.0v3.0h-3.0zM426.6 202.2h3.0v3.0h-3.0zM478.6 249.0h3.0v3.0h-3.0zM486.4 251.6h3.0v3.0h-3.0z"/>
<path fill="rgb(169,169,169)" d="M205.6 56.6h3.0v3.0h-3.0zM231.6 61.8h3.0v3.0h-3.0zM249.8 74.8h3.0v3.0h-3.0zM210.8 77.4h3.0v3.0h-3.0zM208.2 80.0h3.0v3.0h-3.0zM210.8 85.2h3.0v3.0h-3.0zM221.2 87.8h3.0v3.0h-3.0zM312.2 108.6h3.0v3.0h-3.0zM325.2 116.4h3.0v3.0h-3.0zM333.0 121.6h3.0v3.0h-3.0zM421.4 197.0h3.0v3.0h-3.0zM424.0 199.6h3.0v3.0h-3.0zM434.4 215.2h3.0v3.0h-3.0zM483.8 254.2h3.0v3.0h-3.0z"/>
<path fill="rgb(170,170,170)" d="M223.8 59.2h3.0v3.0h-3.0zM213.4 77.4h3.0v3.0h-3.0zM218.6 80.0h3.0v3.0h-3.0zM208.2 82.6h3.0v3.0h-3.0zM221.2 82.6h3.0v3.0h-3.0zM265.4 85.2h3.0v3.0h-3.0zM213.4 87.8h3.0v3.0h-3.0zM270.6 87.8h3.0v3.0h-3.0zM275.8 90.4h3.0v3.0h-3.0zM281.0 93.0h3.0v3.0h-3.0zM286.2 95.6h3.0v3.0h-3.0zM291.4 98.2h3.0v3.0h-3.0zM296.6 100.8h3.0v3.0h-3.0zM301.8 103.4h3.0v3.0h-3.0zM307.0 106.0h3.0v3.0h-3.0zM372.0 155.4h3.0v3.0h-3.0zM377.2 165.8h3.0v3.0h-3.0zM405.8 186.6h3.0v3.0h-3.0zM431.8 210.0h3.0v3.0h-3.0z"/>
<path fill="rgb(171,171,171)" d="M208.2 77.4h3.0v3.0h-3.0zM260.2 82.6h3.0v3.0h-3.0zM320.0 113.8h3.0v3.0h-3.0zM353.8 134.6h3.0v3.0h-3.0zM356.4 137.2h3.0v3.0h-3.0zM359.0 139.8h3.0v3.0h-3.0zM369.4 150.2h3.0v3.0h-3.0zM390.2 178.8h3.0v3.0h-3.0zM395.4 181.4h3.0v3.0h-3.0zM400.6 184.0h3.0v3.0h-3.0zM413.6 191.8h3.0v3.0h-3.0z"/>
<path fill="rgb(172,172,172)" d="M203.0 56.6h3.0v3.0h-3.0zM221.2 59.2h3.0v3.0h-3.0zM244.6 72.2h3.0v3.0h-3.0zM216.0 77.4h3.0v3.0h-3.0zM252.4 77.4h3.0v3.0h-3.0zM223.8 85.2h3.0v3.0h-3.0zM223.8 87.8h3.0v3.0h-3.0zM218.6 90.4h3.0v3.0h-3.0zM335.6 124.2h3.0v3.0h-3.0zM434.4 217.8h3.0v3.0h-3.0z"/>
<path fill="rgb(173,173,173)" d="M221.2 90.4h3.0v3.0h-3.0zM314.8 111.2h3.0v3.0h-3.0zM327.8 119.0h3.0v3.0h-3.0zM343.4 129.4h3.0v3.0h-3.0zM348.6 132.0h3.0v3.0h-3.0zM374.6 163.2h3.0v3.0h-3.0zM408.4 189.2h3.0v3.0h-3.0zM416.2 194.4h3.0v3.0h-3.0zM483.8 251.6h3.0v3.0h-3.0zM486.4 254.2h3.0v3.0h-3.0z"/>
<path fill="rgb(174,174,174)" d="M205.6 77.4h3.0v3.0h-3.0zM205.6 80.0h3.0v3.0h-3.0zM216.0 90.4h3.0v3.0h-3.0zM283.6 95.6h3.0v3.0h-3.0zM288.8 98.2h3.0v3.0h-3.0zM294.0 100.8h3.0v3.0h-3.0zM299.2 103.4h3.0v3.0h-3.0zM304.4 106.0h3.0v3.0h-3.0zM309.6 108.6h3.0v3.0h-3.0zM322.6 116.4h3.0v3.0h-3.0zM338.2 126.8h3.0v3.0h-3.0zM361.6 142.4h3.0v3.0h-3.0zM366.8 147.6h3.0v3.0h-3.0zM372.0 158.0h3.0v3.0h-3.0zM379.8 171.0h3.0v3.0h-3.0zM382.4 173.6h3.0v3.0h-3.0zM429.2 207.4h3.0v3.0h-3.0zM431.8 212.6h3.0v3.0h-3.0zM489.0 254.2h3.0v3.0h-3.0z"/>
<path fill="rgb(175,175,175)" d="M218.6 59.2h3.0v3.0h-3.0zM234.2 64.4h3.0v3.0h-3.0zM236.8 67.0h3.0v3.0h-3.0zM239.4 69.6h3.0v3.0h-3.0zM208.2 74.8h5.6v3.0h-5.6zM221.2 80.0h3.0v3.0h-3.0zM255.0 80.0h3.0v3.0h-3.0zM223.8 82.6h3.0v3.0h-3.0zM208.2 85.2h3.0v3.0h-3.0zM262.8 85.2h3.0v3.0h-3.0zM210.8 87.8h3.0v3.0h-3.0zM268.0 87.8h3.0v3.0h-3.0zM223.8 90.4h3.0v3.0h-3.0zM273.2 90.4h3.0v3.0h-3.0zM278.4 93.0h3.0v3.0h-3.0zM330.4 121.6h3.0v3.0h-3.0zM364.2 145.0h3.0v3.0h-3.0zM369.4 152.8h3.0v3.0h-3.0zM377.2 168.4h3.0v3.0h-3.0zM385.0 176.2h3.0v3.0h-3.0zM403.2 186.6h3.0v3.0h-3.0zM418.8 197.0h3.0v3.0h-3.0zM426.6 204.8h3.0v3.0h-3.0zM434.4 220.4h3.0v3.0h-3.0z"/>
<path fill="rgb(176,176,176)" d="M200.4 56.6h3.0v3.0h-3.0zM229.0 61.8h3.0v3.0h-3.0zM213.4 74.8h3.0v3.0h-3.0zM247.2 74.8h3.0v3.0h-3.0zM205.6 82.6h3.0v3.0h-3.0zM317.4 113.8h3.0v3.0h-3.0zM387.6 178.8h3.0v3.0h-3.0zM392.8 181.4h3.0v3.0h-3.0zM398.0 184.0h3.0v3.0h-3.0zM411.0 191.8h3.0v3.0h-3.0zM424.0 202.2h3.0v3.0h-3.0z"/>
<path fill="rgb(177,177,177)" d="M205.6 74.8h3.0v3.0h-3.0zM218.6 77.4h3.0v3.0h-3.0zM257.6 82.6h3.0v3.0h-3.0zM226.4 87.8h3.0v3.0h-3.0zM333.0 124.2h3.0v3.0h-3.0zM340.8 129.4h3.0v3.0h-3.0zM346.0 132.0h3.0v3.0h-3.0zM351.2 134.6h3.0v3.0h-3.0zM372.0 160.6h3.0v3.0h-3.0zM421.4 199.6h3.0v3.0h-3.0z"/>
<path fill="rgb(178,178,178)" d="M216.0 59.2h3.0v3.0h-3.0zM242.0 72.2h3.0v3.0h-3.0zM226.4 85.2h3.0v3.0h-3.0zM213.4 90.4h3.0v3.0h-3.0zM312.2 111.2h3.0v3.0h-3.0zM325.2 119.0h3.0v3.0h-3.0zM353.8 137.2h3.0v3.0h-3.0zM356.4 139.8h3.0v3.0h-3.0zM374.6 165.8h3.0v3.0h-3.0zM405.8 189.2h3.0v3.0h-3.0zM429.2 210.0h3.0v3.0h-3.0zM431.8 215.2h3.0v3.0h-3.0zM481.2 251.6h3.0v3.0h-3.0z"/>
<path fill="rgb(179,179,179)" d="M216.0 74.8h3.0v3.0h-3.0zM203.0 77.4h3.0v3.0h-3.0zM249.8 77.4h3.0v3.0h-3.0zM226.4 90.4h3.0v3.0h-3.0zM270.6 90.4h3.0v3.0h-3.0zM221.2 93.0h3.0v3.0h-3.0zM275.8 93.0h3.0v3.0h-3.0zM281.0 95.6h3.0v3.0h-3.0zM286.2 98.2h3.0v3.0h-3.0zM291.4 100.8h3.0v3.0h-3.0zM296.6 103.4h3.0v3.0h-3.0zM301.8 106.0h3.0v3.0h-3.0zM307.0 108.6h3.0v3.0h-3.0zM320.0 116.4h3.0v3.0h-3.0zM359.0 142.4h3.0v3.0h-3.0zM366.8 150.2h3.0v3.0h-3.0zM369.4 155.4h3.0v3.0h-3.0zM413.6 194.4h3.0v3.0h-3.0z"/>
<path fill="rgb(180,180,180)" d="M203.0 80.0h3.0v3.0h-3.0zM223.8 80.0h3.0v3.0h-3.0zM265.4 87.8h3.0v3.0h-3.0zM218.6 93.0h3.0v3.0h-3.0zM223.8 93.0h3.0v3.0h-3.0zM335.6 126.8h3.0v3.0h-3.0zM390.2 181.4h3.0v3.0h-3.0zM395.4 184.0h3.0v3.0h-3.0zM400.6 186.6h3.0v3.0h-3.0z"/>
<path fill="rgb(181,181,181)" d="M208.2 72.2h5.6v3.0h-5.6zM203.0 74.8h3.0v3.0h-3.0zM221.2 77.4h3.0v3.0h-3.0zM226.4 82.6h3.0v3.0h-3.0zM205.6 85.2h3.0v3.0h-3.0zM260.2 85.2h3.0v3.0h-3.0zM208.2 87.8h3.0v3.0h-3.0zM314.8 113.8h3.0v3.0h-3.0zM327.8 121.6h3.0v3.0h-3.0zM343.4 132.0h3.0v3.0h-3.0zM348.6 134.6h3.0v3.0h-3.0zM364.2 147.6h3.0v3.0h-3.0zM372.0 163.2h3.0v3.0h-3.0zM377.2 171.0h3.0v3.0h-3.0zM379.8 173.6h3.0v3.0h-3.0zM408.4 191.8h3.0v3.0h-3.0zM416.2 197.0h3.0v3.0h-3.0zM426.6 207.4h3.0v3.0h-3.0zM431.8 217.8h3.0v3.0h-3.0z"/>
<path fill="rgb(182,182,182)" d="M213.4 59.2h3.0v3.0h-3.0zM205.6 72.2h3.0v3.0h-3.0zM244.6 74.8h3.0v3.0h-3.0zM252.4 80.0h3.0v3.0h-3.0zM226.4 93.0h3.0v3.0h-3.0zM338.2 129.4h3.0v3.0h-3.0zM361.6 145.0h3.0v3.0h-3.0zM382.4 176.2h3.0v3.0h-3.0zM424.0 204.8h3.0v3.0h-3.0z"/>
<path fill="rgb(183,183,183)" d="M231.6 64.4h3.0v3.0h-3.0zM213.4 72.2h3.0v3.0h-3.0zM218.6 74.8h3.0v3.0h-3.0zM203.0 82.6h3.0v3.0h-3.0zM229.0 87.8h3.0v3.0h-3.0zM210.8 90.4h3.0v3.0h-3.0zM229.0 90.4h3.0v3.0h-3.0zM216.0 93.0h3.0v3.0h-3.0zM278.4 95.6h3.0v3.0h-3.0zM283.6 98.2h3.0v3.0h-3.0zM288.8 100.8h3.0v3.0h-3.0zM294.0 103.4h3.0v3.0h-3.0zM299.2 106.0h3.0v3.0h-3.0zM304.4 108.6h3.0v3.0h-3.0zM309.6 111.2h3.0v3.0h-3.0zM322.6 119.0h3.0v3.0h-3.0zM330.4 124.2h3.0v3.0h-3.0zM369.4 158.0h3.0v3.0h-3.0zM374.6 168.4h3.0v3.0h-3.0zM385.0 178.8h3.0v3.0h-3.0zM403.2 189.2h3.0v3.0h-3.0zM418.8 199.6h3.0v3.0h-3.0zM421.4 202.2h3.0v3.0h-3.0zM429.2 212.6h3.0v3.0h-3.0z"/>
<path fill="rgb(184,184,184)" d="M226.4 61.8h3.0v3.0h-3.0zM203.0 72.2h3.0v3.0h-3.0zM255.0 82.6h3.0v3.0h-3.0zM229.0 85.2h3.0v3.0h-3.0zM268.0 90.4h3.0v3.0h-3.0zM273.2 93.0h3.0v3.0h-3.0zM317.4 116.4h3.0v3.0h-3.0zM366.8 152.8h3.0v3.0h-3.0zM392.8 184.0h3.0v3.0h-3.0zM398.0 186.6h3.0v3.0h-3.0zM411.0 194.4h3.0v3.0h-3.0zM431.8 220.4h3.0v3.0h-3.0z"/>
<path fill="rgb(185,185,185)" d="M210.8 59.2h3.0v3.0h-3.0zM239.4 72.2h3.0v3.0h-3.0zM200.4 74.8h3.0v3.0h-3.0zM200.4 77.4h3.0v3.0h-3.0zM226.4 80.0h3.0v3.0h-3.0zM262.8 87.8h3.0v3.0h-3.0zM333.0 126.8h3.0v3.0h-3.0zM351.2 137.2h3.0v3.0h-3.0zM353.8 139.8h3.0v3.0h-3.0zM356.4 142.4h3.0v3.0h-3.0zM387.6 181.4h3.0v3.0h-3.0z"/>
<path fill="rgb(186,186,186)" d="M205.6 59.2h5.6v3.0h-5.6zM234.2 67.0h3.0v3.0h-3.0zM236.8 69.6h3.0v3.0h-3.0zM216.0 72.2h3.0v3.0h-3.0zM223.8 77.4h3.0v3.0h-3.0zM247.2 77.4h3.0v3.0h-3.0zM229.0 93.0h3.0v3.0h-3.0zM312.2 113.8h3.0v3.0h-3.0zM325.2 121.6h3.0v3.0h-3.0zM340.8 132.0h3.0v3.0h-3.0zM346.0 134.6h3.0v3.0h-3.0zM369.4 160.6h3.0v3.0h-3.0zM372.0 165.8h3.0v3.0h-3.0zM405.8 191.8h3.0v3.0h-3.0z"/>
<path fill="rgb(187,187,187)" d="M203.0 59.2h3.0v3.0h-3.0zM221.2 61.8h5.6v3.0h-5.6zM205.6 69.6h5.6v3.0h-5.6zM200.4 72.2h3.0v3.0h-3.0zM200.4 80.0h3.0v3.0h-3.0zM249.8 80.0h3.0v3.0h-3.0zM229.0 82.6h3.0v3.0h-3.0zM257.6 85.2h3.0v3.0h-3.0zM213.4 93.0h3.0v3.0h-3.0zM221.2 95.6h5.6v3.0h-5.6zM275.8 95.6h3.0v3.0h-3.0zM281.0 98.2h3.0v3.0h-3.0zM286.2 100.8h3.0v3.0h-3.0zM291.4 103.4h3.0v3.0h-3.0zM296.6 106.0h3.0v3.0h-3.0zM301.8 108.6h3.0v3.0h-3.0zM307.0 111.2h3.0v3.0h-3.0zM359.0 145.0h3.0v3.0h-3.0zM364.2 150.2h3.0v3.0h-3.0zM413.6 197.0h3.0v3.0h-3.0zM426.6 210.0h3.0v3.0h-3.0zM429.2 215.2h3.0v3.0h-3.0z"/>
<path fill="rgb(188,188,188)" d="M200.4 59.2h3.0v3.0h-3.0zM216.0 61.8h5.6v3.0h-5.6zM229.0 64.4h3.0v3.0h-3.0zM203.0 69.6h3.0v3.0h-3.0zM210.8 69.6h3.0v3.0h-3.0zM221.2 74.8h3.0v3.0h-3.0zM242.0 74.8h3.0v3.0h-3.0zM244.6 77.4h3.0v3.0h-3.0zM252.4 82.6h3.0v3.0h-3.0zM203.0 85.2h3.0v3.0h-3.0zM205.6 87.8h3.0v3.0h-3.0zM231.6 87.8h3.0v3.0h-3.0zM260.2 87.8h3.0v3.0h-3.0zM231.6 90.4h3.0v3.0h-3.0zM265.4 90.4h3.0v3.0h-3.0zM270.6 93.0h3.0v3.0h-3.0zM226.4 95.6h3.0v3.0h-3.0zM320.0 119.0h3.0v3.0h-3.0zM335.6 129.4h3.0v3.0h-3.0zM366.8 155.4h3.0v3.0h-3.0zM377.2 173.6h3.0v3.0h-3.0zM379.8 176.2h3.0v3.0h-3.0zM400.6 189.2h3.0v3.0h-3.0z"/>
<path fill="rgb(189,189,189)" d="M208.2 61.8h8.2v3.0h-8.2zM231.6 67.0h3.0v3.0h-3.0zM213.4 69.6h3.0v3.0h-3.0zM234.2 69.6h3.0v3.0h-3.0zM218.6 72.2h3.0v3.0h-3.0zM236.8 72.2h3.0v3.0h-3.0zM239.4 74.8h3.0v3.0h-3.0zM247.2 80.0h3.0v3.0h-3.0zM231.6 85.2h3.0v3.0h-3.0zM255.0 85.2h3.0v3.0h-3.0zM208.2 90.4h3.0v3.0h-3.0zM262.8 90.4h3.0v3.0h-3.0zM231.6 93.0h3.0v3.0h-3.0zM268.0 93.0h3.0v3.0h-3.0zM218.6 95.6h3.0v3.0h-3.0zM273.2 95.6h3.0v3.0h-3.0zM278.4 98.2h3.0v3.0h-3.0zM314.8 116.4h3.0v3.0h-3.0zM327.8 124.2h3.0v3.0h-3.0zM361.6 147.6h3.0v3.0h-3.0zM374.6 171.0h3.0v3.0h-3.0zM382.4 178.8h3.0v3.0h-3.0zM390.2 184.0h3.0v3.0h-3.0zM395.4 186.6h3.0v3.0h-3.0zM416.2 199.6h3.0v3.0h-3.0zM424.0 207.4h3.0v3.0h-3.0z"/>
<path fill="rgb(190,190,190)" d="M205.6 61.8h3.0v3.0h-3.0zM226.4 64.4h3.0v3.0h-3.0zM200.4 69.6h3.0v3.0h-3.0zM236.8 74.8h3.0v3.0h-3.0zM226.4 77.4h3.0v3.0h-3.0zM242.0 77.4h3.0v3.0h-3.0zM229.0 80.0h3.0v3.0h-3.0zM244.6 80.0h3.0v3.0h-3.0zM200.4 82.6h3.0v3.0h-3.0zM231.6 82.6h3.0v3.0h-3.0zM249.8 82.6h3.0v3.0h-3.0zM252.4 85.2h3.0v3.0h-3.0zM257.6 87.8h3.0v3.0h-3.0zM229.0 95.6h3.0v3.0h-3.0zM283.6 100.8h3.0v3.0h-3.0zM288.8 103.4h3.0v3.0h-3.0zM294.0 106.0h3.0v3.0h-3.0zM299.2 108.6h3.0v3.0h-3.0zM309.6 113.8h3.0v3.0h-3.0zM322.6 121.6h3.0v3.0h-3.0zM338.2 132.0h3.0v3.0h-3.0zM343.4 134.6h3.0v3.0h-3.0zM348.6 137.2h3.0v3.0h-3.0zM408.4 194.4h3.0v3.0h-3.0z"/>
<path fill="rgb(191,191,191)" d="M203.0 61.8h3.0v3.0h-3.0zM213.4 64.4h13.4v3.0h-13.4zM229.0 67.0h3.0v3.0h-3.0zM231.6 69.6h3.0v3.0h-3.0zM234.2 72.2h3.0v3.0h-3.0zM223.8 74.8h3.0v3.0h-3.0zM239.4 77.4h3.0v3.0h-3.0zM231.6 80.0h3.0v3.0h-3.0zM242.0 80.0h3.0v3.0h-3.0zM247.2 82.6h3.0v3.0h-3.0zM255.0 87.8h3.0v3.0h-3.0zM260.2 90.4h3.0v3.0h-3.0zM265.4 93.0h3.0v3.0h-3.0zM270.6 95.6h3.0v3.0h-3.0zM275.8 98.2h3.0v3.0h-3.0zM304.4 111.2h3.0v3.0h-3.0zM330.4 126.8h3.0v3.0h-3.0zM351.2 139.8h3.0v3.0h-3.0zM353.8 142.4h3.0v3.0h-3.0zM369.4 163.2h3.0v3.0h-3.0zM385.0 181.4h3.0v3.0h-3.0zM418.8 202.2h3.0v3.0h-3.0zM421.4 204.8h3.0v3.0h-3.0z"/>
<path fill="rgb(192,192,192)" d="M208.2 64.4h5.6v3.0h-5.6zM203.0 67.0h8.2v3.0h-8.2zM216.0 69.6h3.0v3.0h-3.0zM234.2 74.8h3.0v3.0h-3.0zM229.0 77.4h10.8v3.0h-10.8zM234.2 80.0h3.0v3.0h-3.0zM239.4 80.0h3.0v3.0h-3.0zM234.2 82.6h3.0v3.0h-3.0zM244.6 82.6h3.0v3.0h-3.0zM234.2 85.2h3.0v3.0h-3.0zM249.8 85.2h3.0v3.0h-3.0zM234.2 87.8h3.0v3.0h-3.0zM234.2 90.4h3.0v3.0h-3.0zM257.6 90.4h3.0v3.0h-3.0zM210.8 93.0h3.0v3.0h-3.0zM262.8 93.0h3.0v3.0h-3.0zM216.0 95.6h3.0v3.0h-3.0zM231.6 95.6h3.0v3.0h-3.0zM281.0 100.8h3.0v3.0h-3.0zM286.2 103.4h3.0v3.0h-3.0zM317.4 119.0h3.0v3.0h-3.0zM364.2 152.8h3.0v3.0h-3.0zM366.8 158.0h3.0v3.0h-3.0zM372.0 168.4h3.0v3.0h-3.0zM403.2 191.8h3.0v3.0h-3.0zM429.2 217.8h3.0v3.0h-3.0z"/>
<path fill="rgb(193,193,193)" d="M200.4 61.8h3.0v3.0h-3.0zM205.6 64.4h3.0v3.0h-3.0zM200.4 67.0h3.0v3.0h-3.0zM210.8 67.0h8.2v3.0h-8.2zM226.4 67.0h3.0v3.0h-3.0zM229.0 69.6h3.0v3.0h-3.0zM221.2 72.2h3.0v3.0h-3.0zM231.6 72.2h3.0v3.0h-3.0zM231.6 74.8h3.0v3.0h-3.0zM236.8 80.0h3.0v3.0h-3.0zM236.8 82.6h8.2v3.0h-8.2zM247.2 85.2h3.0v3.0h-3.0zM252.4 87.8h3.0v3.0h-3.0zM234.2 93.0h3.0v3.0h-3.0zM268.0 95.6h3.0v3.0h-3.0zM273.2 98.2h3.0v3.0h-3.0zM278.4 100.8h3.0v3.0h-3.0zM291.4 106.0h3.0v3.0h-3.0zM312.2 116.4h3.0v3.0h-3.0zM325.2 124.2h3.0v3.0h-3.0zM333.0 129.4h3.0v3.0h-3.0zM356.4 145.0h3.0v3.0h-3.0zM426.6 212.6h3.0v3.0h-3.0z"/>
<path fill="rgb(194,194,194)" d="M203.0 64.4h3.0v3.0h-3.0zM218.6 67.0h8.2v3.0h-8.2zM218.6 69.6h3.0v3.0h-3.0zM229.0 72.2h3.0v3.0h-3.0zM226.4 74.8h5.6v3.0h-5.6zM236.8 85.2h10.8v3.0h-10.8zM203.0 87.8h3.0v3.0h-3.0zM236.8 87.8h3.0v3.0h-3.0zM249.8 87.8h3.0v3.0h-3.0zM255.0 90.4h3.0v3.0h-3.0zM260.2 93.0h3.0v3.0h-3.0zM265.4 95.6h3.0v3.0h-3.0zM223.8 98.2h8.2v3.0h-8.2zM283.6 103.4h3.0v3.0h-3.0zM296.6 108.6h3.0v3.0h-3.0zM301.8 111.2h3.0v3.0h-3.0zM307.0 113.8h3.0v3.0h-3.0zM320.0 121.6h3.0v3.0h-3.0zM340.8 134.6h3.0v3.0h-3.0zM346.0 137.2h3.0v3.0h-3.0zM387.6 184.0h3.0v3.0h-3.0zM392.8 186.6h3.0v3.0h-3.0zM398.0 189.2h3.0v3.0h-3.0zM411.0 197.0h3.0v3.0h-3.0z"/>
<path fill="rgb(195,195,195)" d="M221.2 69.6h3.0v3.0h-3.0zM226.4 69.6h3.0v3.0h-3.0zM223.8 72.2h5.6v3.0h-5.6zM200.4 85.2h3.0v3.0h-3.0zM239.4 87.8h3.0v3.0h-3.0zM247.2 87.8h3.0v3.0h-3.0zM205.6 90.4h3.0v3.0h-3.0zM236.8 90.4h3.0v3.0h-3.0zM252.4 90.4h3.0v3.0h-3.0zM257.6 93.0h3.0v3.0h-3.0zM213.4 95.6h3.0v3.0h-3.0zM234.2 95.6h3.0v3.0h-3.0zM221.2 98.2h3.0v3.0h-3.0zM270.6 98.2h3.0v3.0h-3.0zM275.8 100.8h3.0v3.0h-3.0zM288.8 106.0h3.0v3.0h-3.0zM314.8 119.0h3.0v3.0h-3.0zM327.8 126.8h3.0v3.0h-3.0zM335.6 132.0h3.0v3.0h-3.0zM359.0 147.6h3.0v3.0h-3.0zM361.6 150.2h3.0v3.0h-3.0zM369.4 165.8h3.0v3.0h-3.0zM429.2 220.4h3.0v3.0h-3.0z"/>
<path fill="rgb(196,196,196)" d="M200.4 64.4h3.0v3.0h-3.0zM223.8 69.6h3.0v3.0h-3.0zM242.0 87.8h5.6v3.0h-5.6zM249.8 90.4h3.0v3.0h-3.0zM236.8 93.0h3.0v3.0h-3.0zM255.0 93.0h3.0v3.0h-3.0zM262.8 95.6h3.0v3.0h-3.0zM231.6 98.2h3.0v3.0h-3.0zM268.0 98.2h3.0v3.0h-3.0zM281.0 103.4h3.0v3.0h-3.0zM294.0 108.6h3.0v3.0h-3.0zM309.6 116.4h3.0v3.0h-3.0zM366.8 160.6h3.0v3.0h-3.0zM374.6 173.6h3.0v3.0h-3.0zM377.2 176.2h3.0v3.0h-3.0zM379.8 178.8h3.0v3.0h-3.0zM405.8 194.4h3.0v3.0h-3.0zM413.6 199.6h3.0v3.0h-3.0z"/>
<path fill="rgb(197,197,197)" d="M239.4 90.4h3.0v3.0h-3.0zM247.2 90.4h3.0v3.0h-3.0zM208.2 93.0h3.0v3.0h-3.0zM236.8 95.6h3.0v3.0h-3.0zM260.2 95.6h3.0v3.0h-3.0zM218.6 98.2h3.0v3.0h-3.0zM265.4 98.2h3.0v3.0h-3.0zM273.2 100.8h3.0v3.0h-3.0zM286.2 106.0h3.0v3.0h-3.0zM299.2 111.2h3.0v3.0h-3.0zM304.4 113.8h3.0v3.0h-3.0zM322.6 124.2h3.0v3.0h-3.0zM330.4 129.4h3.0v3.0h-3.0zM338.2 134.6h3.0v3.0h-3.0zM348.6 139.8h3.0v3.0h-3.0zM364.2 155.4h3.0v3.0h-3.0zM372.0 171.0h3.0v3.0h-3.0zM382.4 181.4h3.0v3.0h-3.0zM424.0 210.0h3.0v3.0h-3.0z"/>
<path fill="rgb(198,198,198)" d="M242.0 90.4h5.6v3.0h-5.6zM239.4 93.0h3.0v3.0h-3.0zM252.4 93.0h3.0v3.0h-3.0zM257.6 95.6h3.0v3.0h-3.0zM234.2 98.2h3.0v3.0h-3.0zM270.6 100.8h3.0v3.0h-3.0zM278.4 103.4h3.0v3.0h-3.0zM317.4 121.6h3.0v3.0h-3.0zM343.4 137.2h3.0v3.0h-3.0zM351.2 142.4h3.0v3.0h-3.0zM400.6 191.8h3.0v3.0h-3.0zM426.6 215.2h3.0v3.0h-3.0z"/>
<path fill="rgb(199,199,199)" d="M249.8 93.0h3.0v3.0h-3.0zM255.0 95.6h3.0v3.0h-3.0zM262.8 98.2h3.0v3.0h-3.0zM226.4 100.8h3.0v3.0h-3.0zM275.8 103.4h3.0v3.0h-3.0zM283.6 106.0h3.0v3.0h-3.0zM291.4 108.6h3.0v3.0h-3.0zM312.2 119.0h3.0v3.0h-3.0zM333.0 132.0h3.0v3.0h-3.0zM353.8 145.0h3.0v3.0h-3.0zM390.2 186.6h3.0v3.0h-3.0zM395.4 189.2h3.0v3.0h-3.0zM416.2 202.2h3.0v3.0h-3.0zM421.4 207.4h3.0v3.0h-3.0z"/>
<path fill="rgb(200,200,200)" d="M200.4 87.8h3.0v3.0h-3.0zM203.0 90.4h3.0v3.0h-3.0zM242.0 93.0h8.2v3.0h-8.2zM210.8 95.6h3.0v3.0h-3.0zM239.4 95.6h3.0v3.0h-3.0zM252.4 95.6h3.0v3.0h-3.0zM216.0 98.2h3.0v3.0h-3.0zM236.8 98.2h3.0v3.0h-3.0zM260.2 98.2h3.0v3.0h-3.0zM223.8 100.8h3.0v3.0h-3.0zM229.0 100.8h5.6v3.0h-5.6zM268.0 100.8h3.0v3.0h-3.0zM288.8 108.6h3.0v3.0h-3.0zM296.6 111.2h3.0v3.0h-3.0zM301.8 113.8h3.0v3.0h-3.0zM307.0 116.4h3.0v3.0h-3.0zM325.2 126.8h3.0v3.0h-3.0zM366.8 163.2h3.0v3.0h-3.0zM369.4 168.4h3.0v3.0h-3.0zM385.0 184.0h3.0v3.0h-3.0zM408.4 197.0h3.0v3.0h-3.0zM418.8 204.8h3.0v3.0h-3.0z"/>
<path fill="rgb(201,201,201)" d="M242.0 95.6h3.0v3.0h-3.0zM249.8 95.6h3.0v3.0h-3.0zM239.4 98.2h3.0v3.0h-3.0zM257.6 98.2h3.0v3.0h-3.0zM234.2 100.8h3.0v3.0h-3.0zM265.4 100.8h3.0v3.0h-3.0zM273.2 103.4h3.0v3.0h-3.0zM281.0 106.0h3.0v3.0h-3.0zM320.0 124.2h3.0v3.0h-3.0zM340.8 137.2h3.0v3.0h-3.0zM356.4 147.6h3.0v3.0h-3.0zM361.6 152.8h3.0v3.0h-3.0zM364.2 158.0h3.0v3.0h-3.0z"/>
<path fill="rgb(202,202,202)" d="M205.6 93.0h3.0v3.0h-3.0zM244.6 95.6h5.6v3.0h-5.6zM255.0 98.2h3.0v3.0h-3.0zM221.2 100.8h3.0v3.0h-3.0zM236.8 100.8h3.0v3.0h-3.0zM262.8 100.8h3.0v3.0h-3.0zM270.6 103.4h3.0v3.0h-3.0zM278.4 106.0h3.0v3.0h-3.0zM286.2 108.6h3.0v3.0h-3.0zM294.0 111.2h3.0v3.0h-3.0zM314.8 121.6h3.0v3.0h-3.0zM327.8 129.4h3.0v3.0h-3.0zM335.6 134.6h3.0v3.0h-3.0zM346.0 139.8h3.0v3.0h-3.0zM403.2 194.4h3.0v3.0h-3.0z"/>
<path fill="rgb(203,203,203)" d="M213.4 98.2h3.0v3.0h-3.0zM242.0 98.2h5.6v3.0h-5.6zM252.4 98.2h3.0v3.0h-3.0zM260.2 100.8h3.0v3.0h-3.0zM268.0 103.4h3.0v3.0h-3.0zM275.8 106.0h3.0v3.0h-3.0zM299.2 113.8h3.0v3.0h-3.0zM304.4 116.4h3.0v3.0h-3.0zM309.6 119.0h3.0v3.0h-3.0zM359.0 150.2h3.0v3.0h-3.0zM374.6 176.2h3.0v3.0h-3.0zM377.2 178.8h3.0v3.0h-3.0zM387.6 186.6h3.0v3.0h-3.0zM411.0 199.6h3.0v3.0h-3.0z"/>
<path fill="rgb(204,204,204)" d="M208.2 95.6h3.0v3.0h-3.0zM247.2 98.2h5.6v3.0h-5.6zM218.6 100.8h3.0v3.0h-3.0zM239.4 100.8h5.6v3.0h-5.6zM255.0 100.8h5.6v3.0h-5.6zM229.0 103.4h5.6v3.0h-5.6zM265.4 103.4h3.0v3.0h-3.0zM273.2 106.0h3.0v3.0h-3.0zM283.6 108.6h3.0v3.0h-3.0zM291.4 111.2h3.0v3.0h-3.0zM317.4 124.2h3.0v3.0h-3.0zM322.6 126.8h3.0v3.0h-3.0zM330.4 132.0h3.0v3.0h-3.0zM348.6 142.4h3.0v3.0h-3.0zM351.2 145.0h3.0v3.0h-3.0zM366.8 165.8h3.0v3.0h-3.0zM372.0 173.6h3.0v3.0h-3.0zM379.8 181.4h3.0v3.0h-3.0zM392.8 189.2h3.0v3.0h-3.0zM398.0 191.8h3.0v3.0h-3.0zM424.0 212.6h3.0v3.0h-3.0zM426.6 217.8h3.0v3.0h-3.0z"/>
<path fill="rgb(205,205,205)" d="M244.6 100.8h10.8v3.0h-10.8zM226.4 103.4h3.0v3.0h-3.0zM234.2 103.4h5.6v3.0h-5.6zM260.2 103.4h5.6v3.0h-5.6zM268.0 106.0h5.6v3.0h-5.6zM278.4 108.6h5.6v3.0h-5.6zM286.2 111.2h5.6v3.0h-5.6zM296.6 113.8h3.0v3.0h-3.0zM301.8 116.4h3.0v3.0h-3.0zM307.0 119.0h3.0v3.0h-3.0zM312.2 121.6h3.0v3.0h-3.0zM325.2 129.4h3.0v3.0h-3.0zM333.0 134.6h3.0v3.0h-3.0zM338.2 137.2h3.0v3.0h-3.0zM343.4 139.8h3.0v3.0h-3.0zM353.8 147.6h3.0v3.0h-3.0zM364.2 160.6h3.0v3.0h-3.0zM369.4 171.0h3.0v3.0h-3.0zM382.4 184.0h3.0v3.0h-3.0z"/>
<path fill="rgb(206,206,206)" d="M210.8 98.2h3.0v3.0h-3.0zM216.0 100.8h3.0v3.0h-3.0zM223.8 103.4h3.0v3.0h-3.0zM239.4 103.4h5.6v3.0h-5.6zM252.4 103.4h8.2v3.0h-8.2zM262.8 106.0h5.6v3.0h-5.6zM273.2 108.6h5.6v3.0h-5.6zM283.6 111.2h3.0v3.0h-3.0zM291.4 113.8h5.6v3.0h-5.6zM299.2 116.4h3.0v3.0h-3.0zM304.4 119.0h3.0v3.0h-3.0zM309.6 121.6h3.0v3.0h-3.0zM314.8 124.2h3.0v3.0h-3.0zM320.0 126.8h3.0v3.0h-3.0zM327.8 132.0h3.0v3.0h-3.0zM361.6 155.4h3.0v3.0h-3.0zM405.8 197.0h3.0v3.0h-3.0zM413.6 202.2h3.0v3.0h-3.0z"/>
<path fill="rgb(207,207,207)" d="M205.6 95.6h3.0v3.0h-3.0zM221.2 103.4h3.0v3.0h-3.0zM244.6 103.4h8.2v3.0h-8.2zM257.6 106.0h5.6v3.0h-5.6zM268.0 108.6h5.6v3.0h-5.6zM278.4 111.2h5.6v3.0h-5.6zM288.8 113.8h3.0v3.0h-3.0zM296.6 116.4h3.0v3.0h-3.0zM301.8 119.0h3.0v3.0h-3.0zM307.0 121.6h3.0v3.0h-3.0zM312.2 124.2h3.0v3.0h-3.0zM317.4 126.8h3.0v3.0h-3.0zM322.6 129.4h3.0v3.0h-3.0zM330.4 134.6h3.0v3.0h-3.0zM335.6 137.2h3.0v3.0h-3.0zM340.8 139.8h3.0v3.0h-3.0zM346.0 142.4h3.0v3.0h-3.0zM356.4 150.2h3.0v3.0h-3.0zM359.0 152.8h3.0v3.0h-3.0zM400.6 194.4h3.0v3.0h-3.0zM421.4 210.0h3.0v3.0h-3.0zM426.6 220.4h3.0v3.0h-3.0z"/>
<path fill="rgb(208,208,208)" d="M213.4 100.8h3.0v3.0h-3.0zM229.0 106.0h29.0v3.0h-29.0zM260.2 108.6h8.2v3.0h-8.2zM273.2 111.2h5.6v3.0h-5.6zM283.6 113.8h5.6v3.0h-5.6zM294.0 116.4h3.0v3.0h-3.0zM299.2 119.0h3.0v3.0h-3.0zM325.2 132.0h3.0v3.0h-3.0zM348.6 145.0h3.0v3.0h-3.0zM364.2 163.2h3.0v3.0h-3.0zM366.8 168.4h3.0v3.0h-3.0zM385.0 186.6h3.0v3.0h-3.0zM390.2 189.2h3.0v3.0h-3.0zM395.4 191.8h3.0v3.0h-3.0zM416.2 204.8h3.0v3.0h-3.0zM418.8 207.4h3.0v3.0h-3.0z"/>
<path fill="rgb(209,209,209)" d="M208.2 98.2h3.0v3.0h-3.0zM218.6 103.4h3.0v3.0h-3.0zM226.4 106.0h3.0v3.0h-3.0zM252.4 108.6h8.2v3.0h-8.2zM265.4 111.2h8.2v3.0h-8.2zM278.4 113.8h5.6v3.0h-5.6zM288.8 116.4h5.6v3.0h-5.6zM296.6 119.0h3.0v3.0h-3.0zM304.4 121.6h3.0v3.0h-3.0zM309.6 124.2h3.0v3.0h-3.0zM314.8 126.8h3.0v3.0h-3.0zM320.0 129.4h3.0v3.0h-3.0zM333.0 137.2h3.0v3.0h-3.0zM338.2 139.8h3.0v3.0h-3.0zM351.2 147.6h3.0v3.0h-3.0zM361.6 158.0h3.0v3.0h-3.0zM372.0 176.2h3.0v3.0h-3.0zM374.6 178.8h3.0v3.0h-3.0zM408.4 199.6h3.0v3.0h-3.0zM424.0 215.2h3.0v3.0h-3.0z"/>
<path fill="rgb(210,210,210)" d="M223.8 106.0h3.0v3.0h-3.0zM239.4 108.6h13.4v3.0h-13.4zM257.6 111.2h8.2v3.0h-8.2zM270.6 113.8h8.2v3.0h-8.2zM283.6 116.4h5.6v3.0h-5.6zM294.0 119.0h3.0v3.0h-3.0zM301.8 121.6h3.0v3.0h-3.0zM307.0 124.2h3.0v3.0h-3.0zM312.2 126.8h3.0v3.0h-3.0zM322.6 132.0h3.0v3.0h-3.0zM327.8 134.6h3.0v3.0h-3.0zM343.4 142.4h3.0v3.0h-3.0zM369.4 173.6h3.0v3.0h-3.0zM377.2 181.4h3.0v3.0h-3.0z"/>
<path fill="rgb(211,211,211)" d="M210.8 100.8h3.0v3.0h-3.0zM216.0 103.4h3.0v3.0h-3.0zM221.2 106.0h3.0v3.0h-3.0zM231.6 108.6h8.2v3.0h-8.2zM249.8 111.2h8.2v3.0h-8.2zM265.4 113.8h5.6v3.0h-5.6zM278.4 116.4h5.6v3.0h-5.6zM291.4 119.0h3.0v3.0h-3.0zM299.2 121.6h3.0v3.0h-3.0zM304.4 124.2h3.0v3.0h-3.0zM317.4 129.4h3.0v3.0h-3.0zM330.4 137.2h3.0v3.0h-3.0zM335.6 139.8h3.0v3.0h-3.0zM340.8 142.4h3.0v3.0h-3.0zM353.8 150.2h3.0v3.0h-3.0zM364.2 165.8h3.0v3.0h-3.0zM379.8 184.0h3.0v3.0h-3.0zM403.2 197.0h3.0v3.0h-3.0z"/>
<path fill="rgb(212,212,212)" d="M226.4 108.6h5.6v3.0h-5.6zM239.4 111.2h10.8v3.0h-10.8zM255.0 113.8h10.8v3.0h-10.8zM270.6 116.4h8.2v3.0h-8.2zM286.2 119.0h5.6v3.0h-5.6zM296.6 121.6h3.0v3.0h-3.0zM301.8 124.2h3.0v3.0h-3.0zM309.6 126.8h3.0v3.0h-3.0zM314.8 129.4h3.0v3.0h-3.0zM320.0 132.0h3.0v3.0h-3.0zM325.2 134.6h3.0v3.0h-3.0zM346.0 145.0h3.0v3.0h-3.0zM348.6 147.6h3.0v3.0h-3.0zM359.0 155.4h3.0v3.0h-3.0zM361.6 160.6h3.0v3.0h-3.0zM366.8 171.0h3.0v3.0h-3.0zM387.6 189.2h3.0v3.0h-3.0zM392.8 191.8h3.0v3.0h-3.0zM398.0 194.4h3.0v3.0h-3.0zM411.0 202.2h3.0v3.0h-3.0z"/>
<path fill="rgb(213,213,213)" d="M213.4 103.4h3.0v3.0h-3.0zM218.6 106.0h3.0v3.0h-3.0zM223.8 108.6h3.0v3.0h-3.0zM234.2 111.2h5.6v3.0h-5.6zM244.6 113.8h10.8v3.0h-10.8zM262.8 116.4h8.2v3.0h-8.2zM278.4 119.0h8.2v3.0h-8.2zM291.4 121.6h5.6v3.0h-5.6zM299.2 124.2h3.0v3.0h-3.0zM307.0 126.8h3.0v3.0h-3.0zM312.2 129.4h3.0v3.0h-3.0zM327.8 137.2h3.0v3.0h-3.0zM333.0 139.8h3.0v3.0h-3.0zM338.2 142.4h3.0v3.0h-3.0zM356.4 152.8h3.0v3.0h-3.0zM382.4 186.6h3.0v3.0h-3.0z"/>
<path fill="rgb(214,214,214)" d="M216.0 106.0h3.0v3.0h-3.0zM221.2 108.6h3.0v3.0h-3.0zM226.4 111.2h8.2v3.0h-8.2zM239.4 113.8h5.6v3.0h-5.6zM249.8 116.4h13.4v3.0h-13.4zM268.0 119.0h10.8v3.0h-10.8zM286.2 121.6h5.6v3.0h-5.6zM296.6 124.2h3.0v3.0h-3.0zM304.4 126.8h3.0v3.0h-3.0zM309.6 129.4h3.0v3.0h-3.0zM317.4 132.0h3.0v3.0h-3.0zM322.6 134.6h3.0v3.0h-3.0zM343.4 145.0h3.0v3.0h-3.0zM351.2 150.2h3.0v3.0h-3.0zM364.2 168.4h3.0v3.0h-3.0zM413.6 204.8h3.0v3.0h-3.0zM421.4 212.6h3.0v3.0h-3.0zM424.0 217.8h3.0v3.0h-3.0z"/>
<path fill="rgb(215,215,215)" d="M223.8 111.2h3.0v3.0h-3.0zM234.2 113.8h5.6v3.0h-5.6zM242.0 116.4h8.2v3.0h-8.2zM257.6 119.0h10.8v3.0h-10.8zM278.4 121.6h8.2v3.0h-8.2zM294.0 124.2h3.0v3.0h-3.0zM301.8 126.8h3.0v3.0h-3.0zM314.8 132.0h3.0v3.0h-3.0zM325.2 137.2h3.0v3.0h-3.0zM330.4 139.8h3.0v3.0h-3.0zM335.6 142.4h3.0v3.0h-3.0zM361.6 163.2h3.0v3.0h-3.0zM369.4 176.2h3.0v3.0h-3.0zM372.0 178.8h3.0v3.0h-3.0zM374.6 181.4h3.0v3.0h-3.0zM405.8 199.6h3.0v3.0h-3.0zM416.2 207.4h3.0v3.0h-3.0zM418.8 210.0h3.0v3.0h-3.0z"/>
<path fill="rgb(216,216,216)" d="M231.6 113.8h3.0v3.0h-3.0zM236.8 116.4h5.6v3.0h-5.6zM247.2 119.0h10.8v3.0h-10.8zM268.0 121.6h10.8v3.0h-10.8zM288.8 124.2h5.6v3.0h-5.6zM299.2 126.8h3.0v3.0h-3.0zM307.0 129.4h3.0v3.0h-3.0zM312.2 132.0h3.0v3.0h-3.0zM320.0 134.6h3.0v3.0h-3.0zM340.8 145.0h3.0v3.0h-3.0zM346.0 147.6h3.0v3.0h-3.0zM353.8 152.8h3.0v3.0h-3.0zM359.0 158.0h3.0v3.0h-3.0zM366.8 173.6h3.0v3.0h-3.0zM377.2 184.0h3.0v3.0h-3.0zM385.0 189.2h3.0v3.0h-3.0zM390.2 191.8h3.0v3.0h-3.0zM400.6 197.0h3.0v3.0h-3.0z"/>
<path fill="rgb(217,217,217)" d="M234.2 116.4h3.0v3.0h-3.0zM242.0 119.0h5.6v3.0h-5.6zM252.4 121.6h16.0v3.0h-16.0zM281.0 124.2h8.2v3.0h-8.2zM294.0 126.8h5.6v3.0h-5.6zM304.4 129.4h3.0v3.0h-3.0zM309.6 132.0h3.0v3.0h-3.0zM317.4 134.6h3.0v3.0h-3.0zM322.6 137.2h3.0v3.0h-3.0zM327.8 139.8h3.0v3.0h-3.0zM333.0 142.4h3.0v3.0h-3.0zM338.2 145.0h3.0v3.0h-3.0zM348.6 150.2h3.0v3.0h-3.0zM356.4 155.4h3.0v3.0h-3.0zM395.4 194.4h3.0v3.0h-3.0z"/>
<path fill="rgb(218,218,218)" d="M242.0 121.6h10.8v3.0h-10.8zM265.4 124.2h16.0v3.0h-16.0zM291.4 126.8h3.0v3.0h-3.0zM301.8 129.4h3.0v3.0h-3.0zM307.0 132.0h3.0v3.0h-3.0zM314.8 134.6h3.0v3.0h-3.0zM330.4 142.4h3.0v3.0h-3.0zM361.6 165.8h3.0v3.0h-3.0zM379.8 186.6h3.0v3.0h-3.0zM408.4 202.2h3.0v3.0h-3.0zM424.0 220.4h3.0v3.0h-3.0z"/>
<path fill="rgb(219,219,219)" d="M247.2 124.2h18.6v3.0h-18.6zM283.6 126.8h8.2v3.0h-8.2zM296.6 129.4h5.6v3.0h-5.6zM304.4 132.0h3.0v3.0h-3.0zM312.2 134.6h3.0v3.0h-3.0zM320.0 137.2h3.0v3.0h-3.0zM325.2 139.8h3.0v3.0h-3.0zM335.6 145.0h3.0v3.0h-3.0zM351.2 152.8h3.0v3.0h-3.0zM359.0 160.6h3.0v3.0h-3.0zM364.2 171.0h3.0v3.0h-3.0zM421.4 215.2h3.0v3.0h-3.0z"/>
<path fill="rgb(220,220,220)" d="M262.8 126.8h21.2v3.0h-21.2zM291.4 129.4h5.6v3.0h-5.6zM301.8 132.0h3.0v3.0h-3.0zM309.6 134.6h3.0v3.0h-3.0zM317.4 137.2h3.0v3.0h-3.0zM327.8 142.4h3.0v3.0h-3.0zM343.4 147.6h3.0v3.0h-3.0zM346.0 150.2h3.0v3.0h-3.0zM369.4 178.8h3.0v3.0h-3.0zM382.4 189.2h3.0v3.0h-3.0zM387.6 191.8h3.0v3.0h-3.0zM403.2 199.6h3.0v3.0h-3.0zM411.0 204.8h3.0v3.0h-3.0z"/>
<path fill="rgb(221,221,221)" d="M249.8 126.8h13.4v3.0h-13.4zM286.2 129.4h5.6v3.0h-5.6zM299.2 132.0h3.0v3.0h-3.0zM307.0 134.6h3.0v3.0h-3.0zM322.6 139.8h3.0v3.0h-3.0zM333.0 145.0h3.0v3.0h-3.0zM340.8 147.6h3.0v3.0h-3.0zM359.0 163.2h3.0v3.0h-3.0zM361.6 168.4h3.0v3.0h-3.0zM366.8 176.2h3.0v3.0h-3.0zM372.0 181.4h3.0v3.0h-3.0zM374.6 184.0h3.0v3.0h-3.0zM392.8 194.4h3.0v3.0h-3.0zM398.0 197.0h3.0v3.0h-3.0z"/>
<path fill="rgb(222,222,222)" d="M265.4 129.4h21.2v3.0h-21.2zM296.6 132.0h3.0v3.0h-3.0zM304.4 134.6h3.0v3.0h-3.0zM314.8 137.2h3.0v3.0h-3.0zM320.0 139.8h3.0v3.0h-3.0zM325.2 142.4h3.0v3.0h-3.0zM330.4 145.0h3.0v3.0h-3.0zM338.2 147.6h3.0v3.0h-3.0zM348.6 152.8h3.0v3.0h-3.0zM353.8 155.4h3.0v3.0h-3.0zM356.4 158.0h3.0v3.0h-3.0zM364.2 173.6h3.0v3.0h-3.0zM377.2 186.6h3.0v3.0h-3.0zM413.6 207.4h3.0v3.0h-3.0zM416.2 210.0h3.0v3.0h-3.0zM418.8 212.6h3.0v3.0h-3.0z"/>
<path fill="rgb(223,223,223)" d="M249.8 129.4h16.0v3.0h-16.0zM291.4 132.0h5.6v3.0h-5.6zM301.8 134.6h3.0v3.0h-3.0zM312.2 137.2h3.0v3.0h-3.0zM335.6 147.6h3.0v3.0h-3.0zM343.4 150.2h3.0v3.0h-3.0zM359.0 165.8h3.0v3.0h-3.0zM379.8 189.2h3.0v3.0h-3.0zM385.0 191.8h3.0v3.0h-3.0zM390.2 194.4h3.0v3.0h-3.0zM400.6 199.6h3.0v3.0h-3.0zM405.8 202.2h3.0v3.0h-3.0zM421.4 217.8h3.0v3.0h-3.0z"/>
<path fill="rgb(224,224,224)" d="M286.2 132.0h5.6v3.0h-5.6zM299.2 134.6h3.0v3.0h-3.0zM309.6 137.2h3.0v3.0h-3.0zM317.4 139.8h3.0v3.0h-3.0zM322.6 142.4h3.0v3.0h-3.0zM327.8 145.0h3.0v3.0h-3.0zM333.0 147.6h3.0v3.0h-3.0zM346.0 152.8h3.0v3.0h-3.0zM351.2 155.4h3.0v3.0h-3.0zM356.4 160.6h3.0v3.0h-3.0zM361.6 171.0h3.0v3.0h-3.0zM366.8 178.8h3.0v3.0h-3.0zM369.4 181.4h3.0v3.0h-3.0zM395.4 197.0h3.0v3.0h-3.0zM408.4 204.8h3.0v3.0h-3.0z"/>
<path fill="rgb(225,225,225)" d="M255.0 132.0h31.6v3.0h-31.6zM296.6 134.6h3.0v3.0h-3.0zM307.0 137.2h3.0v3.0h-3.0zM314.8 139.8h3.0v3.0h-3.0zM325.2 145.0h3.0v3.0h-3.0zM340.8 150.2h3.0v3.0h-3.0zM353.8 158.0h3.0v3.0h-3.0zM359.0 168.4h3.0v3.0h-3.0zM364.2 176.2h3.0v3.0h-3.0zM372.0 184.0h3.0v3.0h-3.0zM374.6 186.6h3.0v3.0h-3.0zM382.4 191.8h3.0v3.0h-3.0zM387.6 194.4h3.0v3.0h-3.0z"/>
<path fill="rgb(226,226,226)" d="M291.4 134.6h5.6v3.0h-5.6zM304.4 137.2h3.0v3.0h-3.0zM312.2 139.8h3.0v3.0h-3.0zM320.0 142.4h3.0v3.0h-3.0zM330.4 147.6h3.0v3.0h-3.0zM338.2 150.2h3.0v3.0h-3.0zM343.4 152.8h3.0v3.0h-3.0zM348.6 155.4h3.0v3.0h-3.0zM356.4 163.2h3.0v3.0h-3.0zM361.6 173.6h3.0v3.0h-3.0zM377.2 189.2h3.0v3.0h-3.0zM392.8 197.0h3.0v3.0h-3.0zM398.0 199.6h3.0v3.0h-3.0zM403.2 202.2h3.0v3.0h-3.0zM411.0 207.4h3.0v3.0h-3.0zM418.8 215.2h3.0v3.0h-3.0zM421.4 220.4h3.0v3.0h-3.0z"/>
<path fill="rgb(227,227,227)" d="M260.2 134.6h13.4v3.0h-13.4zM286.2 134.6h5.6v3.0h-5.6zM299.2 137.2h5.6v3.0h-5.6zM309.6 139.8h3.0v3.0h-3.0zM317.4 142.4h3.0v3.0h-3.0zM322.6 145.0h3.0v3.0h-3.0zM327.8 147.6h3.0v3.0h-3.0zM335.6 150.2h3.0v3.0h-3.0zM413.6 210.0h3.0v3.0h-3.0zM416.2 212.6h3.0v3.0h-3.0z"/>
<path fill="rgb(228,228,228)" d="M273.2 134.6h13.4v3.0h-13.4zM296.6 137.2h3.0v3.0h-3.0zM307.0 139.8h3.0v3.0h-3.0zM314.8 142.4h3.0v3.0h-3.0zM333.0 150.2h3.0v3.0h-3.0zM346.0 155.4h3.0v3.0h-3.0zM351.2 158.0h3.0v3.0h-3.0zM353.8 160.6h3.0v3.0h-3.0zM356.4 165.8h3.0v3.0h-3.0zM359.0 171.0h3.0v3.0h-3.0zM364.2 178.8h3.0v3.0h-3.0zM366.8 181.4h3.0v3.0h-3.0zM369.4 184.0h3.0v3.0h-3.0zM372.0 186.6h3.0v3.0h-3.0zM379.8 191.8h3.0v3.0h-3.0zM385.0 194.4h3.0v3.0h-3.0zM390.2 197.0h3.0v3.0h-3.0zM405.8 204.8h3.0v3.0h-3.0z"/>
<path fill="rgb(229,229,229)" d="M262.8 137.2h3.0v3.0h-3.0zM291.4 137.2h5.6v3.0h-5.6zM304.4 139.8h3.0v3.0h-3.0zM320.0 145.0h3.0v3.0h-3.0zM325.2 147.6h3.0v3.0h-3.0zM330.4 150.2h3.0v3.0h-3.0zM340.8 152.8h3.0v3.0h-3.0zM361.6 176.2h3.0v3.0h-3.0zM374.6 189.2h3.0v3.0h-3.0zM395.4 199.6h3.0v3.0h-3.0zM400.6 202.2h3.0v3.0h-3.0zM418.8 217.8h3.0v3.0h-3.0z"/>
<path fill="rgb(230,230,230)" d="M265.4 137.2h13.4v3.0h-13.4zM286.2 137.2h5.6v3.0h-5.6zM301.8 139.8h3.0v3.0h-3.0zM309.6 142.4h5.6v3.0h-5.6zM317.4 145.0h3.0v3.0h-3.0zM322.6 147.6h3.0v3.0h-3.0zM338.2 152.8h3.0v3.0h-3.0zM343.4 155.4h3.0v3.0h-3.0zM348.6 158.0h3.0v3.0h-3.0zM353.8 163.2h3.0v3.0h-3.0zM356.4 168.4h3.0v3.0h-3.0zM359.0 173.6h3.0v3.0h-3.0zM377.2 191.8h3.0v3.0h-3.0zM382.4 194.4h3.0v3.0h-3.0zM387.6 197.0h3.0v3.0h-3.0zM408.4 207.4h3.0v3.0h-3.0z"/>
<path fill="rgb(231,231,231)" d="M278.4 137.2h8.2v3.0h-8.2zM296.6 139.8h5.6v3.0h-5.6zM307.0 142.4h3.0v3.0h-3.0zM327.8 150.2h3.0v3.0h-3.0zM335.6 152.8h3.0v3.0h-3.0zM364.2 181.4h3.0v3.0h-3.0zM366.8 184.0h3.0v3.0h-3.0zM392.8 199.6h3.0v3.0h-3.0zM398.0 202.2h3.0v3.0h-3.0zM403.2 204.8h3.0v3.0h-3.0zM411.0 210.0h3.0v3.0h-3.0z"/>
<path fill="rgb(232,232,232)" d="M268.0 139.8h29.0v3.0h-29.0zM268.0 142.4h39.4v3.0h-39.4zM273.2 145.0h44.6v3.0h-44.6zM273.2 147.6h49.8v3.0h-49.8zM296.6 150.2h31.6v3.0h-31.6zM307.0 152.8h29.0v3.0h-29.0zM314.8 155.4h29.0v3.0h-29.0zM320.0 158.0h29.0v3.0h-29.0zM325.2 160.6h29.0v3.0h-29.0zM333.0 163.2h21.2v3.0h-21.2zM340.8 165.8h16.0v3.0h-16.0zM346.0 168.4h10.8v3.0h-10.8zM351.2 171.0h8.2v3.0h-8.2zM353.8 173.6h5.6v3.0h-5.6zM359.0 176.2h3.0v3.0h-3.0zM361.6 178.8h3.0v3.0h-3.0zM361.6 181.4h3.0v3.0h-3.0zM364.2 184.0h3.0v3.0h-3.0zM364.2 186.6h8.2v3.0h-8.2zM366.8 189.2h8.2v3.0h-8.2zM372.0 191.8h5.6v3.0h-5.6zM372.0 194.4h10.8v3.0h-10.8zM377.2 197.0h10.8v3.0h-10.8zM379.8 199.6h13.4v3.0h-13.4zM385.0 202.2h13.4v3.0h-13.4zM390.2 204.8h13.4v3.0h-13.4zM390.2 207.4h18.6v3.0h-18.6zM392.8 210.0h18.6v3.0h-18.6zM395.4 212.6h21.2v3.0h-21.2zM400.6 215.2h18.6v3.0h-18.6zM408.4 217.8h10.8v3.0h-10.8zM411.0 220.4h10.8v3.0h-10.8z"/>
<path fill="rgb(233,233,233)" d="M275.8 150.2h21.2v3.0h-21.2zM281.0 152.8h26.4v3.0h-26.4zM281.0 155.4h34.2v3.0h-34.2zM286.2 158.0h34.2v3.0h-34.2zM291.4 160.6h34.2v3.0h-34.2zM299.2 163.2h34.2v3.0h-34.2zM314.8 165.8h26.4v3.0h-26.4zM314.8 168.4h31.6v3.0h-31.6zM398.0 215.2h3.0v3.0h-3.0z"/>
<path fill="rgb(234,234,234)" d="M294.0 163.2h5.6v3.0h-5.6z"/>
</g></g>
<g mask="url(#mB)"><g filter="url(#fB)">
<path fill="rgb(23,23,23)" stroke="rgb(23,23,23)" stroke-width="8" stroke-linejoin="round" d="M265,414.5 L297.5,414.5 L297.5,419.2 L307.5,419.2 L307.5,423.7 L326.3,423.7 L326.3,428.8 L346.5,428.8 L346.5,433.7 L367.2,433.7 L367.2,438.8 L400.8,438.8 L400.8,443.7 L415.4,443.7 L415.4,448.6 L425.8,448.6 L425.8,453.5 L430.9,453.5 L430.9,458.3 L435.5,458.3 L435.5,463.2 L445.2,463.2 L445.2,468.1 L455.5,468.1 L455.5,473.3 L469.9,473.3 L469.9,478.1 L484.5,478.1 L484.5,483.6 L499.8,483.6 L499.8,487.9 L509.5,487.9 L509.5,493.4 L524.1,493.4 L524.1,498.2 L535.5,498.2 L535.5,502.8 L558.3,502.8 L558.3,508.3 L568,508.3 L568,513.1 L573.5,513.1 L573.5,517.9 L578.3,517.9 L578.3,522.8 L583,522.8 L583,527.6 L593.2,527.6 L593.2,532.4 L607.6,532.4 L607.6,537.2 L617.6,537.2 L617.6,547.2 L607.6,547.2 L607.6,551.4 L583.1,551.4 L583.1,558.2 L577.8,558.2 L577.8,575 L557.6,575 L557.6,570.8 L524.7,570.8 L524.7,566.5 L509.5,566.5 L509.5,561.6 L494.9,561.6 L494.9,547 L504.6,547 L504.6,542.1 L510.1,542.1 L510.1,537.3 L514.6,537.3 L514.6,527.2 L504.6,527.2 L504.6,522.2 L494.9,522.2 L494.9,517.4 L480.3,517.4 L480.3,512 L473,512 L473,511 L455,511 L455,509.5 L444.5,509.5 L444.5,504.6 L434.6,504.6 L434.6,499.7 L423.6,499.7 L423.6,494.9 L413.9,494.9 L413.9,490 L403,490 L403,485 L390,485 L390,480 L378.5,480 L378.5,475.7 L359,475.7 L359,472 L351,472 L351,469 L343,469 L343,466.6 L332.8,466.6 L332.8,462.7 L321.7,462.7 L321.7,460.8 L317.5,460.8 L317.5,457.5 L312.5,457.5 L312.5,454 L308,454 L308,450.5 L303,450.5 L303,447.5 L298.5,447.5 L298.5,444 L294,444 L294,439.5 L289.5,439.5 L289.5,435.5 L285,435.5 L285,432.5 L277,432.5 L277,428.8 L274,428.8 L274,424 L269.5,424 L269.5,419.2 L265,419.2 Z M199.3,412.1 L205,412.1 L205,409.5 L215.5,409.5 L215.5,404.5 L227,404.5 L227,409.5 L232,409.5 L232,412 L237.5,412 L237.5,414.5 L242.5,414.5 L242.5,421 L237.5,421 L237.5,424.5 L232,424.5 L232,428.2 L199.3,428.2 Z"/>
<linearGradient id="gb1" gradientUnits="userSpaceOnUse" x1="199" y1="428" x2="222" y2="410"><stop offset="0" stop-color="rgb(62,62,62)"/><stop offset="0.55" stop-color="rgb(51,51,51)"/><stop offset="1" stop-color="rgb(38,38,38)"/></linearGradient>
<rect x="195" y="412.3" width="30.5" height="20" fill="url(#gb1)"/>
<ellipse cx="331" cy="445" rx="9" ry="5" fill="rgb(14,14,14)"/>
<ellipse cx="420" cy="500" rx="14" ry="4" fill="rgb(15,15,15)" transform="rotate(20 420 500)"/>
<path fill="rgb(38,38,38)"  d="M341,443 L350,440.5 L368,440 L372,470 L358,467.5 L346,465 L340,460 Z"/>
<path fill="rgb(42,42,42)"  d="M400,430 L430,440 L450,455 L480,465 L510,475 L540,490 L570,500 L590,520 L586,531 L575,521 L560,511 L540,506 L523,498 L500,498 L484,503 L480,513 L472,512 L466,503 L458,493 L450,488 L435,479 L420,472 Z"/>
<radialGradient id="gel" gradientUnits="userSpaceOnUse" cx="403" cy="455" r="40" gradientTransform="translate(403 455) scale(1 0.6) translate(-403 -455)"><stop offset="0" stop-color="rgb(73,73,73)"/><stop offset="0.35" stop-color="rgb(68,68,68)"/><stop offset="0.8" stop-color="rgb(59,59,59)"/><stop offset="1" stop-color="rgb(55,55,55)"/></radialGradient>
<path fill="url(#gel)" d="M364.5,455 L368,445 L378,441 L395,440 L410,443 L425,449 L433,455 L435.5,465 L433,474 L425,479 L405,480 L390,478 L378,473 L368,465 Z"/>
<path fill="rgb(75,75,75)" d="M390,460 L396,454 L402,459 L396,465 Z"/>
<path fill="rgb(27,27,27)"  d="M402.3,435.3 L402.3,440.2 L416.9,440.2 L416.9,445.1 L427.3,445.1 L427.3,450.0 L432.4,450.0 L432.4,454.8 L437.0,454.8 L437.0,459.7 L446.7,459.7 L446.7,464.6 L457.0,464.6 L457.0,469.8 L471.4,469.8 L471.4,474.6 L486.0,474.6 L486.0,480.1 L501.3,480.1 L501.3,484.4 L511.0,484.4 L511.0,489.9 L525.6,489.9 L525.6,494.7 L537.0,494.7 L537.0,499.3 L534.0,505.0 L534.0,500.4 L522.6,500.4 L522.6,495.59999999999997 L508.0,495.59999999999997 L508.0,490.09999999999997 L498.3,490.09999999999997 L498.3,485.8 L483.0,485.8 L483.0,480.3 L468.4,480.3 L468.4,475.5 L454.0,475.5 L454.0,470.3 L443.7,470.3 L443.7,465.4 L434.0,465.4 L434.0,460.5 L429.4,460.5 L429.4,455.7 L424.3,455.7 L424.3,450.8 L413.9,450.8 L413.9,445.9 L399.3,445.9 L399.3,441.0 Z"/>
<path fill="rgb(55,55,55)"  d="M476,505 L482,499 L500,497 L523,497 L540,505 L560,510 L576,519 L586,528 L590,540 L584,560 L580,576 L525,574 L510,560 L495,540 L480,520 Z"/>
<path fill="rgb(69,69,69)"  d="M494,514 L510,511 L535,514 L560,518 L580,523 L592,527 L603,533 L603,551 L585,556 L578,558 L560,559 L530,558 L514,552 L505,535 L497,524 Z"/>
<path fill="rgb(94,94,94)"  d="M508,523 L520,520.5 L540,521 L560,522 L576,525 L586,530 L589,540 L586,550 L575,554 L550,554.5 L528,553 L518,547 L513,535 Z"/>
<path fill="rgb(94,94,94)"  d="M596,540 L602,533 L622,533 L622,552 L600,552 Z"/>
<path fill="rgb(112,112,112)"  d="M527,541 L533,534 L550,533 L568,533.5 L577,537 L576,545.5 L567,549 L545,549.5 L532,548 Z"/>
<path fill="rgb(32,32,32)"  d="M530,490 L545,494 L560,498 L575,508 L590,520 L596,526 L590,530 L580,524 L570,514 L557,507 L545,504 L532,500 Z"/>
<path fill="rgb(56,56,56)"  d="M512,553 L530,558.5 L560,560 L580,557 L582,578 L520,578 L510,566 Z"/>
<path fill="rgb(29,29,29)"  d="M490,541 L503,540 L510,537 L516,545 L522,556 L527,568 L527,580 L490,580 Z"/>
<path fill="rgb(40,40,40)"  d="M522,568 L535,567 L555,568 L578,566 L582,572 L582,580 L522,580 Z"/>
<path fill="rgb(23,23,23)"  d="M556,573 L580,572 L582,580 L556,580 Z"/>
</g></g>
<path fill="#000" d="M603.1,278.7H613.6V273.5H639.4V278.7H641V304.8H603.1Z"/>
<g fill="none" stroke="#000" stroke-width="1.9">
<rect x="158.1" y="5.1" width="482.9" height="322.6"/>
<rect x="157.5" y="370.9" width="481.6" height="221.6"/>
</g>
<path stroke="#000" stroke-width="1.6" fill="none" d="M173.7,5.1v6.5 M173.7,327.7v-6.5 M230.8,5.1v6.5 M230.8,327.7v-6.5 M287.9,5.1v6.5 M287.9,327.7v-6.5 M345.0,5.1v6.5 M345.0,327.7v-6.5 M402.1,5.1v6.5 M402.1,327.7v-6.5 M459.2,5.1v6.5 M459.2,327.7v-6.5 M516.3,5.1v6.5 M516.3,327.7v-6.5 M573.4,5.1v6.5 M573.4,327.7v-6.5 M630.5,5.1v6.5 M630.5,327.7v-6.5 M173.6,327.7v6.8 M158.1,32.8h9.2 M641,32.8h-9.2 M158.1,71.1h9.2 M641,71.1h-9.2 M158.1,109.5h9.2 M641,109.5h-9.2 M158.1,147.8h9.2 M641,147.8h-9.2 M158.1,186.1h9.2 M641,186.1h-9.2 M158.1,224.4h9.2 M641,224.4h-9.2 M158.1,262.8h9.2 M641,262.8h-9.2 M158.1,301.1h9.2 M641,301.1h-9.2 M171.8,370.9v5.5 M171.8,592.5v-4.5 M225.8,370.9v5.5 M225.8,592.5v-4.5 M279.8,370.9v5.5 M279.8,592.5v-4.5 M333.8,370.9v5.5 M333.8,592.5v-4.5 M387.8,370.9v5.5 M387.8,592.5v-4.5 M441.8,370.9v5.5 M441.8,592.5v-4.5 M495.8,370.9v5.5 M495.8,592.5v-4.5 M549.8,370.9v5.5 M549.8,592.5v-4.5 M603.8,370.9v5.5 M603.8,592.5v-4.5 M225.8,592.5v6.2 M157.5,388.1h9.5 M639.1,388.1h-9.5 M157.5,417.0h9.5 M639.1,417.0h-9.5 M157.5,445.9h9.5 M639.1,445.9h-9.5 M157.5,474.8h9.5 M639.1,474.8h-9.5 M157.5,503.7h9.5 M639.1,503.7h-9.5 M157.5,532.6h9.5 M639.1,532.6h-9.5 M157.5,561.5h9.5 M639.1,561.5h-9.5 M157.5,590.4h9.5 M639.1,590.4h-9.5"/>
<rect x="382.5" y="47.9" width="240" height="9.6" fill="url(#cbA)" stroke="#000" stroke-width="1.1"/>
<rect x="390.6" y="413.7" width="231" height="9.1" fill="url(#cbB)" stroke="#000" stroke-width="1.1"/>
<path stroke="#000" stroke-width="1.1" d="M422.3,48.4v2M422.3,57v-2M462.6,48.4v2M462.6,57v-2M502.7,48.4v2M502.7,57v-2M543.0,48.4v2M543.0,57v-2M583.0,48.4v2M583.0,57v-2M413.4,414.2v1.8M413.4,422.3v-1.8M436.6,414.2v1.8M436.6,422.3v-1.8M459.8,414.2v1.8M459.8,422.3v-1.8M482.9,414.2v1.8M482.9,422.3v-1.8M506.1,414.2v1.8M506.1,422.3v-1.8M529.2,414.2v1.8M529.2,422.3v-1.8M552.4,414.2v1.8M552.4,422.3v-1.8M575.5,414.2v1.8M575.5,422.3v-1.8M598.6,414.2v1.8M598.6,422.3v-1.8"/>
<ellipse cx="206.4" cy="295.4" rx="17.2" ry="9.5" fill="none" stroke="#333" stroke-width="1.2"/>
<ellipse cx="206.2" cy="295.3" rx="4.2" ry="3.3" fill="#777"/>
<ellipse cx="205.05" cy="570.45" rx="16.4" ry="8.9" fill="none" stroke="#333" stroke-width="1.1"/>
<ellipse cx="205.0" cy="570.3" rx="3.8" ry="3.3" fill="#777"/>
<g fill="none" stroke="#707070" stroke-width="0.85">
<g transform="rotate(-25 596.1 290.1)"><ellipse cx="596.1" cy="290.1" rx="10.5" ry="8.3"/><ellipse cx="596.1" cy="290.1" rx="8.4" ry="6.7"/><ellipse cx="596.1" cy="290.1" rx="6.5" ry="5.2"/><ellipse cx="596.1" cy="290.1" rx="4.7" ry="3.8"/><ellipse cx="596.1" cy="290.1" rx="3.1" ry="2.5"/><ellipse cx="596.1" cy="290.1" rx="1.7" ry="1.4"/></g>
<g transform="rotate(-25 193.8 414.3)"><ellipse cx="193.8" cy="414.3" rx="10.5" ry="8.4"/><ellipse cx="193.8" cy="414.3" rx="8.4" ry="6.8"/><ellipse cx="193.8" cy="414.3" rx="6.5" ry="5.3"/><ellipse cx="193.8" cy="414.3" rx="4.7" ry="3.9"/><ellipse cx="193.8" cy="414.3" rx="3.1" ry="2.6"/><ellipse cx="193.8" cy="414.3" rx="1.7" ry="1.4"/></g>
<path d="M589,295.8 C586.5,296.8 583.8,297.6 584.3,299.4 C585.2,300.6 588,299 591,297.8"/>
<circle cx="600.4" cy="276.8" r="2.2" fill="#fff"/>
<ellipse cx="600.1" cy="270.2" rx="2.8" ry="1.5" transform="rotate(-35 600.1 270.2)"/>
<ellipse cx="581" cy="291.5" rx="2.6" ry="1.7" transform="rotate(-40 581 291.5)"/>
<ellipse cx="574.5" cy="302" rx="2.1" ry="1.2"/>
<path d="M195.8,406.5 C195.6,403.5 194.8,401.8 196.8,401.3 C199.5,401 199.6,403.5 199.3,406.5"/>
<path d="M187,420.5 C185.5,421.5 182,423 182.6,424.5 C183.5,425.3 186,423.8 188.5,422.5"/>
<ellipse cx="197.4" cy="396" rx="2.6" ry="1.4" transform="rotate(-30 197.4 396)"/>
<ellipse cx="179.5" cy="415.6" rx="2.3" ry="1.8" transform="rotate(-40 179.5 415.6)"/>
<ellipse cx="172.8" cy="426.3" rx="2.2" ry="1.3"/>
</g>
<g transform="translate(112.31,43.84) scale(0.2955,0.2632)"><text font-family="Liberation Sans" font-size="80" font-weight="normal">30&quot;</text></g>
<g transform="translate(112.11,82.34) scale(0.2973,0.2614)"><text font-family="Liberation Sans" font-size="80" font-weight="normal">35&quot;</text></g>
<g transform="translate(112.41,120.54) scale(0.2946,0.2632)"><text font-family="Liberation Sans" font-size="80" font-weight="normal">40&quot;</text></g>
<g transform="translate(112.41,158.83) scale(0.2946,0.2679)"><text font-family="Liberation Sans" font-size="80" font-weight="normal">45&quot;</text></g>
<g transform="translate(112.11,197.14) scale(0.2973,0.2632)"><text font-family="Liberation Sans" font-size="80" font-weight="normal">50&quot;</text></g>
<g transform="translate(112.11,235.53) scale(0.2973,0.2679)"><text font-family="Liberation Sans" font-size="80" font-weight="normal">55&quot;</text></g>
<g transform="translate(112.62,311.35) scale(0.2928,0.2509)"><text font-family="Liberation Sans" font-size="80" font-weight="normal">05&quot;</text></g>
<g transform="translate(46.82,273.69) scale(0.2956,0.3123)"><text font-family="Liberation Sans" font-size="80" font-weight="normal">&#8722;5&#176;12&#39;00&quot;</text></g>
<g transform="translate(111.40,427.94) scale(0.2991,0.2579)"><text font-family="Liberation Sans" font-size="80" font-weight="normal">04&quot;</text></g>
<g transform="translate(111.40,457.15) scale(0.2991,0.2509)"><text font-family="Liberation Sans" font-size="80" font-weight="normal">08&quot;</text></g>
<g transform="translate(110.46,486.90) scale(0.3074,0.2571)"><text font-family="Liberation Sans" font-size="80" font-weight="normal">12&quot;</text></g>
<g transform="translate(110.46,515.64) scale(0.3074,0.2614)"><text font-family="Liberation Sans" font-size="80" font-weight="normal">16&quot;</text></g>
<g transform="translate(111.09,544.54) scale(0.3018,0.2561)"><text font-family="Liberation Sans" font-size="80" font-weight="normal">20&quot;</text></g>
<g transform="translate(111.09,573.74) scale(0.3018,0.2596)"><text font-family="Liberation Sans" font-size="80" font-weight="normal">24&quot;</text></g>
<g transform="translate(111.09,602.24) scale(0.3018,0.2596)"><text font-family="Liberation Sans" font-size="80" font-weight="normal">28&quot;</text></g>
<g transform="translate(46.13,399.28) scale(0.2920,0.3175)"><text font-family="Liberation Sans" font-size="80" font-weight="normal">&#8722;5&#176;12&#39;00&quot;</text></g>
<g transform="translate(123.35,359.03) scale(0.2846,0.2659)"><text font-family="Liberation Sans" font-size="80">05<tspan font-size="56" dy="-40.8">h</tspan><tspan dy="40.8">35</tspan><tspan font-size="56" dy="-40.8">m</tspan><tspan dy="40.8">27</tspan><tspan font-size="54.0" font-weight="bold" dy="-40.8">s</tspan></text></g>
<g transform="translate(272.41,359.24) scale(0.2713,0.2577)"><text font-family="Liberation Sans" font-size="80">26<tspan font-size="54.0" font-weight="bold" dx="2.4" dy="-40.8">s</tspan></text></g>
<g transform="translate(386.41,359.24) scale(0.2713,0.2577)"><text font-family="Liberation Sans" font-size="80">25<tspan font-size="54.0" font-weight="bold" dx="2.4" dy="-40.8">s</tspan></text></g>
<g transform="translate(500.41,359.24) scale(0.2713,0.2577)"><text font-family="Liberation Sans" font-size="80">24<tspan font-size="54.0" font-weight="bold" dx="2.4" dy="-40.8">s</tspan></text></g>
<g transform="translate(614.38,359.24) scale(0.2809,0.2577)"><text font-family="Liberation Sans" font-size="80">23<tspan font-size="54.0" font-weight="bold" dx="2.4" dy="-40.8">s</tspan></text></g>
<g transform="translate(175.15,624.33) scale(0.2846,0.2683)"><text font-family="Liberation Sans" font-size="80">05<tspan font-size="56" dy="-40.8">h</tspan><tspan dy="40.8">35</tspan><tspan font-size="56" dy="-40.8">m</tspan><tspan dy="40.8">23</tspan><tspan font-size="54.0" font-weight="bold" dy="-40.8">s</tspan></text></g>
<g transform="translate(318.11,624.30) scale(0.2713,0.2586)"><text font-family="Liberation Sans" font-size="80">22<tspan font-size="54.0" font-weight="bold" dx="2.4" dy="-40.8">s</tspan></text></g>
<g transform="translate(425.48,624.30) scale(0.2809,0.2586)"><text font-family="Liberation Sans" font-size="80">21<tspan font-size="54.0" font-weight="bold" dx="2.4" dy="-40.8">s</tspan></text></g>
<g transform="translate(533.89,624.05) scale(0.2774,0.2549)"><text font-family="Liberation Sans" font-size="80">20<tspan font-size="54.0" font-weight="bold" dx="2.4" dy="-40.8">s</tspan></text></g>
<g transform="translate(306.64,651.78) scale(0.2573,0.2598)"><text font-family="Liberation Sans" font-size="104" font-weight="normal">Right Ascension</text></g>
<g transform="matrix(0,-0.2602,0.2566,0,33.24,376.88)"><text font-family="Liberation Sans" font-size="104" font-weight="normal">Declination</text></g>
<g transform="translate(599.02,31.66) scale(0.2462,0.2547)"><text font-family="Liberation Sans" font-size="92" font-weight="bold">(a)</text></g>
<g transform="translate(596.94,394.96) scale(0.2651,0.2756)"><text font-family="Liberation Sans" font-size="92" font-weight="bold">(b)</text></g>
<g transform="translate(381.48,44.70) scale(0.3111,0.2484)"><text font-family="Liberation Sans" font-size="44" font-weight="normal">30</text></g>
<g transform="translate(416.70,44.70) scale(0.3043,0.2484)"><text font-family="Liberation Sans" font-size="44" font-weight="normal">40</text></g>
<g transform="translate(455.18,44.70) scale(0.3111,0.2484)"><text font-family="Liberation Sans" font-size="44" font-weight="normal">50</text></g>
<g transform="translate(495.18,44.70) scale(0.3111,0.2484)"><text font-family="Liberation Sans" font-size="44" font-weight="normal">60</text></g>
<g transform="translate(534.98,44.70) scale(0.3111,0.2484)"><text font-family="Liberation Sans" font-size="44" font-weight="normal">70</text></g>
<g transform="translate(574.28,44.70) scale(0.3111,0.2484)"><text font-family="Liberation Sans" font-size="44" font-weight="normal">80</text></g>
<g transform="translate(381.80,70.00) scale(0.3043,0.2710)"><text font-family="Liberation Sans" font-size="44" font-weight="normal">40</text></g>
<g transform="translate(416.38,70.00) scale(0.3111,0.2710)"><text font-family="Liberation Sans" font-size="44" font-weight="normal">50</text></g>
<g transform="translate(455.18,70.00) scale(0.3111,0.2710)"><text font-family="Liberation Sans" font-size="44" font-weight="normal">60</text></g>
<g transform="translate(495.18,70.00) scale(0.3111,0.2710)"><text font-family="Liberation Sans" font-size="44" font-weight="normal">70</text></g>
<g transform="translate(534.98,70.00) scale(0.3111,0.2710)"><text font-family="Liberation Sans" font-size="44" font-weight="normal">80</text></g>
<g transform="translate(574.28,70.00) scale(0.3111,0.2710)"><text font-family="Liberation Sans" font-size="44" font-weight="normal">90</text></g>
<g transform="translate(474.64,29.17) scale(0.2850,0.2533)"><text font-family="Liberation Sans" font-size="48" font-weight="normal">(km/s)</text></g>
<g transform="translate(323.20,43.51) scale(0.2746,0.2714)"><text font-family="Liberation Sans" font-size="44">V<tspan font-size="28" dy="12">LSR</tspan><tspan dy="-12"> - V</tspan><tspan font-size="28" dy="12">sys</tspan></text></g>
<g transform="translate(354.80,66.43) scale(0.2744,0.2977)"><text font-family="Liberation Sans" font-size="44">V<tspan font-size="28" dy="12">LSR</tspan></text></g>
<g transform="translate(424.09,411.40) scale(0.3034,0.2484)"><text font-family="Liberation Sans" font-size="44" font-weight="normal">-12</text></g>
<g transform="translate(471.63,411.40) scale(0.2850,0.2484)"><text font-family="Liberation Sans" font-size="44" font-weight="normal">-14</text></g>
<g transform="translate(518.21,411.40) scale(0.2933,0.2484)"><text font-family="Liberation Sans" font-size="44" font-weight="normal">-16</text></g>
<g transform="translate(565.21,411.40) scale(0.2933,0.2484)"><text font-family="Liberation Sans" font-size="44" font-weight="normal">-18</text></g>
<g transform="translate(608.20,411.40) scale(0.3017,0.2484)"><text font-family="Liberation Sans" font-size="44" font-weight="normal">-20</text></g>
<g transform="translate(427.58,434.20) scale(0.3114,0.2387)"><text font-family="Liberation Sans" font-size="44" font-weight="normal">-2</text></g>
<g transform="translate(475.50,434.20) scale(0.3000,0.2387)"><text font-family="Liberation Sans" font-size="44" font-weight="normal">-4</text></g>
<g transform="translate(521.69,434.20) scale(0.3029,0.2387)"><text font-family="Liberation Sans" font-size="44" font-weight="normal">-6</text></g>
<g transform="translate(569.37,434.20) scale(0.3143,0.2387)"><text font-family="Liberation Sans" font-size="44" font-weight="normal">-8</text></g>
<g transform="translate(607.41,434.20) scale(0.2950,0.2387)"><text font-family="Liberation Sans" font-size="44" font-weight="normal">-10</text></g>
<g transform="translate(488.12,398.21) scale(0.2591,0.2089)"><text font-family="Liberation Sans" font-size="48" font-weight="normal">(km/s)</text></g>
<g transform="translate(355.90,406.66) scale(0.2606,0.2633)"><text font-family="Liberation Sans" font-size="44">V<tspan font-size="28" dy="12">LSR</tspan><tspan dy="-12"> - V</tspan><tspan font-size="28" dy="12">sys</tspan></text></g>
<g transform="translate(375.30,430.10) scale(0.2537,0.3000)"><text font-family="Liberation Sans" font-size="44">V<tspan font-size="28" dy="12">LSR</tspan></text></g>
</svg></body></html>
